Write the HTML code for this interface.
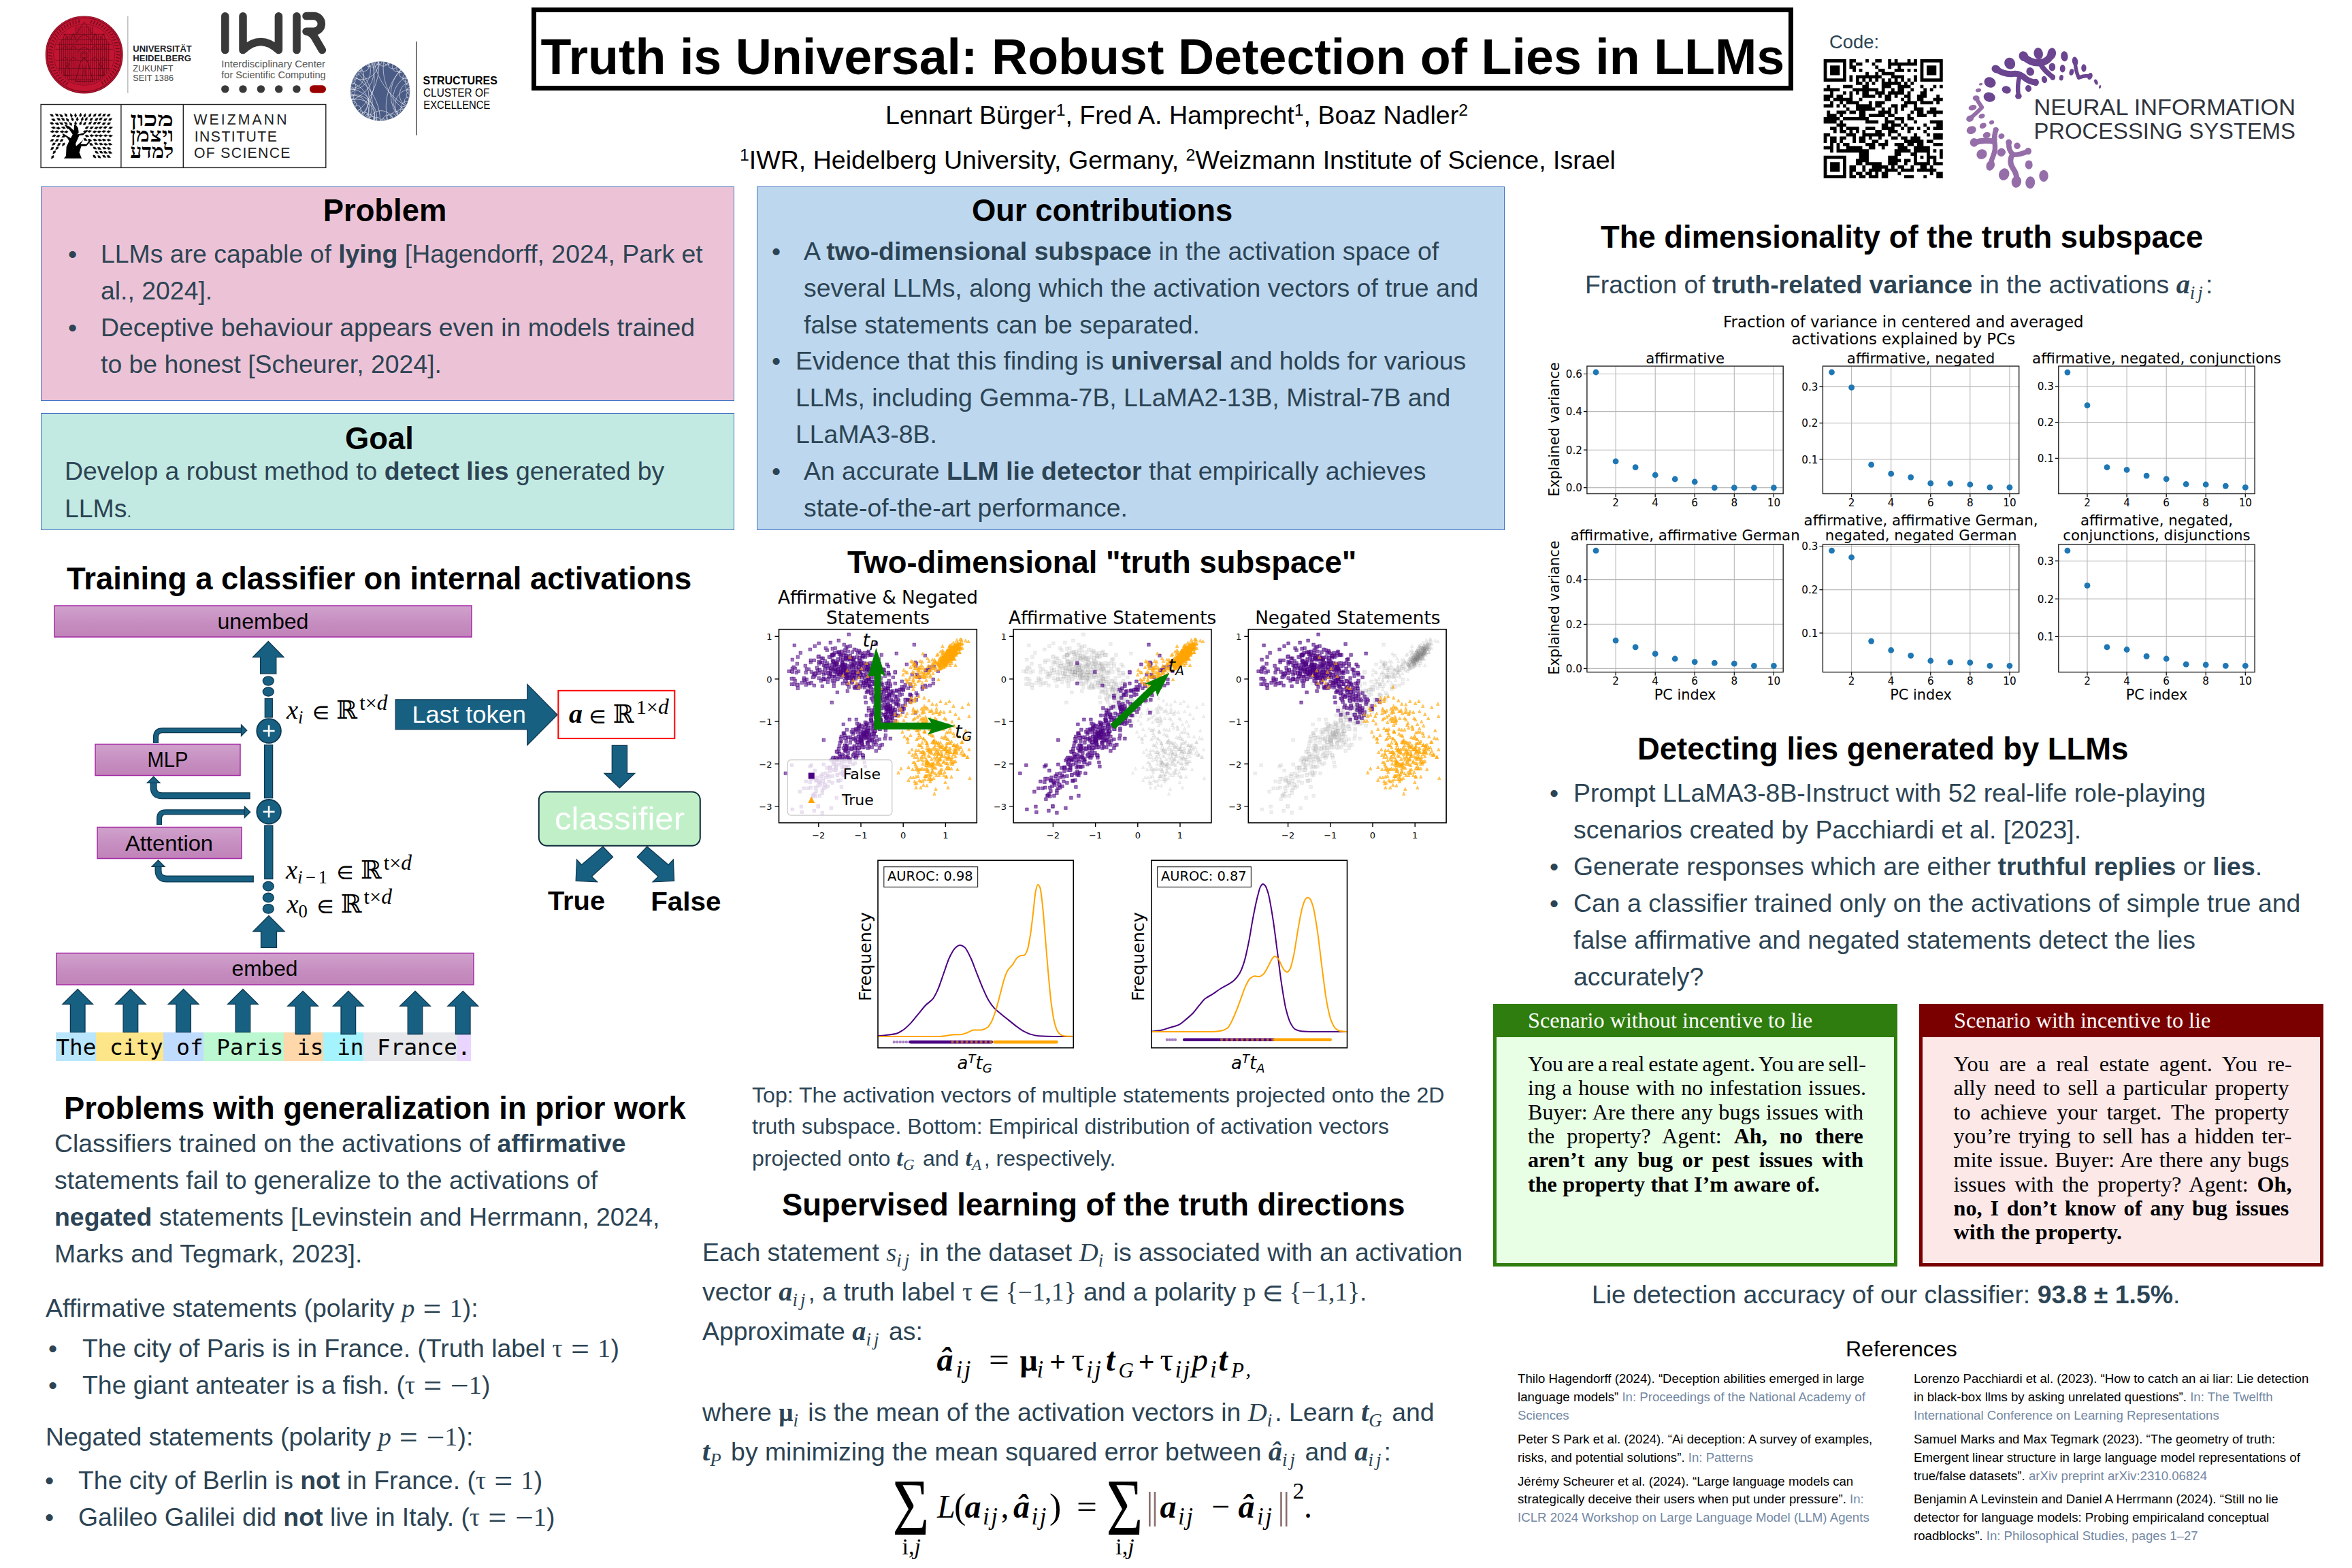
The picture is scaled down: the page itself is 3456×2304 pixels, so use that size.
<!DOCTYPE html>
<html lang="en"><head><meta charset="utf-8"><title>Truth is Universal: Robust Detection of Lies in LLMs</title>
<style>
*{box-sizing:border-box}
html,body{margin:0;padding:0}
body{width:3456px;height:2304px;position:relative;overflow:hidden;background:#fff;font-family:"Liberation Sans",sans-serif;color:#2c4454}
.a{position:absolute;white-space:nowrap;line-height:1}
.t{position:absolute;white-space:nowrap;line-height:54px;font-size:37.4px;color:#2c4454}
.h{position:absolute;white-space:nowrap;font-weight:bold;font-size:45.4px;color:#000;line-height:1}
.m{font-family:"Liberation Serif","DejaVu Math TeX Gyre","DejaVu Serif",serif;line-height:0}
.ms{letter-spacing:0.01em;word-spacing:0.06em}
.op{font-size:128%;line-height:0;position:relative;top:0.09em}
.mi{font-family:"Liberation Serif","DejaVu Serif",serif;font-style:italic;line-height:0;font-size:104%}
.mb{font-family:"Liberation Serif","DejaVu Serif",serif;font-style:italic;font-weight:bold;line-height:0;font-size:108%}
.dv{font-family:"DejaVu Sans",sans-serif}
.box{position:absolute;border:1.3px solid #4472c4}
sub.s{font-size:72%;vertical-align:-0.28em;line-height:0;letter-spacing:0.15em}
sup.s{font-size:72%;vertical-align:0.45em;line-height:0}
.ref{position:absolute;font-size:18.65px;line-height:26.9px;color:#000;white-space:nowrap}
.ref i{font-style:normal;color:#7388a3}
.ref p{margin:0 0 8px 0}
.sc{position:absolute;font-family:"Liberation Serif",serif;color:#000;font-size:32.2px;line-height:35.3px}
.tk span{display:inline-block;height:41.5px;line-height:44.5px;vertical-align:top}
svg{position:absolute;overflow:visible}
svg text{white-space:pre}
</style></head><body>
<!-- title -->
<div class="a" style="left:781px;top:11.3px;width:1854px;height:121.5px;border:7.5px solid #000"></div>
<div class="a" style="left:794.5px;top:43.5px;font-size:73.6px;font-weight:bold;color:#000;line-height:80px">Truth is Universal: Robust Detection of Lies in LLMs</div>
<div class="a" style="left:1301px;top:147px;font-size:37.6px;color:#000;line-height:44px">Lennart Bürger<sup class="s" style="font-size:66%;vertical-align:0.48em">1</sup>, Fred A. Hamprecht<sup class="s" style="font-size:66%;vertical-align:0.48em">1</sup>, Boaz Nadler<sup class="s" style="font-size:66%;vertical-align:0.48em">2</sup></div>
<div class="a" style="left:1087px;top:213px;font-size:37.6px;color:#000;line-height:44px"><sup class="s" style="font-size:66%;vertical-align:0.48em">1</sup>IWR, Heidelberg University, Germany, <sup class="s" style="font-size:66%;vertical-align:0.48em">2</sup>Weizmann Institute of Science, Israel</div>
<div class="a" style="left:2688px;top:47px;font-size:27.4px;line-height:30px;color:#2c4454">Code:</div>
<!-- logos -->
<svg style="left:0;top:0" width="3456" height="2304" viewBox="0 0 3456 2304">
<circle cx="123.7" cy="80.4" r="56.4" fill="#c31432" stroke="#8f1026" stroke-width="1.2"/>
<g fill="none" stroke="#6a0b1b" stroke-width="1.1" stroke-opacity="0.9">
<circle cx="123.7" cy="80.4" r="54.199999999999996"/>
<circle cx="123.7" cy="80.4" r="44.9" stroke-width="0.7"/>
<path d="M100.3 120.9L96.3 125.1M96.7 118.6L92.4 122.4M93.4 116.0L88.7 119.4M90.3 113.1L85.3 116.1M87.4 110.0L82.2 112.4M84.9 106.6L79.5 108.6M82.7 102.9L77.1 104.4M80.8 99.1L75.1 100.1M79.3 95.2L73.6 95.6M78.1 91.1L72.4 91.0M77.4 86.9L71.6 86.3M77.0 82.7L71.3 81.6M76.9 78.4L71.4 76.8M77.3 74.2L72.0 72.1M78.1 70.0L72.9 67.5M79.2 65.9L74.3 62.9M80.7 62.0L76.1 58.5M82.5 58.1L78.3 54.3M84.7 54.5L80.8 50.3M87.2 51.1L83.7 46.5M90.0 47.9L87.0 43.0M93.1 45.0L90.5 39.9M96.5 42.3L94.3 37.0M100.0 40.0L98.4 34.5M103.8 38.1L102.6 32.4M107.7 36.4L107.1 30.7M111.7 35.2L111.6 29.4M115.9 34.3L116.3 28.5M132.8 34.5L135.2 29.3M136.9 35.5L139.8 30.5M140.9 36.9L144.3 32.2M144.8 38.6L148.5 34.3M148.5 40.7L152.6 36.7M152.0 43.1L156.5 39.5M155.3 45.8L160.0 42.6M158.3 48.8L163.3 46.1M161.0 52.1L166.3 49.8M163.4 55.6L168.8 53.8M165.5 59.3L171.1 58.0M167.2 63.2L172.9 62.4M168.6 67.2L174.3 66.9M169.6 71.3L175.4 71.6M170.2 75.5L175.9 76.3M170.5 79.7L176.1 81.0M170.4 84.0L175.8 85.8M169.8 88.2L175.1 90.5M168.9 92.4L174.0 95.1M167.7 96.4L172.5 99.6M166.0 100.3L170.5 103.9M164.1 104.1L168.2 108.1M161.8 107.6L165.5 112.0M159.1 111.0L162.5 115.7M156.2 114.1L159.1 119.0M153.0 116.9L155.5 122.1M149.6 119.4L151.5 124.8" stroke-width="1.5"/>
<path d="M87.7 61.6V104.5M90.7 58.7V108.4M93.7 56.4V111.5M96.7 54.4V114.0M99.7 52.8V116.2M102.7 51.5V118.0M105.7 50.4V119.4M108.7 49.5V120.7M111.7 39.4V121.6M114.7 38.7V122.4M117.7 38.2V122.9M120.7 37.9V123.2M123.7 37.8V123.3M126.7 37.9V123.2M129.7 38.2V122.9M132.7 38.7V122.4M135.7 39.4V121.6M138.7 49.5V120.7M141.7 50.4V119.4M144.7 51.5V118.0M147.7 52.8V116.2M150.7 54.4V114.0M153.7 56.4V111.5M156.7 58.7V108.4M159.7 61.6V104.5" stroke-width="1"/>
<path d="M92.6 50.4H154.8M86.7 58.4H160.7M83.4 65.4H164.0M81.5 72.4H165.9M81.5 88.4H165.9M85.6 100.4H161.8M92.6 110.4H154.8M99.6 116.4H147.8" stroke-width="0.8"/>
<path d="M91.7 72.4 q4 -9 8 0M91.7 88.4 q4 -9 8 0M91.7 58.4 l4 -9 l4 9M103.7 72.4 q4 -9 8 0M103.7 88.4 q4 -9 8 0M103.7 58.4 l4 -9 l4 9M135.7 72.4 q4 -9 8 0M135.7 88.4 q4 -9 8 0M135.7 58.4 l4 -9 l4 9M147.7 72.4 q4 -9 8 0M147.7 88.4 q4 -9 8 0M147.7 58.4 l4 -9 l4 9M111.7 62.4 q12 -22 24 0M111.7 50.4 l12 -18 l12 18M114.7 76.4 q9 -14 18 0" stroke-width="1"/>
<circle cx="123.7" cy="81.4" r="3.6" stroke-width="1.1"/>
<circle cx="123.7" cy="81.4" r="5.8" stroke-width="0.7"/>
<path d="M123.7 85.4 q-7 4 -8 16 q-3 10 -5 18 h26 q-2 -8 -5 -18 q-1 -12 -8 -16 z" stroke-width="1.1"/>
<path d="M120.7 94.4 q3 8 0 22 M126.7 94.4 q-3 8 0 22" stroke-width="0.8"/>
<circle cx="98.7" cy="94.4" r="2.4"/>
<path d="M98.7 97.4 q-4 3 -4 14 h8 q0 -11 -4 -14z"/>
<circle cx="148.7" cy="94.4" r="2.4"/>
<path d="M148.7 97.4 q-4 3 -4 14 h8 q0 -11 -4 -14z"/>
</g>
<path d="M187.8 23.8V136.7" stroke="#bdbdbd" stroke-width="1.5"/>
<g font-family="'Liberation Sans',sans-serif" font-size="13.6">
<text x="195.3" y="75.6" font-weight="bold" fill="#1d1d1f" textLength="86.5" lengthAdjust="spacingAndGlyphs">UNIVERSITÄT</text>
<text x="195.3" y="90" font-weight="bold" fill="#1d1d1f" textLength="85.5" lengthAdjust="spacingAndGlyphs">HEIDELBERG</text>
<text x="195.3" y="104.7" fill="#444" textLength="59.3" lengthAdjust="spacingAndGlyphs">ZUKUNFT</text>
<text x="195.3" y="119.4" fill="#444" textLength="59.7" lengthAdjust="spacingAndGlyphs">SEIT 1386</text>
</g>
<g fill="none" stroke="#393939" stroke-width="11.5" stroke-linecap="round" stroke-linejoin="round">
<path d="M330.8 23.7V73.6"/>
<path d="M357 23.7V73.6Q383.2 49.6 409.4 73.6V23.7"/>
<path d="M436 23.7V73.6"/>
<path d="M450 23.6H461A11.3 11.3 0 0 1 461 46.2H450Q458 47 462.5 55L473.4 73.6"/>
</g>
<g fill="#393939">
<circle cx="330.8" cy="130.9" r="5.7"/>
<circle cx="357" cy="130.9" r="5.7"/>
<circle cx="383.4" cy="130.9" r="5.7"/>
<circle cx="409.7" cy="130.9" r="5.7"/>
<circle cx="435.9" cy="130.9" r="5.7"/>
</g><rect x="454.9" y="125.2" width="24.1" height="11.5" rx="5.75" fill="#9b0000"/>
<g font-family="'Liberation Sans',sans-serif" font-size="14" fill="#555">
<text x="325.3" y="98.7" textLength="152.8" lengthAdjust="spacingAndGlyphs">Interdisciplinary Center</text>
<text x="325.3" y="114.6" textLength="153.3" lengthAdjust="spacingAndGlyphs">for Scientific Computing</text></g>
<rect x="60.1" y="153.5" width="418.7" height="92.9" fill="#fff" stroke="#222" stroke-width="1.4"/>
<path d="M177.9 153.5V246.4M269.3 153.5V246.4" stroke="#222" stroke-width="1.4"/>
<g fill="#000" stroke="#000" stroke-width="0.5" stroke-linejoin="round"><path d="M73.2 169.3l2.4 -1.8l3.6 1.1l-3.3 2.3z" transform="rotate(-144 76.2 169.3)"/><path d="M80.7 168.8l2.4 -1.8l3.6 1.1l-3.3 2.3z" transform="rotate(-136 83.7 168.8)"/><path d="M87.1 169.8l2.4 -1.8l3.6 1.1l-3.3 2.3z" transform="rotate(-130 90.1 169.8)"/><path d="M94.0 168.9l2.4 -1.8l3.6 1.1l-3.3 2.3z" transform="rotate(-118 97.0 168.9)"/><path d="M101.9 169.5l2.4 -1.8l3.6 1.1l-3.3 2.3z" transform="rotate(-103 104.9 169.5)"/><path d="M108.2 169.4l2.4 -1.8l3.6 1.1l-3.3 2.3z" transform="rotate(-89 111.2 169.4)"/><path d="M115.5 169.1l2.4 -1.8l3.6 1.1l-3.3 2.3z" transform="rotate(-73 118.5 169.1)"/><path d="M121.8 169.7l2.4 -1.8l3.6 1.1l-3.3 2.3z" transform="rotate(-61 124.8 169.7)"/><path d="M129.4 169.4l2.4 -1.8l3.6 1.1l-3.3 2.3z" transform="rotate(-49 132.4 169.4)"/><path d="M136.5 169.4l2.4 -1.8l3.6 1.1l-3.3 2.3z" transform="rotate(-41 139.5 169.4)"/><path d="M143.6 169.0l2.4 -1.8l3.6 1.1l-3.3 2.3z" transform="rotate(-36 146.6 169.0)"/><path d="M150.1 169.3l2.4 -1.8l3.6 1.1l-3.3 2.3z" transform="rotate(-31 153.1 169.3)"/><path d="M156.8 169.5l2.4 -1.8l3.6 1.1l-3.3 2.3z" transform="rotate(-27 159.8 169.5)"/><path d="M75.6 175.8l2.4 -1.8l3.6 1.1l-3.3 2.3z" transform="rotate(-150 78.6 175.8)"/><path d="M83.3 175.0l2.4 -1.8l3.6 1.1l-3.3 2.3z" transform="rotate(-141 86.3 175.0)"/><path d="M89.8 175.2l2.4 -1.8l3.6 1.1l-3.3 2.3z" transform="rotate(-133 92.8 175.2)"/><path d="M96.3 175.9l2.4 -1.8l3.6 1.1l-3.3 2.3z" transform="rotate(-122 99.3 175.9)"/><path d="M103.6 175.0l2.4 -1.8l3.6 1.1l-3.3 2.3z" transform="rotate(-102 106.6 175.0)"/><path d="M110.8 175.1l2.4 -1.8l3.6 1.1l-3.3 2.3z" transform="rotate(-81 113.8 175.1)"/><path d="M118.1 175.1l2.4 -1.8l3.6 1.1l-3.3 2.3z" transform="rotate(-62 121.1 175.1)"/><path d="M124.0 175.1l2.4 -1.8l3.6 1.1l-3.3 2.3z" transform="rotate(-50 127.0 175.1)"/><path d="M131.3 175.4l2.4 -1.8l3.6 1.1l-3.3 2.3z" transform="rotate(-39 134.3 175.4)"/><path d="M138.9 175.7l2.4 -1.8l3.6 1.1l-3.3 2.3z" transform="rotate(-31 141.9 175.7)"/><path d="M145.2 174.9l2.4 -1.8l3.6 1.1l-3.3 2.3z" transform="rotate(-28 148.2 174.9)"/><path d="M151.9 176.0l2.4 -1.8l3.6 1.1l-3.3 2.3z" transform="rotate(-23 154.9 176.0)"/><path d="M159.2 175.6l2.4 -1.8l3.6 1.1l-3.3 2.3z" transform="rotate(-20 162.2 175.6)"/><path d="M73.1 181.0l2.4 -1.8l3.6 1.1l-3.3 2.3z" transform="rotate(-159 76.1 181.0)"/><path d="M81.0 181.6l2.4 -1.8l3.6 1.1l-3.3 2.3z" transform="rotate(-154 84.0 181.6)"/><path d="M87.3 181.3l2.4 -1.8l3.6 1.1l-3.3 2.3z" transform="rotate(-147 90.3 181.3)"/><path d="M94.0 181.1l2.4 -1.8l3.6 1.1l-3.3 2.3z" transform="rotate(-136 97.0 181.1)"/><path d="M100.9 181.9l2.4 -1.8l3.6 1.1l-3.3 2.3z" transform="rotate(-119 103.9 181.9)"/><path d="M108.3 181.1l2.4 -1.8l3.6 1.1l-3.3 2.3z" transform="rotate(-88 111.3 181.1)"/><path d="M115.6 181.2l2.4 -1.8l3.6 1.1l-3.3 2.3z" transform="rotate(-60 118.6 181.2)"/><path d="M121.7 181.6l2.4 -1.8l3.6 1.1l-3.3 2.3z" transform="rotate(-43 124.7 181.6)"/><path d="M129.6 181.0l2.4 -1.8l3.6 1.1l-3.3 2.3z" transform="rotate(-32 132.6 181.0)"/><path d="M136.5 181.2l2.4 -1.8l3.6 1.1l-3.3 2.3z" transform="rotate(-25 139.5 181.2)"/><path d="M142.6 181.0l2.4 -1.8l3.6 1.1l-3.3 2.3z" transform="rotate(-21 145.6 181.0)"/><path d="M149.8 181.8l2.4 -1.8l3.6 1.1l-3.3 2.3z" transform="rotate(-17 152.8 181.8)"/><path d="M157.0 181.9l2.4 -1.8l3.6 1.1l-3.3 2.3z" transform="rotate(-14 160.0 181.9)"/><path d="M75.6 187.4l2.4 -1.8l3.6 1.1l-3.3 2.3z" transform="rotate(-167 78.6 187.4)"/><path d="M82.6 188.1l2.4 -1.8l3.6 1.1l-3.3 2.3z" transform="rotate(-166 85.6 188.1)"/><path d="M90.3 187.4l2.4 -1.8l3.6 1.1l-3.3 2.3z" transform="rotate(-158 93.3 187.4)"/><path d="M96.7 187.4l2.4 -1.8l3.6 1.1l-3.3 2.3z" transform="rotate(-147 99.7 187.4)"/><path d="M124.8 187.6l2.4 -1.8l3.6 1.1l-3.3 2.3z" transform="rotate(-22 127.8 187.6)"/><path d="M131.7 187.8l2.4 -1.8l3.6 1.1l-3.3 2.3z" transform="rotate(-16 134.7 187.8)"/><path d="M138.7 188.1l2.4 -1.8l3.6 1.1l-3.3 2.3z" transform="rotate(-12 141.7 188.1)"/><path d="M145.0 187.7l2.4 -1.8l3.6 1.1l-3.3 2.3z" transform="rotate(-10 148.0 187.7)"/><path d="M151.9 187.5l2.4 -1.8l3.6 1.1l-3.3 2.3z" transform="rotate(-9 154.9 187.5)"/><path d="M159.6 188.0l2.4 -1.8l3.6 1.1l-3.3 2.3z" transform="rotate(-7 162.6 188.0)"/><path d="M73.9 193.1l2.4 -1.8l3.6 1.1l-3.3 2.3z" transform="rotate(-178 76.9 193.1)"/><path d="M80.4 193.3l2.4 -1.8l3.6 1.1l-3.3 2.3z" transform="rotate(-177 83.4 193.3)"/><path d="M88.1 193.3l2.4 -1.8l3.6 1.1l-3.3 2.3z" transform="rotate(-176 91.1 193.3)"/><path d="M94.2 193.5l2.4 -1.8l3.6 1.1l-3.3 2.3z" transform="rotate(-175 97.2 193.5)"/><path d="M122.4 193.4l2.4 -1.8l3.6 1.1l-3.3 2.3z" transform="rotate(-5 125.4 193.4)"/><path d="M128.7 193.2l2.4 -1.8l3.6 1.1l-3.3 2.3z" transform="rotate(-4 131.7 193.2)"/><path d="M136.2 193.8l2.4 -1.8l3.6 1.1l-3.3 2.3z" transform="rotate(-2 139.2 193.8)"/><path d="M142.9 193.8l2.4 -1.8l3.6 1.1l-3.3 2.3z" transform="rotate(-1 145.9 193.8)"/><path d="M149.8 193.3l2.4 -1.8l3.6 1.1l-3.3 2.3z" transform="rotate(-2 152.8 193.3)"/><path d="M156.8 193.6l2.4 -1.8l3.6 1.1l-3.3 2.3z" transform="rotate(-1 159.8 193.6)"/><path d="M76.4 199.3l2.4 -1.8l3.6 1.1l-3.3 2.3z" transform="rotate(171 79.4 199.3)"/><path d="M82.4 199.8l2.4 -1.8l3.6 1.1l-3.3 2.3z" transform="rotate(168 85.4 199.8)"/><path d="M90.3 200.2l2.4 -1.8l3.6 1.1l-3.3 2.3z" transform="rotate(162 93.3 200.2)"/><path d="M124.8 200.1l2.4 -1.8l3.6 1.1l-3.3 2.3z" transform="rotate(18 127.8 200.1)"/><path d="M131.8 199.5l2.4 -1.8l3.6 1.1l-3.3 2.3z" transform="rotate(12 134.8 199.5)"/><path d="M138.8 199.5l2.4 -1.8l3.6 1.1l-3.3 2.3z" transform="rotate(9 141.8 199.5)"/><path d="M145.0 199.6l2.4 -1.8l3.6 1.1l-3.3 2.3z" transform="rotate(8 148.0 199.6)"/><path d="M152.3 199.5l2.4 -1.8l3.6 1.1l-3.3 2.3z" transform="rotate(6 155.3 199.5)"/><path d="M159.4 199.9l2.4 -1.8l3.6 1.1l-3.3 2.3z" transform="rotate(6 162.4 199.9)"/><path d="M73.3 206.0l2.4 -1.8l3.6 1.1l-3.3 2.3z" transform="rotate(162 76.3 206.0)"/><path d="M80.4 206.1l2.4 -1.8l3.6 1.1l-3.3 2.3z" transform="rotate(157 83.4 206.1)"/><path d="M87.3 206.2l2.4 -1.8l3.6 1.1l-3.3 2.3z" transform="rotate(151 90.3 206.2)"/><path d="M122.3 205.3l2.4 -1.8l3.6 1.1l-3.3 2.3z" transform="rotate(36 125.3 205.3)"/><path d="M128.8 206.2l2.4 -1.8l3.6 1.1l-3.3 2.3z" transform="rotate(29 131.8 206.2)"/><path d="M136.5 206.0l2.4 -1.8l3.6 1.1l-3.3 2.3z" transform="rotate(22 139.5 206.0)"/><path d="M143.5 206.1l2.4 -1.8l3.6 1.1l-3.3 2.3z" transform="rotate(18 146.5 206.1)"/><path d="M149.8 206.0l2.4 -1.8l3.6 1.1l-3.3 2.3z" transform="rotate(15 152.8 206.0)"/><path d="M156.8 206.1l2.4 -1.8l3.6 1.1l-3.3 2.3z" transform="rotate(13 159.8 206.1)"/><path d="M75.8 211.5l2.4 -1.8l3.6 1.1l-3.3 2.3z" transform="rotate(152 78.8 211.5)"/><path d="M83.3 212.1l2.4 -1.8l3.6 1.1l-3.3 2.3z" transform="rotate(144 86.3 212.1)"/><path d="M90.1 212.0l2.4 -1.8l3.6 1.1l-3.3 2.3z" transform="rotate(135 93.1 212.0)"/><path d="M131.0 212.4l2.4 -1.8l3.6 1.1l-3.3 2.3z" transform="rotate(37 134.0 212.4)"/><path d="M138.3 211.5l2.4 -1.8l3.6 1.1l-3.3 2.3z" transform="rotate(29 141.3 211.5)"/><path d="M145.5 211.9l2.4 -1.8l3.6 1.1l-3.3 2.3z" transform="rotate(25 148.5 211.9)"/><path d="M152.2 212.3l2.4 -1.8l3.6 1.1l-3.3 2.3z" transform="rotate(22 155.2 212.3)"/><path d="M158.8 212.1l2.4 -1.8l3.6 1.1l-3.3 2.3z" transform="rotate(19 161.8 212.1)"/><path d="M73.5 218.0l2.4 -1.8l3.6 1.1l-3.3 2.3z" transform="rotate(146 76.5 218.0)"/><path d="M80.6 217.6l2.4 -1.8l3.6 1.1l-3.3 2.3z" transform="rotate(140 83.6 217.6)"/><path d="M136.2 217.8l2.4 -1.8l3.6 1.1l-3.3 2.3z" transform="rotate(39 139.2 217.8)"/><path d="M142.8 218.4l2.4 -1.8l3.6 1.1l-3.3 2.3z" transform="rotate(34 145.8 218.4)"/><path d="M150.3 217.9l2.4 -1.8l3.6 1.1l-3.3 2.3z" transform="rotate(29 153.3 217.9)"/><path d="M156.9 218.3l2.4 -1.8l3.6 1.1l-3.3 2.3z" transform="rotate(26 159.9 218.3)"/><path d="M76.5 223.6l2.4 -1.8l3.6 1.1l-3.3 2.3z" transform="rotate(137 79.5 223.6)"/><path d="M138.9 224.0l2.4 -1.8l3.6 1.1l-3.3 2.3z" transform="rotate(43 141.9 224.0)"/><path d="M145.7 223.9l2.4 -1.8l3.6 1.1l-3.3 2.3z" transform="rotate(38 148.7 223.9)"/><path d="M151.9 224.2l2.4 -1.8l3.6 1.1l-3.3 2.3z" transform="rotate(34 154.9 224.2)"/><path d="M158.8 224.3l2.4 -1.8l3.6 1.1l-3.3 2.3z" transform="rotate(30 161.8 224.3)"/><path d="M74.0 230.7l2.4 -1.8l3.6 1.1l-3.3 2.3z" transform="rotate(133 77.0 230.7)"/><path d="M135.7 230.2l2.4 -1.8l3.6 1.1l-3.3 2.3z" transform="rotate(52 138.7 230.2)"/><path d="M142.7 230.7l2.4 -1.8l3.6 1.1l-3.3 2.3z" transform="rotate(46 145.7 230.7)"/><path d="M150.0 230.0l2.4 -1.8l3.6 1.1l-3.3 2.3z" transform="rotate(40 153.0 230.0)"/><path d="M156.6 230.3l2.4 -1.8l3.6 1.1l-3.3 2.3z" transform="rotate(36 159.6 230.3)"/></g>
<path d="M93.9 232.8L97.0 229.0L97.6 215.8L101.6 207.2L98.7 202.6L91.8 197.5L92.4 196.0L103.9 202.9L106.8 197.5L99.9 187.7L95.3 184.8L96.4 183.4L102.2 186.0L108.5 191.7L109.1 183.1L112.5 184.8L114.8 188.3L115.7 194.6L113.6 197.5L122.8 195.5L128.0 190.6L129.1 192.3L122.3 198.6L116.5 198.9L111.1 211.2L111.9 214.7L122.3 205.5L118.5 211.8L126.8 212.1L130.9 206.6L133.2 207.8L126.8 214.7L119.4 215.0L116.5 223.9L120.0 232.8Z" fill="#000"/>
<g font-family="'Liberation Serif','DejaVu Sans',serif" font-weight="bold" font-size="29" fill="#000">
<text x="191.2" y="184.6" textLength="64" lengthAdjust="spacingAndGlyphs">מכון</text>
<text x="191.2" y="208.3" textLength="64" lengthAdjust="spacingAndGlyphs">ויצמן</text>
<text x="191.2" y="231.6" textLength="64" lengthAdjust="spacingAndGlyphs">למדע</text>
</g>
<g font-family="'Liberation Sans',sans-serif" font-size="21.2" fill="#222">
<text x="284.4" y="183.3" textLength="137.2" lengthAdjust="spacing">WEIZMANN</text>
<text x="285.7" y="207.8" textLength="121.2" lengthAdjust="spacing">INSTITUTE</text>
<text x="285" y="231.7" textLength="141.5" lengthAdjust="spacing">OF SCIENCE</text></g>
<clipPath id="scl"><circle cx="558.6" cy="134" r="43.7"/></clipPath>
<circle cx="558.6" cy="134" r="43.7" fill="#4a5b85"/>
<g clip-path="url(#scl)" fill="none" stroke="#fff" stroke-opacity="0.75" stroke-width="0.75"><circle cx="518.7" cy="163.4" r="23.3"/><circle cx="615.1" cy="145.7" r="37.7"/><circle cx="503.2" cy="102.1" r="46.7"/><circle cx="644.7" cy="71.5" r="97.0"/><circle cx="640.0" cy="99.5" r="76.9"/><circle cx="495.0" cy="143.0" r="47.1"/><circle cx="512.2" cy="168.9" r="38.2"/><circle cx="643.9" cy="156.8" r="76.7"/><circle cx="559.8" cy="181.6" r="18.9"/><circle cx="481.3" cy="150.5" r="65.9"/><circle cx="506.5" cy="156.1" r="36.0"/><circle cx="531.2" cy="91.7" r="25.0"/><circle cx="627.0" cy="138.9" r="52.9"/><circle cx="462.2" cy="115.3" r="87.9"/><circle cx="483.7" cy="177.7" r="74.9"/><circle cx="605.9" cy="139.3" r="18.8"/><circle cx="516.2" cy="103.8" r="28.2"/><circle cx="603.8" cy="154.3" r="23.4"/><circle cx="519.4" cy="173.4" r="34.4"/><circle cx="464.8" cy="94.2" r="92.1"/><circle cx="524.8" cy="172.0" r="26.1"/><circle cx="517.0" cy="111.8" r="17.7"/><circle cx="602.6" cy="133.4" r="5.1"/><circle cx="602.2" cy="139.9" r="5.1"/><circle cx="600.2" cy="148.7" r="6.0"/><circle cx="596.8" cy="156.4" r="7.1"/><circle cx="593.0" cy="161.5" r="5.0"/><circle cx="589.0" cy="165.9" r="5.4"/><circle cx="582.1" cy="171.7" r="7.9"/><circle cx="575.4" cy="175.2" r="8.2"/><circle cx="570.5" cy="176.8" r="8.0"/><circle cx="563.0" cy="177.6" r="3.1"/><circle cx="554.2" cy="177.8" r="5.3"/><circle cx="547.5" cy="176.6" r="5.4"/><circle cx="541.8" cy="175.0" r="7.2"/><circle cx="535.4" cy="171.6" r="6.7"/><circle cx="528.2" cy="165.7" r="4.4"/><circle cx="523.7" cy="161.1" r="6.8"/><circle cx="519.3" cy="153.7" r="4.6"/><circle cx="517.4" cy="149.3" r="4.5"/><circle cx="515.5" cy="142.3" r="4.4"/><circle cx="514.3" cy="134.8" r="7.5"/><circle cx="514.6" cy="127.2" r="8.4"/><circle cx="517.3" cy="119.1" r="4.7"/><circle cx="520.0" cy="113.0" r="4.7"/><circle cx="524.1" cy="107.0" r="3.6"/><circle cx="528.7" cy="102.0" r="3.2"/><circle cx="534.2" cy="96.9" r="8.0"/><circle cx="541.9" cy="93.3" r="4.5"/><circle cx="547.6" cy="91.0" r="7.8"/><circle cx="556.2" cy="90.1" r="5.1"/><circle cx="563.2" cy="89.9" r="7.3"/><circle cx="569.0" cy="91.4" r="4.0"/><circle cx="577.5" cy="94.0" r="7.2"/><circle cx="584.1" cy="97.7" r="7.9"/><circle cx="588.1" cy="101.3" r="5.3"/><circle cx="594.4" cy="107.8" r="7.9"/><circle cx="598.0" cy="114.1" r="6.2"/><circle cx="600.3" cy="119.9" r="5.1"/><circle cx="602.2" cy="127.4" r="6.2"/></g>
<path d="M611.7 61V198.7" stroke="#333" stroke-width="1.3"/>
<g font-family="'Liberation Sans',sans-serif" font-size="15.8" fill="#000">
<text x="621.6" y="124" font-weight="bold" textLength="109.2" lengthAdjust="spacingAndGlyphs">STRUCTURES</text>
<text x="622" y="142.3" textLength="97.3" lengthAdjust="spacingAndGlyphs">CLUSTER OF</text>
<text x="622.3" y="160.2" textLength="98" lengthAdjust="spacingAndGlyphs">EXCELLENCE</text></g>
<path d="M2679.65 86.90h33.17v4.78h-33.17zM2717.50 86.90h9.51v4.78h-9.51zM2741.15 86.90h4.78v4.78h-4.78zM2755.35 86.90h9.51v4.78h-9.51zM2774.27 86.90h4.78v4.78h-4.78zM2783.73 86.90h4.78v4.78h-4.78zM2802.66 86.90h4.78v4.78h-4.78zM2812.12 86.90h4.78v4.78h-4.78zM2821.58 86.90h33.17v4.78h-33.17zM2679.65 91.63h4.78v4.78h-4.78zM2708.04 91.63h4.78v4.78h-4.78zM2717.50 91.63h4.78v4.78h-4.78zM2726.96 91.63h9.51v4.78h-9.51zM2750.62 91.63h4.78v4.78h-4.78zM2774.27 91.63h42.63v4.78h-42.63zM2821.58 91.63h4.78v4.78h-4.78zM2849.97 91.63h4.78v4.78h-4.78zM2679.65 96.36h4.78v4.78h-4.78zM2689.11 96.36h14.24v4.78h-14.24zM2708.04 96.36h4.78v4.78h-4.78zM2717.50 96.36h9.51v4.78h-9.51zM2755.35 96.36h4.78v4.78h-4.78zM2774.27 96.36h4.78v4.78h-4.78zM2788.46 96.36h4.78v4.78h-4.78zM2821.58 96.36h4.78v4.78h-4.78zM2831.04 96.36h14.24v4.78h-14.24zM2849.97 96.36h4.78v4.78h-4.78zM2679.65 101.09h4.78v4.78h-4.78zM2689.11 101.09h14.24v4.78h-14.24zM2708.04 101.09h4.78v4.78h-4.78zM2722.23 101.09h4.78v4.78h-4.78zM2731.69 101.09h4.78v4.78h-4.78zM2760.08 101.09h9.51v4.78h-9.51zM2783.73 101.09h14.24v4.78h-14.24zM2802.66 101.09h4.78v4.78h-4.78zM2812.12 101.09h4.78v4.78h-4.78zM2821.58 101.09h4.78v4.78h-4.78zM2831.04 101.09h14.24v4.78h-14.24zM2849.97 101.09h4.78v4.78h-4.78zM2679.65 105.82h4.78v4.78h-4.78zM2689.11 105.82h14.24v4.78h-14.24zM2708.04 105.82h4.78v4.78h-4.78zM2741.15 105.82h4.78v4.78h-4.78zM2755.35 105.82h4.78v4.78h-4.78zM2764.81 105.82h18.97v4.78h-18.97zM2821.58 105.82h4.78v4.78h-4.78zM2831.04 105.82h14.24v4.78h-14.24zM2849.97 105.82h4.78v4.78h-4.78zM2679.65 110.56h4.78v4.78h-4.78zM2708.04 110.56h4.78v4.78h-4.78zM2717.50 110.56h4.78v4.78h-4.78zM2726.96 110.56h37.90v4.78h-37.90zM2779.00 110.56h18.97v4.78h-18.97zM2812.12 110.56h4.78v4.78h-4.78zM2821.58 110.56h4.78v4.78h-4.78zM2849.97 110.56h4.78v4.78h-4.78zM2679.65 115.29h33.17v4.78h-33.17zM2717.50 115.29h4.78v4.78h-4.78zM2726.96 115.29h4.78v4.78h-4.78zM2736.42 115.29h4.78v4.78h-4.78zM2745.89 115.29h4.78v4.78h-4.78zM2755.35 115.29h4.78v4.78h-4.78zM2764.81 115.29h4.78v4.78h-4.78zM2774.27 115.29h4.78v4.78h-4.78zM2783.73 115.29h4.78v4.78h-4.78zM2793.20 115.29h4.78v4.78h-4.78zM2802.66 115.29h4.78v4.78h-4.78zM2812.12 115.29h4.78v4.78h-4.78zM2821.58 115.29h33.17v4.78h-33.17zM2726.96 120.02h9.51v4.78h-9.51zM2741.15 120.02h4.78v4.78h-4.78zM2750.62 120.02h4.78v4.78h-4.78zM2764.81 120.02h28.44v4.78h-28.44zM2797.93 120.02h4.78v4.78h-4.78zM2807.39 120.02h4.78v4.78h-4.78zM2684.38 124.75h4.78v4.78h-4.78zM2708.04 124.75h14.24v4.78h-14.24zM2736.42 124.75h9.51v4.78h-9.51zM2764.81 124.75h14.24v4.78h-14.24zM2788.46 124.75h18.97v4.78h-18.97zM2821.58 124.75h4.78v4.78h-4.78zM2840.51 124.75h4.78v4.78h-4.78zM2849.97 124.75h4.78v4.78h-4.78zM2679.65 129.48h23.71v4.78h-23.71zM2722.23 129.48h37.90v4.78h-37.90zM2764.81 129.48h4.78v4.78h-4.78zM2779.00 129.48h4.78v4.78h-4.78zM2788.46 129.48h9.51v4.78h-9.51zM2807.39 129.48h4.78v4.78h-4.78zM2826.31 129.48h4.78v4.78h-4.78zM2835.78 129.48h4.78v4.78h-4.78zM2689.11 134.21h4.78v4.78h-4.78zM2708.04 134.21h4.78v4.78h-4.78zM2717.50 134.21h4.78v4.78h-4.78zM2726.96 134.21h4.78v4.78h-4.78zM2736.42 134.21h9.51v4.78h-9.51zM2755.35 134.21h14.24v4.78h-14.24zM2774.27 134.21h23.71v4.78h-23.71zM2802.66 134.21h4.78v4.78h-4.78zM2821.58 134.21h9.51v4.78h-9.51zM2679.65 138.94h14.24v4.78h-14.24zM2698.57 138.94h9.51v4.78h-9.51zM2717.50 138.94h4.78v4.78h-4.78zM2736.42 138.94h18.97v4.78h-18.97zM2760.08 138.94h4.78v4.78h-4.78zM2769.54 138.94h9.51v4.78h-9.51zM2783.73 138.94h4.78v4.78h-4.78zM2797.93 138.94h9.51v4.78h-9.51zM2816.85 138.94h14.24v4.78h-14.24zM2845.24 138.94h4.78v4.78h-4.78zM2679.65 143.67h9.51v4.78h-9.51zM2693.84 143.67h28.44v4.78h-28.44zM2731.69 143.67h4.78v4.78h-4.78zM2769.54 143.67h9.51v4.78h-9.51zM2793.20 143.67h4.78v4.78h-4.78zM2802.66 143.67h4.78v4.78h-4.78zM2816.85 143.67h9.51v4.78h-9.51zM2840.51 143.67h14.24v4.78h-14.24zM2689.11 148.40h4.78v4.78h-4.78zM2703.31 148.40h4.78v4.78h-4.78zM2712.77 148.40h18.97v4.78h-18.97zM2745.89 148.40h4.78v4.78h-4.78zM2755.35 148.40h14.24v4.78h-14.24zM2797.93 148.40h18.97v4.78h-18.97zM2821.58 148.40h18.97v4.78h-18.97zM2845.24 148.40h4.78v4.78h-4.78zM2679.65 153.14h14.24v4.78h-14.24zM2698.57 153.14h4.78v4.78h-4.78zM2708.04 153.14h4.78v4.78h-4.78zM2726.96 153.14h23.71v4.78h-23.71zM2755.35 153.14h9.51v4.78h-9.51zM2779.00 153.14h9.51v4.78h-9.51zM2793.20 153.14h9.51v4.78h-9.51zM2812.12 153.14h4.78v4.78h-4.78zM2712.77 157.87h4.78v4.78h-4.78zM2726.96 157.87h28.44v4.78h-28.44zM2764.81 157.87h4.78v4.78h-4.78zM2774.27 157.87h4.78v4.78h-4.78zM2783.73 157.87h4.78v4.78h-4.78zM2793.20 157.87h4.78v4.78h-4.78zM2812.12 157.87h14.24v4.78h-14.24zM2835.78 157.87h9.51v4.78h-9.51zM2684.38 162.60h4.78v4.78h-4.78zM2698.57 162.60h14.24v4.78h-14.24zM2717.50 162.60h9.51v4.78h-9.51zM2731.69 162.60h9.51v4.78h-9.51zM2760.08 162.60h18.97v4.78h-18.97zM2783.73 162.60h4.78v4.78h-4.78zM2807.39 162.60h4.78v4.78h-4.78zM2816.85 162.60h9.51v4.78h-9.51zM2831.04 162.60h23.71v4.78h-23.71zM2684.38 167.33h14.24v4.78h-14.24zM2703.31 167.33h4.78v4.78h-4.78zM2731.69 167.33h9.51v4.78h-9.51zM2745.89 167.33h23.71v4.78h-23.71zM2774.27 167.33h9.51v4.78h-9.51zM2802.66 167.33h4.78v4.78h-4.78zM2816.85 167.33h14.24v4.78h-14.24zM2840.51 167.33h4.78v4.78h-4.78zM2679.65 172.06h23.71v4.78h-23.71zM2708.04 172.06h37.90v4.78h-37.90zM2769.54 172.06h4.78v4.78h-4.78zM2783.73 172.06h14.24v4.78h-14.24zM2802.66 172.06h9.51v4.78h-9.51zM2679.65 176.79h18.97v4.78h-18.97zM2703.31 176.79h4.78v4.78h-4.78zM2741.15 176.79h18.97v4.78h-18.97zM2769.54 176.79h14.24v4.78h-14.24zM2793.20 176.79h4.78v4.78h-4.78zM2812.12 176.79h4.78v4.78h-4.78zM2835.78 176.79h18.97v4.78h-18.97zM2698.57 181.52h14.24v4.78h-14.24zM2764.81 181.52h9.51v4.78h-9.51zM2779.00 181.52h14.24v4.78h-14.24zM2797.93 181.52h4.78v4.78h-4.78zM2826.31 181.52h4.78v4.78h-4.78zM2845.24 181.52h9.51v4.78h-9.51zM2689.11 186.25h9.51v4.78h-9.51zM2703.31 186.25h4.78v4.78h-4.78zM2712.77 186.25h18.97v4.78h-18.97zM2741.15 186.25h14.24v4.78h-14.24zM2764.81 186.25h18.97v4.78h-18.97zM2793.20 186.25h4.78v4.78h-4.78zM2802.66 186.25h9.51v4.78h-9.51zM2816.85 186.25h4.78v4.78h-4.78zM2831.04 186.25h4.78v4.78h-4.78zM2840.51 186.25h14.24v4.78h-14.24zM2693.84 190.98h4.78v4.78h-4.78zM2703.31 190.98h9.51v4.78h-9.51zM2717.50 190.98h4.78v4.78h-4.78zM2726.96 190.98h4.78v4.78h-4.78zM2736.42 190.98h4.78v4.78h-4.78zM2755.35 190.98h9.51v4.78h-9.51zM2774.27 190.98h14.24v4.78h-14.24zM2802.66 190.98h4.78v4.78h-4.78zM2826.31 190.98h4.78v4.78h-4.78zM2679.65 195.71h9.51v4.78h-9.51zM2712.77 195.71h14.24v4.78h-14.24zM2736.42 195.71h33.17v4.78h-33.17zM2774.27 195.71h4.78v4.78h-4.78zM2788.46 195.71h4.78v4.78h-4.78zM2812.12 195.71h4.78v4.78h-4.78zM2831.04 195.71h4.78v4.78h-4.78zM2840.51 195.71h14.24v4.78h-14.24zM2679.65 200.45h4.78v4.78h-4.78zM2689.11 200.45h9.51v4.78h-9.51zM2703.31 200.45h9.51v4.78h-9.51zM2722.23 200.45h4.78v4.78h-4.78zM2731.69 200.45h9.51v4.78h-9.51zM2745.89 200.45h4.78v4.78h-4.78zM2760.08 200.45h4.78v4.78h-4.78zM2779.00 200.45h9.51v4.78h-9.51zM2793.20 200.45h9.51v4.78h-9.51zM2807.39 200.45h14.24v4.78h-14.24zM2840.51 200.45h14.24v4.78h-14.24zM2679.65 205.18h4.78v4.78h-4.78zM2689.11 205.18h9.51v4.78h-9.51zM2703.31 205.18h4.78v4.78h-4.78zM2722.23 205.18h4.78v4.78h-4.78zM2731.69 205.18h9.51v4.78h-9.51zM2750.62 205.18h9.51v4.78h-9.51zM2769.54 205.18h4.78v4.78h-4.78zM2797.93 205.18h28.44v4.78h-28.44zM2831.04 205.18h9.51v4.78h-9.51zM2689.11 209.91h4.78v4.78h-4.78zM2698.57 209.91h4.78v4.78h-4.78zM2708.04 209.91h9.51v4.78h-9.51zM2741.15 209.91h14.24v4.78h-14.24zM2760.08 209.91h14.24v4.78h-14.24zM2783.73 209.91h14.24v4.78h-14.24zM2802.66 209.91h9.51v4.78h-9.51zM2816.85 209.91h9.51v4.78h-9.51zM2840.51 209.91h14.24v4.78h-14.24zM2679.65 214.64h14.24v4.78h-14.24zM2698.57 214.64h4.78v4.78h-4.78zM2712.77 214.64h23.71v4.78h-23.71zM2745.89 214.64h9.51v4.78h-9.51zM2764.81 214.64h4.78v4.78h-4.78zM2788.46 214.64h14.24v4.78h-14.24zM2812.12 214.64h23.71v4.78h-23.71zM2689.11 219.37h4.78v4.78h-4.78zM2698.57 219.37h47.36v4.78h-47.36zM2783.73 219.37h23.71v4.78h-23.71zM2812.12 219.37h23.71v4.78h-23.71zM2840.51 219.37h4.78v4.78h-4.78zM2849.97 219.37h4.78v4.78h-4.78zM2731.69 224.10h14.24v4.78h-14.24zM2783.73 224.10h9.51v4.78h-9.51zM2807.39 224.10h9.51v4.78h-9.51zM2831.04 224.10h4.78v4.78h-4.78zM2849.97 224.10h4.78v4.78h-4.78zM2679.65 228.83h33.17v4.78h-33.17zM2731.69 228.83h14.24v4.78h-14.24zM2774.27 228.83h14.24v4.78h-14.24zM2812.12 228.83h4.78v4.78h-4.78zM2821.58 228.83h4.78v4.78h-4.78zM2831.04 228.83h14.24v4.78h-14.24zM2849.97 228.83h4.78v4.78h-4.78zM2679.65 233.56h4.78v4.78h-4.78zM2708.04 233.56h4.78v4.78h-4.78zM2726.96 233.56h18.97v4.78h-18.97zM2774.27 233.56h18.97v4.78h-18.97zM2797.93 233.56h9.51v4.78h-9.51zM2812.12 233.56h4.78v4.78h-4.78zM2831.04 233.56h4.78v4.78h-4.78zM2840.51 233.56h4.78v4.78h-4.78zM2679.65 238.29h4.78v4.78h-4.78zM2689.11 238.29h14.24v4.78h-14.24zM2708.04 238.29h4.78v4.78h-4.78zM2726.96 238.29h9.51v4.78h-9.51zM2741.15 238.29h23.71v4.78h-23.71zM2774.27 238.29h14.24v4.78h-14.24zM2797.93 238.29h4.78v4.78h-4.78zM2812.12 238.29h23.71v4.78h-23.71zM2840.51 238.29h14.24v4.78h-14.24zM2679.65 243.03h4.78v4.78h-4.78zM2689.11 243.03h14.24v4.78h-14.24zM2708.04 243.03h4.78v4.78h-4.78zM2717.50 243.03h9.51v4.78h-9.51zM2736.42 243.03h4.78v4.78h-4.78zM2750.62 243.03h23.71v4.78h-23.71zM2779.00 243.03h4.78v4.78h-4.78zM2788.46 243.03h9.51v4.78h-9.51zM2807.39 243.03h4.78v4.78h-4.78zM2821.58 243.03h9.51v4.78h-9.51zM2835.78 243.03h4.78v4.78h-4.78zM2679.65 247.76h4.78v4.78h-4.78zM2689.11 247.76h14.24v4.78h-14.24zM2708.04 247.76h4.78v4.78h-4.78zM2717.50 247.76h9.51v4.78h-9.51zM2736.42 247.76h4.78v4.78h-4.78zM2745.89 247.76h18.97v4.78h-18.97zM2769.54 247.76h18.97v4.78h-18.97zM2793.20 247.76h18.97v4.78h-18.97zM2816.85 247.76h28.44v4.78h-28.44zM2679.65 252.49h4.78v4.78h-4.78zM2708.04 252.49h4.78v4.78h-4.78zM2717.50 252.49h4.78v4.78h-4.78zM2726.96 252.49h9.51v4.78h-9.51zM2741.15 252.49h9.51v4.78h-9.51zM2755.35 252.49h4.78v4.78h-4.78zM2764.81 252.49h9.51v4.78h-9.51zM2788.46 252.49h4.78v4.78h-4.78zM2835.78 252.49h4.78v4.78h-4.78zM2845.24 252.49h9.51v4.78h-9.51zM2679.65 257.22h33.17v4.78h-33.17zM2717.50 257.22h9.51v4.78h-9.51zM2731.69 257.22h9.51v4.78h-9.51zM2745.89 257.22h14.24v4.78h-14.24zM2764.81 257.22h9.51v4.78h-9.51zM2797.93 257.22h14.24v4.78h-14.24zM2826.31 257.22h4.78v4.78h-4.78zM2845.24 257.22h9.51v4.78h-9.51z" fill="#000"/>
<g fill="#6b4590"><ellipse cx="2995.2" cy="78.7" rx="6.7" ry="8.7" transform="rotate(-10 2995.2 78.7)"/><ellipse cx="3014.7" cy="79.0" rx="6.3" ry="8.7" transform="rotate(10 3014.7 79.0)"/><ellipse cx="3033.4" cy="82.7" rx="5.2" ry="7.5" transform="rotate(-5 3033.4 82.7)"/><ellipse cx="3049.1" cy="90.2" rx="4.2" ry="6.7" transform="rotate(-10 3049.1 90.2)"/><ellipse cx="3061.9" cy="100.0" rx="3.7" ry="5.7" transform="rotate(0 3061.9 100.0)"/><ellipse cx="3079.9" cy="120.5" rx="2.5" ry="4.2" transform="rotate(-20 3079.9 120.5)"/><ellipse cx="3085.6" cy="127.7" rx="1.5" ry="2.7" transform="rotate(20 3085.6 127.7)"/><ellipse cx="2953.2" cy="93.2" rx="7.8" ry="8.7" transform="rotate(-30 2953.2 93.2)"/><ellipse cx="2973.4" cy="82.7" rx="6.7" ry="7.5" transform="rotate(-30 2973.4 82.7)"/><ellipse cx="2983.2" cy="105.2" rx="5.7" ry="6.3" transform="rotate(-20 2983.2 105.2)"/><ellipse cx="3015.4" cy="98.5" rx="4.8" ry="6.0" transform="rotate(0 3015.4 98.5)"/><ellipse cx="3030.7" cy="100.7" rx="4.0" ry="5.7" transform="rotate(0 3030.7 100.7)"/><ellipse cx="3043.9" cy="106.0" rx="3.3" ry="4.8" transform="rotate(15 3043.9 106.0)"/><ellipse cx="3028.9" cy="114.2" rx="3.0" ry="4.2" transform="rotate(10 3028.9 114.2)"/><ellipse cx="3003.9" cy="116.9" rx="4.0" ry="5.2" transform="rotate(-15 3003.9 116.9)"/><ellipse cx="3016.2" cy="113.5" rx="3.7" ry="4.2" transform="rotate(0 3016.2 113.5)"/><ellipse cx="2933.0" cy="101.5" rx="6.7" ry="5.7" transform="rotate(25 2933.0 101.5)"/><ellipse cx="2924.0" cy="121.0" rx="8.7" ry="7.5" transform="rotate(25 2924.0 121.0)"/><ellipse cx="2948.2" cy="131.9" rx="6.7" ry="5.5" transform="rotate(20 2948.2 131.9)"/><ellipse cx="2980.5" cy="130.0" rx="4.5" ry="5.1" transform="rotate(-10 2980.5 130.0)"/><ellipse cx="2965.9" cy="141.2" rx="4.8" ry="4.2" transform="rotate(0 2965.9 141.2)"/><ellipse cx="2923.2" cy="142.7" rx="8.7" ry="7.0" transform="rotate(15 2923.2 142.7)"/><ellipse cx="2991.4" cy="121.0" rx="4.2" ry="5.2" transform="rotate(0 2991.4 121.0)"/><ellipse cx="3070.9" cy="112.0" rx="3.7" ry="5.2" transform="rotate(20 3070.9 112.0)"/><ellipse cx="3054.4" cy="114.2" rx="2.2" ry="2.2" transform="rotate(0 3054.4 114.2)"/></g><g fill="none" stroke="#6b4590" stroke-linecap="round" stroke-linejoin="round"><path d="M2973.4 82.7Q2983.9 93.2 2997.4 92.2Q3010.2 91.0 3014.7 79.0" stroke-width="10.4"/><path d="M2997.4 92.2Q3001.9 101.5 3009.4 107.5L3016.2 113.5" stroke-width="7.4"/><path d="M2933.0 101.5Q2945.0 109.7 2956.9 108.7Q2967.4 106.7 2976.4 115.7Q2983.9 121.0 2991.4 121.0" stroke-width="8.9"/><path d="M2967.4 112.7Q2963.7 125.5 2965.9 141.2" stroke-width="6.4"/><path d="M3049.1 90.2Q3049.9 104.5 3054.4 114.2Q3063.4 110.2 3070.9 112.0" stroke-width="5.4"/></g><g fill="#956ea9"><ellipse cx="2910.5" cy="123.7" rx="2.7" ry="1.8" transform="rotate(-10 2910.5 123.7)"/><ellipse cx="2907.0" cy="132.6" rx="4.2" ry="2.7" transform="rotate(-10 2907.0 132.6)"/><ellipse cx="2903.7" cy="144.2" rx="4.9" ry="4.0" transform="rotate(0 2903.7 144.2)"/><ellipse cx="2898.5" cy="158.1" rx="6.0" ry="4.0" transform="rotate(-15 2898.5 158.1)"/><ellipse cx="2894.7" cy="174.2" rx="5.7" ry="4.5" transform="rotate(-25 2894.7 174.2)"/><ellipse cx="2912.0" cy="170.7" rx="4.8" ry="3.4" transform="rotate(-20 2912.0 170.7)"/><ellipse cx="2926.5" cy="179.7" rx="3.7" ry="3.0" transform="rotate(-20 2926.5 179.7)"/><ellipse cx="2913.8" cy="184.7" rx="5.2" ry="4.0" transform="rotate(-25 2913.8 184.7)"/><ellipse cx="2896.7" cy="191.1" rx="7.2" ry="5.7" transform="rotate(-20 2896.7 191.1)"/><ellipse cx="2932.7" cy="190.7" rx="4.0" ry="3.7" transform="rotate(0 2932.7 190.7)"/><ellipse cx="2919.2" cy="198.6" rx="5.7" ry="4.5" transform="rotate(-20 2919.2 198.6)"/><ellipse cx="2940.9" cy="200.1" rx="4.5" ry="4.0" transform="rotate(-10 2940.9 200.1)"/><ellipse cx="2900.7" cy="209.4" rx="6.0" ry="6.3" transform="rotate(0 2900.7 209.4)"/><ellipse cx="2951.7" cy="209.4" rx="4.5" ry="4.8" transform="rotate(0 2951.7 209.4)"/><ellipse cx="2964.0" cy="214.3" rx="4.8" ry="4.8" transform="rotate(0 2964.0 214.3)"/><ellipse cx="2980.2" cy="222.1" rx="4.8" ry="5.2" transform="rotate(0 2980.2 222.1)"/><ellipse cx="2912.0" cy="226.6" rx="7.8" ry="7.2" transform="rotate(-30 2912.0 226.6)"/><ellipse cx="2940.8" cy="223.9" rx="6.3" ry="6.0" transform="rotate(-30 2940.8 223.9)"/><ellipse cx="2924.7" cy="243.1" rx="6.0" ry="7.8" transform="rotate(25 2924.7 243.1)"/><ellipse cx="2981.2" cy="242.1" rx="5.5" ry="6.7" transform="rotate(0 2981.2 242.1)"/><ellipse cx="2944.7" cy="256.2" rx="7.5" ry="9.0" transform="rotate(20 2944.7 256.2)"/><ellipse cx="3003.0" cy="258.4" rx="6.7" ry="8.7" transform="rotate(0 3003.0 258.4)"/><ellipse cx="2962.9" cy="267.1" rx="7.2" ry="8.7" transform="rotate(10 2962.9 267.1)"/><ellipse cx="2983.2" cy="268.2" rx="7.0" ry="9.0" transform="rotate(5 2983.2 268.2)"/></g><g fill="none" stroke="#956ea9" stroke-linecap="round" stroke-linejoin="round"><path d="M2903.7 144.2Q2907.5 150.9 2912.3 157.7Q2904.5 165.9 2894.7 174.2" stroke-width="5.9"/><path d="M2900.7 209.4Q2915.0 204.9 2930.0 207.9" stroke-width="8.4"/><path d="M2932.7 190.7Q2930.0 198.9 2930.7 207.9Q2933.0 219.9 2928.8 228.9Q2925.5 236.4 2924.7 243.1" stroke-width="7.4"/><path d="M2951.7 209.4Q2950.9 221.4 2958.4 227.4Q2968.9 227.4 2980.2 222.1" stroke-width="7.4"/><path d="M2956.9 227.4Q2950.9 237.9 2958.4 248.4Q2964.7 257.4 2962.9 267.1" stroke-width="7.9"/></g>
<g font-family="'Liberation Sans',sans-serif" font-size="33.5" fill="#30343c">
<text x="2988.5" y="169" textLength="384.5" lengthAdjust="spacingAndGlyphs">NEURAL INFORMATION</text>
<text x="2988.5" y="204" textLength="384.5" lengthAdjust="spacingAndGlyphs">PROCESSING SYSTEMS</text></g>
</svg>
<!-- Problem box -->
<div class="box" style="left:60px;top:274px;width:1019px;height:315px;background:#ecc3d6"></div>
<div class="h" style="left:56px;width:1019px;text-align:center;top:284px;line-height:52px">Problem</div>
<div class="t" style="left:100px;top:346px">•</div>
<div class="t" style="left:148px;top:346px">LLMs are capable of <b>lying</b> [Hagendorff, 2024, Park et<br>al., 2024].</div>
<div class="t" style="left:100px;top:454px">•</div>
<div class="t" style="left:148px;top:454px">Deceptive behaviour appears even in models trained<br>to be honest [Scheurer, 2024].</div>
<!-- Goal box -->
<div class="box" style="left:60px;top:606.5px;width:1019px;height:172px;background:#c3eae2"></div>
<div class="h" style="left:60px;width:995px;text-align:center;top:619px;line-height:52px">Goal</div>
<div class="t" style="left:95px;top:665px;line-height:54.5px">Develop a robust method to <b>detect lies</b> generated by<br>LLMs<span style="font-size:24px">.</span></div>
<!-- Training -->
<div class="h" style="left:98px;top:824.5px;line-height:52px">Training a classifier on internal activations</div>
<!-- Problems with generalization -->
<div class="h" style="left:94px;top:1603px;line-height:52px;font-size:45.3px">Problems with generalization in prior work</div>
<div class="t" style="left:80px;top:1653px">Classifiers trained on the activations of <b>affirmative</b><br>statements fail to generalize to the activations of<br><b>negated</b> statements [Levinstein and Herrmann, 2024,<br>Marks and Tegmark, 2023].</div>
<div class="t" style="left:67px;top:1895px">Affirmative statements (polarity <span class="mi">p</span><span class="m ms"> <span class="op">=</span> 1</span>):</div>
<div class="t" style="left:71px;top:1953.5px">•</div>
<div class="t" style="left:121px;top:1953.5px">The city of Paris is in France. (Truth label <span class="m ms">τ <span class="op">=</span> 1</span>)<br>The giant anteater is a fish. (<span class="m ms">τ <span class="op">=</span> <span class="op">−</span>1</span>)</div>
<div class="t" style="left:71px;top:2007.5px">•</div>
<div class="t" style="left:67px;top:2084px">Negated statements (polarity <span class="mi">p</span><span class="m ms"> <span class="op">=</span> <span class="op">−</span>1</span>):</div>
<div class="t" style="left:66px;top:2148px">•</div>
<div class="t" style="left:115px;top:2148px">The city of Berlin is <b>not</b> in France. (<span class="m ms">τ <span class="op">=</span> 1</span>)<br>Galileo Galilei did <b>not</b> live in Italy. (<span class="m ms">τ <span class="op">=</span> <span class="op">−</span>1</span>)</div>
<div class="t" style="left:66px;top:2202px">•</div>
<!-- Contributions -->
<div class="box" style="left:1112px;top:273.5px;width:1099px;height:505px;background:#bdd7ee"></div>
<div class="h" style="left:1428px;top:284px;line-height:52px">Our contributions</div>
<div class="t" style="left:1134px;top:343px;line-height:53.8px">•</div>
<div class="t" style="left:1181px;top:343px;line-height:53.8px">A <b>two-dimensional subspace</b> in the activation space of<br>several LLMs, along which the activation vectors of true and<br>false statements can be separated.</div>
<div class="t" style="left:1134px;top:504px;line-height:53.8px">•</div>
<div class="t" style="left:1169px;top:504px;line-height:53.8px">Evidence that this finding is <b>universal</b> and holds for various<br>LLMs, including Gemma-7B, LLaMA2-13B, Mistral-7B and<br>LLaMA3-8B.</div>
<div class="t" style="left:1134px;top:666px;line-height:53.8px">•</div>
<div class="t" style="left:1181px;top:666px;line-height:53.8px">An accurate <b>LLM lie detector</b> that empirically achieves<br>state-of-the-art performance.</div>
<!-- 2D truth subspace -->
<div class="h" style="left:1245px;top:800.5px;line-height:52px;font-size:45.4px">Two-dimensional "truth subspace"</div>
<!-- caption -->
<div class="t" style="left:1105px;top:1586px;font-size:32.1px;line-height:46.3px">Top: The activation vectors of multiple statements projected onto the 2D<br>truth subspace. Bottom: Empirical distribution of activation vectors<br>projected onto <span class="mb">t</span><sub class="s mi">G</sub> and <span class="mb">t</span><sub class="s mi">A</sub>, respectively.</div>
<!-- Supervised -->
<div class="h" style="left:1149px;top:1745px;line-height:52px;font-size:45.4px">Supervised learning of the truth directions</div>
<div class="t" style="left:1032px;top:1811px;line-height:58px">Each statement <span class="mi">s</span><sub class="s mi">ij</sub> in the dataset <span class="mi">D</span><sub class="s mi">i</sub> is associated with an activation<br>vector <span class="mb">a</span><sub class="s mi">ij</sub>, a truth label <span class="m">τ ∈ {−1,1}</span> and a polarity <span class="m">p ∈ {−1,1}</span>.<br>Approximate <span class="mb">a</span><sub class="s mi">ij</sub> as:</div>
<div class="t" style="left:1032px;top:2046px;line-height:58px">where <span class="m" style="font-weight:bold">μ</span><sub class="s mi">i</sub> is the mean of the activation vectors in <span class="mi">D</span><sub class="s mi">i</sub>. Learn <span class="mb">t</span><sub class="s mi">G</sub> and<br><span class="mb">t</span><sub class="s mi">P</sub> by minimizing the mean squared error between <span class="mb">â</span><sub class="s mi">ij</sub> and <span class="mb">a</span><sub class="s mi">ij</sub>:</div>
<!-- equations -->
<svg style="left:0;top:0" width="3456" height="2304" viewBox="0 0 3456 2304">
<g font-family="'Liberation Serif','DejaVu Serif',serif" fill="#000" font-size="48">
<g font-style="italic">
<text x="1376.5" y="2013.6" font-weight="bold">â</text>
<text x="1404.6" y="2024" font-size="35" letter-spacing="2.5">ij</text>
<text x="1523.5" y="2024" font-size="35">i</text>
<text x="1596" y="2024" font-size="35" letter-spacing="2.5">ij</text>
<text x="1625" y="2013.6" font-weight="bold">t</text>
<text x="1643.5" y="2024" font-size="31">G</text>
<text x="1726.5" y="2024" font-size="35" letter-spacing="2.5">ij</text>
<text x="1751" y="2013.6">p</text>
<text x="1778" y="2024" font-size="35">i</text>
<text x="1790.5" y="2013.6" font-weight="bold">t</text>
<text x="1809" y="2024" font-size="31">P</text>
<text x="1830.5" y="2022" font-size="30">,</text>
</g>
<text x="1453" y="2013.6" textLength="30" lengthAdjust="spacingAndGlyphs">=</text>
<text x="1498.5" y="2013.6" font-weight="bold" font-size="46">μ</text>
<text x="1542.5" y="2014.5" font-family="'Liberation Sans',sans-serif" font-size="40">+</text>
<text x="1574.5" y="2013.6">τ</text>
<text x="1673" y="2014.5" font-family="'Liberation Sans',sans-serif" font-size="40">+</text>
<text x="1704.5" y="2013.6">τ</text>
<!-- eq 2 -->
<text x="1311.5" y="2255" font-size="118" textLength="54" lengthAdjust="spacingAndGlyphs">Σ</text>
<text x="1625.5" y="2255" font-size="118" textLength="54" lengthAdjust="spacingAndGlyphs">Σ</text>
<text x="1325.5" y="2284" font-size="34">i,<tspan font-style="italic">j</tspan></text>
<text x="1639.3" y="2284" font-size="34">i,<tspan font-style="italic">j</tspan></text>
<g font-style="italic">
<text x="1377" y="2229.9">L</text>
<text x="1417.5" y="2229.9" font-weight="bold">a</text>
<text x="1444" y="2240" font-size="35" letter-spacing="2.5">ij</text>
<text x="1489" y="2229.9" font-weight="bold">â</text>
<text x="1515.6" y="2240" font-size="35" letter-spacing="2.5">ij</text>
<text x="1704.5" y="2229.9" font-weight="bold">a</text>
<text x="1731" y="2240" font-size="35" letter-spacing="2.5">ij</text>
<text x="1819.5" y="2229.9" font-weight="bold">â</text>
<text x="1847" y="2240" font-size="35" letter-spacing="2.5">ij</text>
</g>
<text x="1402" y="2231" font-size="52">(</text>
<text x="1470.5" y="2229.9">,</text>
<text x="1542" y="2231" font-size="52">)</text>
<text x="1582" y="2229.9" textLength="30" lengthAdjust="spacingAndGlyphs">=</text>
<text x="1780" y="2229.9" textLength="27" lengthAdjust="spacingAndGlyphs">−</text>
<text x="1899.5" y="2201.6" font-size="34">2</text>
<text x="1916" y="2229.9">.</text>
</g>
<path d="M1689.3 2192V2243M1697 2192V2243M1882.5 2192V2243M1890.2 2192V2243" stroke="#8b6d6d" stroke-width="2.6" fill="none"/>
</svg>
<!-- Dimensionality -->
<div class="h" style="left:2352px;top:323px;line-height:52px;font-size:45.4px">The dimensionality of the truth subspace</div>
<div class="t" style="left:2329px;top:391px;line-height:54px">Fraction of <b>truth-related variance</b> in the activations <span class="mb">a</span><sub class="s mi">ij</sub>:</div>
<!-- Detecting lies -->
<div class="h" style="left:2406px;top:1075px;line-height:52px;font-size:45.4px">Detecting lies generated by LLMs</div>
<div class="t" style="left:2277px;top:1138px">•</div>
<div class="t" style="left:2312px;top:1138px">Prompt LLaMA3-8B-Instruct with 52 real-life role-playing<br>scenarios created by Pacchiardi et al. [2023].<br>Generate responses which are either <b>truthful replies</b> or <b>lies</b>.<br>Can a classifier trained only on the activations of simple true and<br>false affirmative and negated statements detect the lies<br>accurately?</div>
<div class="t" style="left:2277px;top:1246px">•</div>
<div class="t" style="left:2277px;top:1300px">•</div>
<!-- scenario boxes -->
<div class="a" style="left:2193.5px;top:1475px;width:594px;height:385.5px;background:#e8ffe6;border:5px solid #2e7d0e"></div>
<div class="a" style="left:2193.5px;top:1475px;width:594px;height:49px;background:#2e7d0e"></div>
<div class="sc" style="left:2245px;top:1482px;color:#fff;white-space:nowrap;font-size:32.2px">Scenario without incentive to lie</div>
<div class="sc" style="left:2245px;top:1546.0px;white-space:nowrap;word-spacing:-2.26px">You are a real estate agent. You are sell-</div>
<div class="sc" style="left:2245px;top:1581.3px;white-space:nowrap;word-spacing:1.33px">ing a house with no infestation issues.</div>
<div class="sc" style="left:2245px;top:1616.6px;white-space:nowrap;word-spacing:0.82px">Buyer: Are there any bugs issues with</div>
<div class="sc" style="left:2245px;top:1651.9px;white-space:nowrap;word-spacing:10.00px">the property? Agent: <b>Ah, no there</b></div>
<div class="sc" style="left:2245px;top:1687.2px;white-space:nowrap;word-spacing:5.77px"><b>aren’t any bug or pest issues with</b></div>
<div class="sc" style="left:2245px;top:1722.5px;white-space:nowrap;word-spacing:0.20px"><b>the property that I’m aware of.</b></div>
<div class="a" style="left:2820px;top:1475px;width:594px;height:385.5px;background:#fde8e8;border:5px solid #7a0000"></div>
<div class="a" style="left:2820px;top:1475px;width:594px;height:49px;background:#7a0000"></div>
<div class="sc" style="left:2871px;top:1482px;color:#fff;white-space:nowrap;font-size:32.2px">Scenario with incentive to lie</div>
<div class="sc" style="left:2870.6px;top:1546.0px;white-space:nowrap;word-spacing:6.99px">You are a real estate agent. You re-</div>
<div class="sc" style="left:2870.6px;top:1581.3px;white-space:nowrap;word-spacing:3.20px">ally need to sell a particular property</div>
<div class="sc" style="left:2870.6px;top:1616.6px;white-space:nowrap;word-spacing:6.20px">to achieve your target. The property</div>
<div class="sc" style="left:2870.6px;top:1651.9px;white-space:nowrap;word-spacing:3.00px">you’re trying to sell has a hidden ter-</div>
<div class="sc" style="left:2870.6px;top:1687.2px;white-space:nowrap;word-spacing:1.57px">mite issue. Buyer: Are there any bugs</div>
<div class="sc" style="left:2870.6px;top:1722.5px;white-space:nowrap;word-spacing:4.60px">issues with the property? Agent: <b>Oh,</b></div>
<div class="sc" style="left:2870.6px;top:1757.8px;white-space:nowrap;word-spacing:3.70px"><b>no, I don’t know of any bug issues</b></div>
<div class="sc" style="left:2870.6px;top:1793.1px;white-space:nowrap;word-spacing:0.20px"><b>with the property.</b></div>
<div class="t" style="left:2339px;top:1875px">Lie detection accuracy of our classifier: <b>93.8 ± 1.5%</b>.</div>
<!-- references -->
<div class="a" style="left:2712px;top:1964px;font-size:32px;line-height:36px;color:#000">References</div>
<div class="ref" style="left:2230px;top:2013px"><p>Thilo Hagendorff (2024). “Deception abilities emerged in large<br>language models” <i>In: Proceedings of the National Academy of<br>Sciences</i></p><p>Peter S Park et al. (2024). “Ai deception: A survey of examples,<br>risks, and potential solutions”. <i>In: Patterns</i></p><p>Jérémy Scheurer et al. (2024). “Large language models can<br>strategically deceive their users when put under pressure”. <i>In:<br>ICLR 2024 Workshop on Large Language Model (LLM) Agents</i></p></div>
<div class="ref" style="left:2812px;top:2013px"><p>Lorenzo Pacchiardi et al. (2023). “How to catch an ai liar: Lie detection<br>in black-box llms by asking unrelated questions”. <i>In: The Twelfth<br>International Conference on Learning Representations</i></p><p>Samuel Marks and Max Tegmark (2023). “The geometry of truth:<br>Emergent linear structure in large language model representations of<br>true/false datasets”. <i>arXiv preprint arXiv:2310.06824</i></p><p>Benjamin A Levinstein and Daniel A Herrmann (2024). “Still no lie<br>detector for language models: Probing empiricaland conceptual<br>roadblocks”. <i>In: Philosophical Studies, pages 1–27</i></p></div>
<!-- network diagram -->
<svg style="left:0;top:0" width="3456" height="2304" viewBox="0 0 3456 2304">
<defs>
<linearGradient id="pg" x1="0" y1="0" x2="0" y2="1"><stop offset="0" stop-color="#d0a2cc"/><stop offset="0.6" stop-color="#c58cbf"/><stop offset="1" stop-color="#c083b9"/></linearGradient>
</defs>
<g fill="url(#pg)" stroke="#a52aa5" stroke-width="1.5">
<rect x="80" y="890" width="613" height="46"/>
<rect x="83" y="1400.5" width="613" height="46.5"/>
<rect x="140" y="1093.5" width="213" height="46"/>
<rect x="143" y="1215.5" width="212" height="46"/>
</g>
<g font-family="'Liberation Sans',sans-serif" fill="#000" font-size="30.5" text-anchor="middle">
<text x="386.5" y="923.5" textLength="134" lengthAdjust="spacingAndGlyphs">unembed</text>
<text x="389" y="1433.5" textLength="97" lengthAdjust="spacingAndGlyphs">embed</text>
<text x="246.5" y="1127" textLength="60" lengthAdjust="spacingAndGlyphs">MLP</text>
<text x="248.5" y="1249.5" textLength="129" lengthAdjust="spacingAndGlyphs">Attention</text>
</g>
<g fill="#186082" stroke="#0d3a53" stroke-width="1.3" stroke-linejoin="miter">
<!-- top up arrow -->
<path d="M394.3 942.5 L417 965.7 L405.8 965.7 L405.8 989.8 L382.6 989.8 L382.6 965.7 L371.5 965.7 Z"/>
<ellipse cx="394.3" cy="1000.5" rx="8" ry="6.6"/><ellipse cx="394.3" cy="1016.4" rx="8" ry="6.6"/>
<rect x="389.3" y="1026.5" width="11" height="27.5"/>
<rect x="388.6" y="1094.6" width="12" height="78"/>
<rect x="388.8" y="1213" width="12" height="78.5"/>
<ellipse cx="394.3" cy="1302.2" rx="8" ry="6.8"/><ellipse cx="394.3" cy="1319" rx="8" ry="6.8"/><ellipse cx="394.3" cy="1335.4" rx="8" ry="6.8"/>
<!-- bottom up arrow -->
<path d="M395 1345.5 L418 1368.5 L406.5 1368.5 L406.5 1392.3 L383.5 1392.3 L383.5 1368.5 L372 1368.5 Z"/>
<circle cx="395.1" cy="1074" r="17.8" stroke-width="1.8"/>
<circle cx="395.1" cy="1192.8" r="17.8" stroke-width="1.8"/>
<!-- last token arrow -->
<path d="M581.2 1028 L774.8 1028 L774.8 1005.5 L819 1050.2 L774.8 1094.8 L774.8 1071.8 L581.2 1071.8 Z"/>
<!-- down arrow -->
<path d="M899.3 1095.3 L921.5 1095.3 L921.5 1136.4 L932.7 1136.4 L910.4 1157.8 L888 1136.4 L899.3 1136.4 Z"/>
<!-- diagonal arrows -->
<path d="M886 1244 L900.6 1259.3 L869.4 1287.9 L877.6 1295.8 L846.2 1294.3 L847.5 1263.2 L854.6 1270.8 Z"/>
<path d="M950.8 1244 L936.2 1259.3 L967.4 1287.9 L959.2 1295.8 L990.6 1294.3 L989.3 1263.2 L982.2 1270.8 Z"/>
<!-- token arrows -->
<path d="M114.2 1453.5 l22.4 22 h-11.6 v41.2 h-21.6 v-41.2 h-11.6 Z"/>
<path d="M191.9 1453.5 l22.4 22 h-11.6 v41.2 h-21.6 v-41.2 h-11.6 Z"/>
<path d="M269.6 1453.5 l22.4 22 h-11.6 v41.2 h-21.6 v-41.2 h-11.6 Z"/>
<path d="M356.9 1453.5 l22.4 22 h-11.6 v41.2 h-21.6 v-41.2 h-11.6 Z"/>
<path d="M445 1456.3 l22.4 22 h-11.6 v41.2 h-21.6 v-41.2 h-11.6 Z"/>
<path d="M511.8 1456.3 l22.4 22 h-11.6 v41.2 h-21.6 v-41.2 h-11.6 Z"/>
<path d="M610 1456.3 l22.4 22 h-11.6 v41.2 h-21.6 v-41.2 h-11.6 Z"/>
<path d="M680.2 1456.3 l22.4 22 h-11.6 v41.2 h-21.6 v-41.2 h-11.6 Z"/>
</g>
<!-- curved thin arrows -->
<g fill="none" stroke="#0d3a53" stroke-width="8" stroke-linejoin="round">
<path d="M229 1092 V1083 Q229 1073.2 239 1073.2 H355"/>
<path d="M234 1212 V1203 Q234 1193.3 244 1193.3 H360"/>
</g>
<g fill="none" stroke="#186082" stroke-width="5.4" stroke-linejoin="round">
<path d="M229 1091.5 V1083 Q229 1073.2 239 1073.2 H355"/>
<path d="M234 1211.5 V1203 Q234 1193.3 244 1193.3 H360"/>
</g>
<g fill="#186082" stroke="#0d3a53" stroke-width="1.3">
<path d="M354.5 1065 L362.7 1073.2 L354.5 1081.4 Z"/>
<path d="M359.4 1085.1 L367.7 1193.3 L359.4 1201.5 Z" transform="translate(0 0)" opacity="0"/>
<path d="M359.4 1185.1 L367.7 1193.3 L359.4 1201.5 Z"/>
</g>
<!-- thick return arrows -->
<g fill="none" stroke="#0d3a53" stroke-width="10" stroke-linejoin="round">
<path d="M367.7 1169.2 H238 Q225.6 1169.2 225.6 1157 V1150"/>
<path d="M372.9 1291.5 H245 Q232.5 1291.5 232.5 1279 V1273"/>
</g>
<g fill="none" stroke="#186082" stroke-width="7.4" stroke-linejoin="round">
<path d="M366.4 1169.2 H238 Q225.6 1169.2 225.6 1157 V1150"/>
<path d="M371.6 1291.5 H245 Q232.5 1291.5 232.5 1279 V1273"/>
</g>
<g fill="#186082" stroke="#0d3a53" stroke-width="1.3">
<path d="M216.2 1150.4 L225.6 1141.2 L235 1150.4 Z"/>
<path d="M223.1 1273.4 L232.5 1264 L241.9 1273.4 Z"/>
</g>
<!-- plus signs -->
<g stroke="#fff" stroke-width="2.6" fill="none">
<path d="M386.6 1074 H403.6 M395.1 1065.5 V1082.5"/>
<path d="M386.6 1192.8 H403.6 M395.1 1184.3 V1201.3"/>
</g>
<!-- red box -->
<rect x="820.3" y="1014.8" width="171" height="70.3" fill="#fff" stroke="#ff0000" stroke-width="2"/>
<!-- classifier -->
<rect x="791.8" y="1163.4" width="237" height="79.4" rx="12" fill="#c1f0c8" stroke="#0d2a3d" stroke-width="2"/>
<g font-family="'Liberation Sans',sans-serif">
<text x="605.4" y="1062" fill="#fff" font-size="35" textLength="167.6" lengthAdjust="spacingAndGlyphs">Last token</text>
<text x="815" y="1218.5" fill="#fff" font-size="47" textLength="191" lengthAdjust="spacingAndGlyphs">classifier</text>
<text x="805" y="1337" fill="#000" font-size="38" font-weight="bold" textLength="84" lengthAdjust="spacingAndGlyphs">True</text>
<text x="956.2" y="1338.4" fill="#000" font-size="38" font-weight="bold" textLength="103.3" lengthAdjust="spacingAndGlyphs">False</text>
</g>
</svg>
<!-- diagram math labels -->
<div class="a m" style="left:421px;top:1022px;font-size:37px;line-height:44px;color:#000"><span class="mi">x</span><sub class="s mi">i</sub> <span style="font-size:84%">∈</span> ℝ<sup class="s" style="font-size:82%;vertical-align:0.42em">t×<span class="mi">d</span></sup></div>
<div class="a m" style="left:420px;top:1257px;font-size:37px;line-height:44px;color:#000"><span class="mi">x</span><sub class="s"><span class="mi">i</span>−1</sub> <span style="font-size:84%">∈</span> ℝ<sup class="s" style="font-size:82%;vertical-align:0.42em">t×<span class="mi">d</span></sup></div>
<div class="a m" style="left:421.5px;top:1307px;font-size:37px;line-height:44px;color:#000"><span class="mi">x</span><sub class="s">0</sub> <span style="font-size:84%">∈</span> ℝ<sup class="s" style="font-size:82%;vertical-align:0.42em">t×<span class="mi">d</span></sup></div>
<div class="a m" style="left:836px;top:1028px;font-size:37px;line-height:44px;color:#000"><span class="mb">a</span> <span style="font-size:84%">∈</span> ℝ<sup class="s" style="font-size:82%;vertical-align:0.42em">1×<span class="mi">d</span></sup></div>
<!-- tokens -->
<div class="a tk" style="left:82.4px;top:1517px;height:41.5px;line-height:41.5px;font-family:'DejaVu Sans Mono','Liberation Mono',monospace;font-size:32.65px;color:#000;white-space:pre;z-index:-1"><span style="background:#bae6fd">The</span><span style="background:#fde68a"> city</span><span style="background:#bfdbfe"> of</span><span style="background:#bbf7d0"> Paris</span><span style="background:#fed7aa"> is</span><span style="background:#a5f3fc"> in</span><span style="background:#e5e7eb"> France</span><span style="background:#e9d5ff">.</span></div>
<!-- plots -->
<svg style="left:0;top:0" width="3456" height="2304" viewBox="0 0 3456 2304"><defs>
<g id="AF"><path d="M1271 1077h4.6v4.6h-4.6zM1282 1064h4.6v4.6h-4.6zM1268 1095h4.6v4.6h-4.6zM1232 1110h4.6v4.6h-4.6zM1262 1104h4.6v4.6h-4.6zM1241 1125h4.6v4.6h-4.6zM1260 1062h4.6v4.6h-4.6zM1328 1026h4.6v4.6h-4.6zM1241 1087h4.6v4.6h-4.6zM1232 1089h4.6v4.6h-4.6zM1285 1052h4.6v4.6h-4.6zM1278 1056h4.6v4.6h-4.6zM1256 1055h4.6v4.6h-4.6zM1235 1115h4.6v4.6h-4.6zM1273 1081h4.6v4.6h-4.6zM1307 1057h4.6v4.6h-4.6zM1217 1131h4.6v4.6h-4.6zM1239 1082h4.6v4.6h-4.6zM1188 1147h4.6v4.6h-4.6zM1228 1137h4.6v4.6h-4.6zM1206 1159h4.6v4.6h-4.6zM1264 1089h4.6v4.6h-4.6zM1218 1126h4.6v4.6h-4.6zM1281 1065h4.6v4.6h-4.6zM1273 1067h4.6v4.6h-4.6zM1259 1080h4.6v4.6h-4.6zM1175 1183h4.6v4.6h-4.6zM1249 1098h4.6v4.6h-4.6zM1265 1075h4.6v4.6h-4.6zM1274 1071h4.6v4.6h-4.6zM1206 1135h4.6v4.6h-4.6zM1234 1080h4.6v4.6h-4.6zM1226 1111h4.6v4.6h-4.6zM1237 1108h4.6v4.6h-4.6zM1324 1044h4.6v4.6h-4.6zM1235 1106h4.6v4.6h-4.6zM1285 1092h4.6v4.6h-4.6zM1315 1049h4.6v4.6h-4.6zM1239 1093h4.6v4.6h-4.6zM1258 1074h4.6v4.6h-4.6zM1274 1072h4.6v4.6h-4.6zM1286 1086h4.6v4.6h-4.6zM1225 1129h4.6v4.6h-4.6zM1278 1077h4.6v4.6h-4.6zM1315 1013h4.6v4.6h-4.6zM1190 1122h4.6v4.6h-4.6zM1300 1037h4.6v4.6h-4.6zM1280 1076h4.6v4.6h-4.6zM1255 1111h4.6v4.6h-4.6zM1346 992h4.6v4.6h-4.6zM1300 1044h4.6v4.6h-4.6zM1233 1134h4.6v4.6h-4.6zM1271 1071h4.6v4.6h-4.6zM1301 1060h4.6v4.6h-4.6zM1252 1074h4.6v4.6h-4.6zM1286 1038h4.6v4.6h-4.6zM1257 1069h4.6v4.6h-4.6zM1299 1051h4.6v4.6h-4.6zM1320 1011h4.6v4.6h-4.6zM1244 1104h4.6v4.6h-4.6zM1280 1070h4.6v4.6h-4.6zM1254 1097h4.6v4.6h-4.6zM1285 1080h4.6v4.6h-4.6zM1236 1136h4.6v4.6h-4.6zM1240 1093h4.6v4.6h-4.6zM1263 1085h4.6v4.6h-4.6zM1301 1036h4.6v4.6h-4.6zM1304 1019h4.6v4.6h-4.6zM1233 1144h4.6v4.6h-4.6zM1245 1115h4.6v4.6h-4.6zM1292 1046h4.6v4.6h-4.6zM1189 1155h4.6v4.6h-4.6zM1254 1097h4.6v4.6h-4.6zM1256 1071h4.6v4.6h-4.6zM1315 1021h4.6v4.6h-4.6zM1306 1056h4.6v4.6h-4.6zM1264 1096h4.6v4.6h-4.6zM1248 1084h4.6v4.6h-4.6zM1255 1082h4.6v4.6h-4.6zM1344 1026h4.6v4.6h-4.6zM1241 1082h4.6v4.6h-4.6zM1252 1083h4.6v4.6h-4.6zM1271 1049h4.6v4.6h-4.6zM1268 1083h4.6v4.6h-4.6zM1264 1086h4.6v4.6h-4.6zM1236 1131h4.6v4.6h-4.6zM1246 1055h4.6v4.6h-4.6zM1253 1095h4.6v4.6h-4.6zM1300 1013h4.6v4.6h-4.6zM1300 1053h4.6v4.6h-4.6zM1267 1075h4.6v4.6h-4.6zM1309 1060h4.6v4.6h-4.6zM1259 1092h4.6v4.6h-4.6zM1301 1023h4.6v4.6h-4.6zM1280 1085h4.6v4.6h-4.6zM1282 1042h4.6v4.6h-4.6zM1217 1126h4.6v4.6h-4.6zM1291 1069h4.6v4.6h-4.6zM1209 1150h4.6v4.6h-4.6zM1195 1164h4.6v4.6h-4.6zM1258 1088h4.6v4.6h-4.6zM1239 1117h4.6v4.6h-4.6zM1282 1075h4.6v4.6h-4.6zM1358 983h4.6v4.6h-4.6zM1246 1118h4.6v4.6h-4.6zM1256 1111h4.6v4.6h-4.6zM1277 1067h4.6v4.6h-4.6zM1280 1047h4.6v4.6h-4.6zM1275 1095h4.6v4.6h-4.6zM1261 1084h4.6v4.6h-4.6zM1301 1051h4.6v4.6h-4.6zM1297 1061h4.6v4.6h-4.6zM1222 1111h4.6v4.6h-4.6zM1270 1082h4.6v4.6h-4.6zM1257 1061h4.6v4.6h-4.6zM1235 1125h4.6v4.6h-4.6zM1276 1061h4.6v4.6h-4.6zM1238 1113h4.6v4.6h-4.6zM1313 1040h4.6v4.6h-4.6zM1271 1062h4.6v4.6h-4.6zM1274 1072h4.6v4.6h-4.6zM1241 1095h4.6v4.6h-4.6zM1265 1080h4.6v4.6h-4.6zM1202 1167h4.6v4.6h-4.6zM1226 1123h4.6v4.6h-4.6zM1282 1059h4.6v4.6h-4.6zM1179 1156h4.6v4.6h-4.6zM1309 1047h4.6v4.6h-4.6zM1202 1148h4.6v4.6h-4.6zM1313 1057h4.6v4.6h-4.6zM1231 1105h4.6v4.6h-4.6zM1308 1051h4.6v4.6h-4.6zM1290 1084h4.6v4.6h-4.6zM1211 1140h4.6v4.6h-4.6zM1307 1014h4.6v4.6h-4.6zM1337 1027h4.6v4.6h-4.6zM1276 1086h4.6v4.6h-4.6zM1265 1092h4.6v4.6h-4.6zM1273 1091h4.6v4.6h-4.6zM1228 1113h4.6v4.6h-4.6zM1318 1035h4.6v4.6h-4.6zM1254 1103h4.6v4.6h-4.6zM1262 1072h4.6v4.6h-4.6zM1245 1114h4.6v4.6h-4.6zM1241 1098h4.6v4.6h-4.6zM1228 1136h4.6v4.6h-4.6zM1328 1032h4.6v4.6h-4.6zM1279 1096h4.6v4.6h-4.6zM1290 1020h4.6v4.6h-4.6zM1272 1077h4.6v4.6h-4.6zM1240 1102h4.6v4.6h-4.6zM1257 1089h4.6v4.6h-4.6zM1246 1097h4.6v4.6h-4.6zM1269 1074h4.6v4.6h-4.6zM1238 1075h4.6v4.6h-4.6zM1266 1096h4.6v4.6h-4.6zM1230 1145h4.6v4.6h-4.6zM1247 1117h4.6v4.6h-4.6zM1344 1016h4.6v4.6h-4.6zM1237 1097h4.6v4.6h-4.6zM1221 1113h4.6v4.6h-4.6zM1290 1069h4.6v4.6h-4.6zM1335 1027h4.6v4.6h-4.6zM1216 1139h4.6v4.6h-4.6zM1249 1073h4.6v4.6h-4.6zM1269 1124h4.6v4.6h-4.6zM1197 1144h4.6v4.6h-4.6zM1306 1053h4.6v4.6h-4.6zM1259 1068h4.6v4.6h-4.6zM1281 1081h4.6v4.6h-4.6zM1243 1109h4.6v4.6h-4.6zM1299 1068h4.6v4.6h-4.6zM1257 1105h4.6v4.6h-4.6zM1251 1070h4.6v4.6h-4.6zM1219 1115h4.6v4.6h-4.6zM1226 1129h4.6v4.6h-4.6zM1328 1026h4.6v4.6h-4.6zM1266 1111h4.6v4.6h-4.6zM1284 1066h4.6v4.6h-4.6zM1268 1077h4.6v4.6h-4.6zM1253 1094h4.6v4.6h-4.6zM1250 1097h4.6v4.6h-4.6zM1303 1058h4.6v4.6h-4.6zM1258 1088h4.6v4.6h-4.6zM1263 1082h4.6v4.6h-4.6zM1259 1064h4.6v4.6h-4.6zM1298 1011h4.6v4.6h-4.6zM1296 1048h4.6v4.6h-4.6zM1290 1065h4.6v4.6h-4.6zM1248 1099h4.6v4.6h-4.6zM1221 1138h4.6v4.6h-4.6zM1312 1041h4.6v4.6h-4.6zM1306 1035h4.6v4.6h-4.6zM1273 1089h4.6v4.6h-4.6zM1284 1047h4.6v4.6h-4.6zM1300 1043h4.6v4.6h-4.6zM1299 1038h4.6v4.6h-4.6zM1306 1038h4.6v4.6h-4.6zM1258 1100h4.6v4.6h-4.6zM1335 1019h4.6v4.6h-4.6zM1223 1129h4.6v4.6h-4.6zM1307 1043h4.6v4.6h-4.6zM1286 1052h4.6v4.6h-4.6zM1302 1038h4.6v4.6h-4.6zM1353 1007h4.6v4.6h-4.6zM1325 1012h4.6v4.6h-4.6zM1237 1134h4.6v4.6h-4.6zM1210 1151h4.6v4.6h-4.6zM1303 1043h4.6v4.6h-4.6zM1248 1134h4.6v4.6h-4.6zM1268 1075h4.6v4.6h-4.6zM1300 1039h4.6v4.6h-4.6zM1207 1145h4.6v4.6h-4.6zM1192 1167h4.6v4.6h-4.6zM1282 1067h4.6v4.6h-4.6zM1279 1081h4.6v4.6h-4.6zM1262 1087h4.6v4.6h-4.6zM1275 1078h4.6v4.6h-4.6zM1235 1110h4.6v4.6h-4.6zM1221 1148h4.6v4.6h-4.6zM1260 1080h4.6v4.6h-4.6zM1230 1114h4.6v4.6h-4.6zM1207 1145h4.6v4.6h-4.6zM1292 1057h4.6v4.6h-4.6zM1262 1073h4.6v4.6h-4.6zM1299 1071h4.6v4.6h-4.6zM1227 1113h4.6v4.6h-4.6zM1242 1101h4.6v4.6h-4.6z"/><path d="M1228 1115h4.6v4.6h-4.6zM1232 1109h4.6v4.6h-4.6zM1282 1072h4.6v4.6h-4.6zM1241 1110h4.6v4.6h-4.6zM1277 1055h4.6v4.6h-4.6zM1278 1057h4.6v4.6h-4.6zM1345 989h4.6v4.6h-4.6zM1229 1145h4.6v4.6h-4.6zM1298 1033h4.6v4.6h-4.6zM1255 1069h4.6v4.6h-4.6zM1260 1067h4.6v4.6h-4.6zM1211 1134h4.6v4.6h-4.6zM1265 1107h4.6v4.6h-4.6zM1289 1036h4.6v4.6h-4.6zM1267 1080h4.6v4.6h-4.6zM1294 1092h4.6v4.6h-4.6zM1254 1084h4.6v4.6h-4.6zM1326 1039h4.6v4.6h-4.6zM1279 1086h4.6v4.6h-4.6zM1190 1172h4.6v4.6h-4.6zM1231 1094h4.6v4.6h-4.6zM1197 1160h4.6v4.6h-4.6zM1162 1187h4.6v4.6h-4.6zM1233 1083h4.6v4.6h-4.6zM1306 1006h4.6v4.6h-4.6zM1272 1074h4.6v4.6h-4.6zM1226 1126h4.6v4.6h-4.6zM1244 1124h4.6v4.6h-4.6zM1318 1033h4.6v4.6h-4.6zM1271 1065h4.6v4.6h-4.6zM1267 1070h4.6v4.6h-4.6zM1266 1076h4.6v4.6h-4.6zM1262 1065h4.6v4.6h-4.6zM1307 1047h4.6v4.6h-4.6zM1291 1052h4.6v4.6h-4.6zM1271 1060h4.6v4.6h-4.6zM1224 1114h4.6v4.6h-4.6zM1279 1045h4.6v4.6h-4.6zM1239 1100h4.6v4.6h-4.6zM1314 1032h4.6v4.6h-4.6zM1217 1125h4.6v4.6h-4.6zM1272 1089h4.6v4.6h-4.6zM1283 1088h4.6v4.6h-4.6zM1213 1126h4.6v4.6h-4.6zM1335 1003h4.6v4.6h-4.6zM1322 1011h4.6v4.6h-4.6zM1266 1108h4.6v4.6h-4.6zM1302 1046h4.6v4.6h-4.6zM1289 1064h4.6v4.6h-4.6zM1176 1191h4.6v4.6h-4.6zM1298 1083h4.6v4.6h-4.6zM1269 1080h4.6v4.6h-4.6zM1264 1064h4.6v4.6h-4.6zM1224 1117h4.6v4.6h-4.6zM1264 1091h4.6v4.6h-4.6zM1262 1083h4.6v4.6h-4.6zM1308 1019h4.6v4.6h-4.6zM1306 1083h4.6v4.6h-4.6zM1270 1076h4.6v4.6h-4.6zM1323 1007h4.6v4.6h-4.6zM1242 1093h4.6v4.6h-4.6zM1239 1078h4.6v4.6h-4.6zM1189 1142h4.6v4.6h-4.6zM1326 1007h4.6v4.6h-4.6zM1303 1032h4.6v4.6h-4.6zM1297 1030h4.6v4.6h-4.6zM1299 1051h4.6v4.6h-4.6zM1273 1071h4.6v4.6h-4.6zM1269 1059h4.6v4.6h-4.6zM1242 1070h4.6v4.6h-4.6zM1263 1085h4.6v4.6h-4.6zM1271 1073h4.6v4.6h-4.6zM1325 1010h4.6v4.6h-4.6zM1279 1041h4.6v4.6h-4.6zM1267 1078h4.6v4.6h-4.6zM1234 1087h4.6v4.6h-4.6zM1253 1109h4.6v4.6h-4.6zM1332 1009h4.6v4.6h-4.6zM1290 1055h4.6v4.6h-4.6zM1265 1066h4.6v4.6h-4.6zM1247 1081h4.6v4.6h-4.6zM1240 1133h4.6v4.6h-4.6zM1274 1085h4.6v4.6h-4.6zM1299 1036h4.6v4.6h-4.6zM1260 1097h4.6v4.6h-4.6zM1273 1097h4.6v4.6h-4.6zM1251 1076h4.6v4.6h-4.6zM1269 1066h4.6v4.6h-4.6zM1204 1138h4.6v4.6h-4.6zM1264 1089h4.6v4.6h-4.6zM1227 1102h4.6v4.6h-4.6zM1305 1040h4.6v4.6h-4.6zM1230 1098h4.6v4.6h-4.6zM1299 1058h4.6v4.6h-4.6zM1335 1018h4.6v4.6h-4.6zM1255 1086h4.6v4.6h-4.6zM1252 1106h4.6v4.6h-4.6zM1270 1062h4.6v4.6h-4.6zM1267 1073h4.6v4.6h-4.6zM1239 1124h4.6v4.6h-4.6zM1286 1055h4.6v4.6h-4.6zM1349 993h4.6v4.6h-4.6zM1192 1142h4.6v4.6h-4.6zM1330 974h4.6v4.6h-4.6zM1290 1097h4.6v4.6h-4.6zM1323 999h4.6v4.6h-4.6zM1193 1166h4.6v4.6h-4.6zM1301 1061h4.6v4.6h-4.6zM1338 989h4.6v4.6h-4.6zM1358 1007h4.6v4.6h-4.6zM1283 1072h4.6v4.6h-4.6zM1268 1118h4.6v4.6h-4.6zM1333 1026h4.6v4.6h-4.6zM1185 1156h4.6v4.6h-4.6zM1223 1117h4.6v4.6h-4.6zM1313 986h4.6v4.6h-4.6zM1270 1081h4.6v4.6h-4.6zM1285 1101h4.6v4.6h-4.6zM1376 984h4.6v4.6h-4.6zM1251 1121h4.6v4.6h-4.6zM1200 1183h4.6v4.6h-4.6zM1247 1089h4.6v4.6h-4.6zM1214 1153h4.6v4.6h-4.6zM1219 1185h4.6v4.6h-4.6zM1277 1049h4.6v4.6h-4.6zM1364 978h4.6v4.6h-4.6zM1284 1051h4.6v4.6h-4.6zM1301 1040h4.6v4.6h-4.6zM1230 1101h4.6v4.6h-4.6zM1287 1056h4.6v4.6h-4.6zM1306 1003h4.6v4.6h-4.6zM1285 1048h4.6v4.6h-4.6zM1328 1004h4.6v4.6h-4.6zM1278 1056h4.6v4.6h-4.6zM1234 1154h4.6v4.6h-4.6zM1292 1057h4.6v4.6h-4.6zM1275 1077h4.6v4.6h-4.6zM1205 1139h4.6v4.6h-4.6zM1315 1064h4.6v4.6h-4.6zM1313 985h4.6v4.6h-4.6zM1201 1147h4.6v4.6h-4.6zM1299 1078h4.6v4.6h-4.6zM1343 1045h4.6v4.6h-4.6zM1258 1096h4.6v4.6h-4.6zM1230 1121h4.6v4.6h-4.6zM1258 1108h4.6v4.6h-4.6zM1281 1062h4.6v4.6h-4.6zM1319 1041h4.6v4.6h-4.6zM1278 1052h4.6v4.6h-4.6zM1206 1163h4.6v4.6h-4.6zM1336 1006h4.6v4.6h-4.6zM1343 971h4.6v4.6h-4.6zM1161 1122h4.6v4.6h-4.6zM1238 1137h4.6v4.6h-4.6zM1216 1146h4.6v4.6h-4.6zM1353 1010h4.6v4.6h-4.6zM1343 976h4.6v4.6h-4.6zM1200 1182h4.6v4.6h-4.6zM1247 1113h4.6v4.6h-4.6zM1214 1137h4.6v4.6h-4.6zM1281 1091h4.6v4.6h-4.6zM1369 996h4.6v4.6h-4.6zM1196 1168h4.6v4.6h-4.6zM1238 1167h4.6v4.6h-4.6zM1291 1093h4.6v4.6h-4.6zM1284 1072h4.6v4.6h-4.6zM1320 1019h4.6v4.6h-4.6zM1264 1087h4.6v4.6h-4.6zM1227 1170h4.6v4.6h-4.6zM1251 1108h4.6v4.6h-4.6zM1357 961h4.6v4.6h-4.6zM1315 1012h4.6v4.6h-4.6zM1199 1153h4.6v4.6h-4.6zM1346 1019h4.6v4.6h-4.6zM1228 1103h4.6v4.6h-4.6zM1337 1020h4.6v4.6h-4.6zM1194 1189h4.6v4.6h-4.6zM1357 1005h4.6v4.6h-4.6zM1188 1124h4.6v4.6h-4.6zM1262 1078h4.6v4.6h-4.6zM1290 1023h4.6v4.6h-4.6zM1282 1076h4.6v4.6h-4.6zM1195 1130h4.6v4.6h-4.6zM1211 1155h4.6v4.6h-4.6zM1234 1119h4.6v4.6h-4.6zM1152 1134h4.6v4.6h-4.6zM1208 1121h4.6v4.6h-4.6zM1208 1156h4.6v4.6h-4.6zM1268 1080h4.6v4.6h-4.6zM1241 1098h4.6v4.6h-4.6zM1274 1038h4.6v4.6h-4.6zM1237 1124h4.6v4.6h-4.6zM1206 1192h4.6v4.6h-4.6zM1244 1111h4.6v4.6h-4.6zM1323 1018h4.6v4.6h-4.6zM1224 1121h4.6v4.6h-4.6zM1237 1075h4.6v4.6h-4.6zM1319 1014h4.6v4.6h-4.6zM1244 1081h4.6v4.6h-4.6zM1364 1005h4.6v4.6h-4.6zM1344 973h4.6v4.6h-4.6zM1208 1085h4.6v4.6h-4.6zM1309 1013h4.6v4.6h-4.6zM1222 1120h4.6v4.6h-4.6zM1201 1145h4.6v4.6h-4.6zM1237 1062h4.6v4.6h-4.6zM1306 1062h4.6v4.6h-4.6zM1360 982h4.6v4.6h-4.6zM1198 1140h4.6v4.6h-4.6zM1305 1018h4.6v4.6h-4.6zM1275 1083h4.6v4.6h-4.6zM1197 1145h4.6v4.6h-4.6zM1370 977h4.6v4.6h-4.6zM1310 1029h4.6v4.6h-4.6zM1203 1151h4.6v4.6h-4.6zM1369 1002h4.6v4.6h-4.6zM1196 1155h4.6v4.6h-4.6zM1182 1146h4.6v4.6h-4.6zM1254 1119h4.6v4.6h-4.6zM1363 983h4.6v4.6h-4.6zM1173 1161h4.6v4.6h-4.6zM1236 1002h4.6v4.6h-4.6zM1236 972h4.6v4.6h-4.6zM1341 945h4.6v4.6h-4.6zM1262 985h4.6v4.6h-4.6zM1273 1005h4.6v4.6h-4.6zM1317 1049h4.6v4.6h-4.6zM1302 1009h4.6v4.6h-4.6zM1313 1002h4.6v4.6h-4.6z"/></g>
<g id="AT"><path d="M1391 963l2.2 4.5h-4.5zM1402 953l2.2 4.5h-4.5zM1402 956l2.2 4.5h-4.5zM1379 973l2.2 4.5h-4.5zM1402 953l2.2 4.5h-4.5zM1395 956l2.2 4.5h-4.5zM1395 964l2.2 4.5h-4.5zM1393 957l2.2 4.5h-4.5zM1384 967l2.2 4.5h-4.5zM1395 966l2.2 4.5h-4.5zM1406 949l2.2 4.5h-4.5zM1388 970l2.2 4.5h-4.5zM1401 949l2.2 4.5h-4.5zM1393 961l2.2 4.5h-4.5zM1404 955l2.2 4.5h-4.5zM1400 956l2.2 4.5h-4.5zM1394 964l2.2 4.5h-4.5zM1397 958l2.2 4.5h-4.5zM1394 964l2.2 4.5h-4.5zM1404 950l2.2 4.5h-4.5zM1400 949l2.2 4.5h-4.5zM1395 949l2.2 4.5h-4.5zM1389 963l2.2 4.5h-4.5zM1390 957l2.2 4.5h-4.5zM1414 950l2.2 4.5h-4.5zM1388 965l2.2 4.5h-4.5zM1401 951l2.2 4.5h-4.5zM1395 958l2.2 4.5h-4.5zM1402 954l2.2 4.5h-4.5zM1410 956l2.2 4.5h-4.5zM1404 956l2.2 4.5h-4.5zM1404 952l2.2 4.5h-4.5zM1390 965l2.2 4.5h-4.5zM1393 968l2.2 4.5h-4.5zM1386 971l2.2 4.5h-4.5zM1398 953l2.2 4.5h-4.5zM1393 957l2.2 4.5h-4.5zM1397 959l2.2 4.5h-4.5zM1398 952l2.2 4.5h-4.5zM1395 962l2.2 4.5h-4.5zM1395 960l2.2 4.5h-4.5zM1388 963l2.2 4.5h-4.5zM1393 961l2.2 4.5h-4.5zM1390 964l2.2 4.5h-4.5zM1401 957l2.2 4.5h-4.5zM1411 942l2.2 4.5h-4.5zM1407 943l2.2 4.5h-4.5zM1393 965l2.2 4.5h-4.5zM1400 955l2.2 4.5h-4.5zM1398 959l2.2 4.5h-4.5zM1384 973l2.2 4.5h-4.5zM1380 975l2.2 4.5h-4.5zM1393 966l2.2 4.5h-4.5zM1395 960l2.2 4.5h-4.5zM1391 974l2.2 4.5h-4.5zM1394 972l2.2 4.5h-4.5zM1386 963l2.2 4.5h-4.5zM1388 965l2.2 4.5h-4.5zM1386 969l2.2 4.5h-4.5zM1395 961l2.2 4.5h-4.5zM1397 950l2.2 4.5h-4.5zM1398 957l2.2 4.5h-4.5zM1388 965l2.2 4.5h-4.5zM1393 959l2.2 4.5h-4.5zM1392 955l2.2 4.5h-4.5zM1383 975l2.2 4.5h-4.5zM1404 953l2.2 4.5h-4.5zM1392 966l2.2 4.5h-4.5zM1387 969l2.2 4.5h-4.5zM1412 937l2.2 4.5h-4.5zM1391 969l2.2 4.5h-4.5zM1391 960l2.2 4.5h-4.5zM1393 967l2.2 4.5h-4.5zM1401 950l2.2 4.5h-4.5zM1397 964l2.2 4.5h-4.5zM1387 972l2.2 4.5h-4.5zM1379 974l2.2 4.5h-4.5zM1391 963l2.2 4.5h-4.5zM1407 942l2.2 4.5h-4.5zM1386 966l2.2 4.5h-4.5zM1407 952l2.2 4.5h-4.5zM1390 966l2.2 4.5h-4.5zM1382 968l2.2 4.5h-4.5zM1382 980l2.2 4.5h-4.5zM1395 961l2.2 4.5h-4.5zM1397 957l2.2 4.5h-4.5zM1392 958l2.2 4.5h-4.5zM1381 975l2.2 4.5h-4.5zM1391 964l2.2 4.5h-4.5zM1401 959l2.2 4.5h-4.5zM1390 962l2.2 4.5h-4.5zM1401 958l2.2 4.5h-4.5zM1406 938l2.2 4.5h-4.5zM1386 969l2.2 4.5h-4.5zM1413 938l2.2 4.5h-4.5zM1399 958l2.2 4.5h-4.5zM1393 964l2.2 4.5h-4.5zM1391 961l2.2 4.5h-4.5zM1395 963l2.2 4.5h-4.5zM1388 968l2.2 4.5h-4.5zM1391 966l2.2 4.5h-4.5zM1403 950l2.2 4.5h-4.5zM1400 954l2.2 4.5h-4.5zM1398 959l2.2 4.5h-4.5zM1393 959l2.2 4.5h-4.5zM1386 964l2.2 4.5h-4.5zM1399 960l2.2 4.5h-4.5zM1395 964l2.2 4.5h-4.5zM1400 959l2.2 4.5h-4.5zM1407 952l2.2 4.5h-4.5zM1382 978l2.2 4.5h-4.5zM1382 974l2.2 4.5h-4.5zM1403 949l2.2 4.5h-4.5zM1389 971l2.2 4.5h-4.5zM1409 944l2.2 4.5h-4.5zM1394 956l2.2 4.5h-4.5zM1411 937l2.2 4.5h-4.5zM1397 957l2.2 4.5h-4.5zM1403 955l2.2 4.5h-4.5zM1389 967l2.2 4.5h-4.5zM1390 966l2.2 4.5h-4.5zM1392 953l2.2 4.5h-4.5zM1391 966l2.2 4.5h-4.5zM1395 959l2.2 4.5h-4.5zM1406 952l2.2 4.5h-4.5zM1395 969l2.2 4.5h-4.5zM1389 965l2.2 4.5h-4.5zM1400 961l2.2 4.5h-4.5zM1394 962l2.2 4.5h-4.5zM1402 956l2.2 4.5h-4.5zM1400 965l2.2 4.5h-4.5zM1385 964l2.2 4.5h-4.5zM1382 977l2.2 4.5h-4.5zM1399 958l2.2 4.5h-4.5zM1391 965l2.2 4.5h-4.5zM1397 959l2.2 4.5h-4.5zM1384 974l2.2 4.5h-4.5zM1392 967l2.2 4.5h-4.5zM1397 956l2.2 4.5h-4.5zM1405 953l2.2 4.5h-4.5zM1401 949l2.2 4.5h-4.5zM1402 947l2.2 4.5h-4.5zM1396 960l2.2 4.5h-4.5zM1406 956l2.2 4.5h-4.5zM1400 958l2.2 4.5h-4.5zM1399 966l2.2 4.5h-4.5zM1390 966l2.2 4.5h-4.5zM1401 950l2.2 4.5h-4.5zM1397 960l2.2 4.5h-4.5zM1390 964l2.2 4.5h-4.5zM1394 959l2.2 4.5h-4.5zM1410 945l2.2 4.5h-4.5zM1388 972l2.2 4.5h-4.5zM1389 973l2.2 4.5h-4.5zM1406 948l2.2 4.5h-4.5zM1384 969l2.2 4.5h-4.5zM1407 950l2.2 4.5h-4.5zM1393 965l2.2 4.5h-4.5zM1397 955l2.2 4.5h-4.5zM1402 947l2.2 4.5h-4.5zM1402 946l2.2 4.5h-4.5zM1405 957l2.2 4.5h-4.5zM1395 959l2.2 4.5h-4.5zM1392 960l2.2 4.5h-4.5zM1397 964l2.2 4.5h-4.5zM1406 946l2.2 4.5h-4.5zM1396 955l2.2 4.5h-4.5zM1404 950l2.2 4.5h-4.5zM1381 979l2.2 4.5h-4.5zM1396 965l2.2 4.5h-4.5zM1395 954l2.2 4.5h-4.5zM1396 965l2.2 4.5h-4.5zM1413 944l2.2 4.5h-4.5zM1387 968l2.2 4.5h-4.5zM1402 957l2.2 4.5h-4.5zM1404 954l2.2 4.5h-4.5zM1390 966l2.2 4.5h-4.5zM1404 954l2.2 4.5h-4.5zM1399 956l2.2 4.5h-4.5zM1419 939l2.2 4.5h-4.5zM1407 948l2.2 4.5h-4.5zM1394 958l2.2 4.5h-4.5zM1400 949l2.2 4.5h-4.5zM1401 958l2.2 4.5h-4.5zM1392 962l2.2 4.5h-4.5zM1398 951l2.2 4.5h-4.5zM1397 953l2.2 4.5h-4.5zM1407 947l2.2 4.5h-4.5zM1389 973l2.2 4.5h-4.5zM1383 966l2.2 4.5h-4.5zM1388 962l2.2 4.5h-4.5zM1397 950l2.2 4.5h-4.5zM1404 951l2.2 4.5h-4.5zM1395 960l2.2 4.5h-4.5zM1399 959l2.2 4.5h-4.5zM1393 955l2.2 4.5h-4.5zM1384 971l2.2 4.5h-4.5zM1390 965l2.2 4.5h-4.5zM1403 952l2.2 4.5h-4.5zM1406 957l2.2 4.5h-4.5zM1406 952l2.2 4.5h-4.5zM1401 954l2.2 4.5h-4.5zM1380 981l2.2 4.5h-4.5zM1395 953l2.2 4.5h-4.5zM1398 956l2.2 4.5h-4.5zM1383 966l2.2 4.5h-4.5zM1410 945l2.2 4.5h-4.5zM1399 964l2.2 4.5h-4.5zM1396 946l2.2 4.5h-4.5zM1399 950l2.2 4.5h-4.5zM1403 957l2.2 4.5h-4.5zM1410 951l2.2 4.5h-4.5zM1395 960l2.2 4.5h-4.5zM1402 951l2.2 4.5h-4.5zM1402 958l2.2 4.5h-4.5zM1387 969l2.2 4.5h-4.5zM1395 967l2.2 4.5h-4.5zM1389 970l2.2 4.5h-4.5zM1387 976l2.2 4.5h-4.5zM1385 971l2.2 4.5h-4.5zM1395 951l2.2 4.5h-4.5zM1388 972l2.2 4.5h-4.5zM1404 952l2.2 4.5h-4.5zM1390 957l2.2 4.5h-4.5zM1397 964l2.2 4.5h-4.5zM1387 968l2.2 4.5h-4.5zM1402 960l2.2 4.5h-4.5zM1388 965l2.2 4.5h-4.5zM1403 956l2.2 4.5h-4.5zM1400 953l2.2 4.5h-4.5zM1385 973l2.2 4.5h-4.5zM1401 957l2.2 4.5h-4.5zM1382 976l2.2 4.5h-4.5zM1398 949l2.2 4.5h-4.5zM1375 970l2.2 4.5h-4.5zM1386 965l2.2 4.5h-4.5zM1403 947l2.2 4.5h-4.5zM1401 960l2.2 4.5h-4.5zM1403 956l2.2 4.5h-4.5zM1372 972l2.2 4.5h-4.5zM1397 949l2.2 4.5h-4.5zM1387 962l2.2 4.5h-4.5zM1404 943l2.2 4.5h-4.5zM1400 962l2.2 4.5h-4.5zM1401 965l2.2 4.5h-4.5zM1384 972l2.2 4.5h-4.5zM1390 967l2.2 4.5h-4.5zM1391 955l2.2 4.5h-4.5zM1406 949l2.2 4.5h-4.5zM1408 951l2.2 4.5h-4.5zM1392 959l2.2 4.5h-4.5zM1389 969l2.2 4.5h-4.5zM1387 969l2.2 4.5h-4.5zM1411 948l2.2 4.5h-4.5zM1401 959l2.2 4.5h-4.5zM1392 971l2.2 4.5h-4.5zM1401 942l2.2 4.5h-4.5zM1402 957l2.2 4.5h-4.5zM1403 954l2.2 4.5h-4.5zM1402 952l2.2 4.5h-4.5zM1397 955l2.2 4.5h-4.5zM1394 964l2.2 4.5h-4.5zM1386 973l2.2 4.5h-4.5zM1387 970l2.2 4.5h-4.5zM1390 966l2.2 4.5h-4.5zM1404 959l2.2 4.5h-4.5zM1393 967l2.2 4.5h-4.5zM1398 949l2.2 4.5h-4.5zM1404 953l2.2 4.5h-4.5zM1411 951l2.2 4.5h-4.5z"/><path d="M1409 949l2.2 4.5h-4.5zM1370 974l2.2 4.5h-4.5zM1411 949l2.2 4.5h-4.5zM1399 958l2.2 4.5h-4.5zM1401 961l2.2 4.5h-4.5zM1391 963l2.2 4.5h-4.5zM1395 954l2.2 4.5h-4.5zM1392 953l2.2 4.5h-4.5zM1391 964l2.2 4.5h-4.5zM1386 977l2.2 4.5h-4.5zM1409 951l2.2 4.5h-4.5zM1401 955l2.2 4.5h-4.5zM1390 968l2.2 4.5h-4.5zM1394 964l2.2 4.5h-4.5zM1401 951l2.2 4.5h-4.5zM1395 965l2.2 4.5h-4.5zM1399 957l2.2 4.5h-4.5zM1398 945l2.2 4.5h-4.5zM1403 952l2.2 4.5h-4.5zM1398 962l2.2 4.5h-4.5zM1393 968l2.2 4.5h-4.5zM1395 963l2.2 4.5h-4.5zM1403 954l2.2 4.5h-4.5zM1398 963l2.2 4.5h-4.5zM1407 945l2.2 4.5h-4.5zM1408 943l2.2 4.5h-4.5zM1408 948l2.2 4.5h-4.5zM1395 947l2.2 4.5h-4.5zM1385 966l2.2 4.5h-4.5zM1408 945l2.2 4.5h-4.5zM1399 950l2.2 4.5h-4.5zM1391 963l2.2 4.5h-4.5zM1392 967l2.2 4.5h-4.5zM1393 964l2.2 4.5h-4.5zM1397 957l2.2 4.5h-4.5zM1381 965l2.2 4.5h-4.5zM1404 948l2.2 4.5h-4.5zM1394 962l2.2 4.5h-4.5zM1400 953l2.2 4.5h-4.5zM1383 970l2.2 4.5h-4.5zM1423 940l2.2 4.5h-4.5zM1403 950l2.2 4.5h-4.5zM1393 956l2.2 4.5h-4.5zM1388 968l2.2 4.5h-4.5zM1408 948l2.2 4.5h-4.5zM1393 962l2.2 4.5h-4.5zM1390 959l2.2 4.5h-4.5zM1388 964l2.2 4.5h-4.5zM1386 967l2.2 4.5h-4.5zM1403 966l2.2 4.5h-4.5zM1400 961l2.2 4.5h-4.5zM1390 959l2.2 4.5h-4.5zM1391 970l2.2 4.5h-4.5zM1407 947l2.2 4.5h-4.5zM1407 946l2.2 4.5h-4.5zM1390 966l2.2 4.5h-4.5zM1404 947l2.2 4.5h-4.5zM1397 959l2.2 4.5h-4.5zM1398 961l2.2 4.5h-4.5zM1411 943l2.2 4.5h-4.5zM1390 969l2.2 4.5h-4.5zM1401 951l2.2 4.5h-4.5zM1398 962l2.2 4.5h-4.5zM1401 963l2.2 4.5h-4.5zM1385 967l2.2 4.5h-4.5zM1392 962l2.2 4.5h-4.5zM1404 948l2.2 4.5h-4.5zM1392 954l2.2 4.5h-4.5zM1403 954l2.2 4.5h-4.5zM1401 952l2.2 4.5h-4.5zM1390 965l2.2 4.5h-4.5zM1401 965l2.2 4.5h-4.5zM1396 961l2.2 4.5h-4.5zM1398 966l2.2 4.5h-4.5zM1394 962l2.2 4.5h-4.5zM1401 961l2.2 4.5h-4.5zM1405 957l2.2 4.5h-4.5zM1392 957l2.2 4.5h-4.5zM1393 966l2.2 4.5h-4.5zM1406 951l2.2 4.5h-4.5zM1394 961l2.2 4.5h-4.5zM1410 956l2.2 4.5h-4.5zM1393 968l2.2 4.5h-4.5zM1391 970l2.2 4.5h-4.5zM1390 965l2.2 4.5h-4.5zM1390 966l2.2 4.5h-4.5zM1402 957l2.2 4.5h-4.5zM1394 954l2.2 4.5h-4.5zM1401 958l2.2 4.5h-4.5zM1399 962l2.2 4.5h-4.5zM1397 955l2.2 4.5h-4.5zM1391 966l2.2 4.5h-4.5zM1406 951l2.2 4.5h-4.5zM1401 960l2.2 4.5h-4.5zM1392 967l2.2 4.5h-4.5zM1414 943l2.2 4.5h-4.5zM1394 964l2.2 4.5h-4.5zM1394 959l2.2 4.5h-4.5zM1393 953l2.2 4.5h-4.5zM1395 954l2.2 4.5h-4.5zM1397 955l2.2 4.5h-4.5zM1387 970l2.2 4.5h-4.5zM1397 960l2.2 4.5h-4.5zM1379 973l2.2 4.5h-4.5zM1395 963l2.2 4.5h-4.5zM1396 961l2.2 4.5h-4.5zM1403 959l2.2 4.5h-4.5zM1389 965l2.2 4.5h-4.5zM1399 959l2.2 4.5h-4.5zM1395 965l2.2 4.5h-4.5zM1393 956l2.2 4.5h-4.5zM1385 963l2.2 4.5h-4.5zM1404 953l2.2 4.5h-4.5zM1406 956l2.2 4.5h-4.5zM1388 975l2.2 4.5h-4.5zM1395 963l2.2 4.5h-4.5zM1393 963l2.2 4.5h-4.5zM1380 974l2.2 4.5h-4.5zM1388 971l2.2 4.5h-4.5zM1397 965l2.2 4.5h-4.5zM1389 972l2.2 4.5h-4.5zM1395 958l2.2 4.5h-4.5zM1403 957l2.2 4.5h-4.5zM1393 967l2.2 4.5h-4.5zM1405 960l2.2 4.5h-4.5zM1407 950l2.2 4.5h-4.5zM1390 964l2.2 4.5h-4.5zM1403 950l2.2 4.5h-4.5zM1404 950l2.2 4.5h-4.5zM1403 946l2.2 4.5h-4.5zM1391 968l2.2 4.5h-4.5zM1342 1000l2.2 4.5h-4.5zM1359 987l2.2 4.5h-4.5zM1387 963l2.2 4.5h-4.5zM1398 972l2.2 4.5h-4.5zM1387 960l2.2 4.5h-4.5zM1386 969l2.2 4.5h-4.5zM1351 997l2.2 4.5h-4.5zM1342 1010l2.2 4.5h-4.5zM1367 992l2.2 4.5h-4.5zM1336 996l2.2 4.5h-4.5zM1398 969l2.2 4.5h-4.5zM1334 1000l2.2 4.5h-4.5zM1349 980l2.2 4.5h-4.5zM1341 985l2.2 4.5h-4.5zM1327 989l2.2 4.5h-4.5zM1366 983l2.2 4.5h-4.5zM1343 1006l2.2 4.5h-4.5zM1385 957l2.2 4.5h-4.5zM1375 971l2.2 4.5h-4.5zM1351 978l2.2 4.5h-4.5zM1386 967l2.2 4.5h-4.5zM1377 960l2.2 4.5h-4.5zM1350 982l2.2 4.5h-4.5zM1383 962l2.2 4.5h-4.5zM1389 960l2.2 4.5h-4.5zM1370 973l2.2 4.5h-4.5zM1354 985l2.2 4.5h-4.5zM1388 963l2.2 4.5h-4.5zM1387 956l2.2 4.5h-4.5zM1357 991l2.2 4.5h-4.5zM1331 985l2.2 4.5h-4.5zM1388 967l2.2 4.5h-4.5zM1370 967l2.2 4.5h-4.5zM1348 992l2.2 4.5h-4.5zM1370 980l2.2 4.5h-4.5zM1343 974l2.2 4.5h-4.5zM1392 966l2.2 4.5h-4.5zM1361 997l2.2 4.5h-4.5zM1349 999l2.2 4.5h-4.5zM1338 1002l2.2 4.5h-4.5zM1344 972l2.2 4.5h-4.5zM1394 960l2.2 4.5h-4.5zM1343 986l2.2 4.5h-4.5zM1367 990l2.2 4.5h-4.5zM1392 959l2.2 4.5h-4.5zM1331 996l2.2 4.5h-4.5zM1343 976l2.2 4.5h-4.5zM1388 973l2.2 4.5h-4.5zM1337 993l2.2 4.5h-4.5zM1390 961l2.2 4.5h-4.5zM1390 975l2.2 4.5h-4.5zM1342 996l2.2 4.5h-4.5zM1372 979l2.2 4.5h-4.5zM1379 996l2.2 4.5h-4.5zM1374 969l2.2 4.5h-4.5zM1350 985l2.2 4.5h-4.5zM1359 989l2.2 4.5h-4.5zM1355 1001l2.2 4.5h-4.5zM1345 979l2.2 4.5h-4.5zM1343 992l2.2 4.5h-4.5zM1385 957l2.2 4.5h-4.5zM1382 955l2.2 4.5h-4.5zM1358 990l2.2 4.5h-4.5zM1373 967l2.2 4.5h-4.5zM1365 983l2.2 4.5h-4.5zM1351 990l2.2 4.5h-4.5zM1356 988l2.2 4.5h-4.5zM1393 962l2.2 4.5h-4.5zM1349 979l2.2 4.5h-4.5zM1369 977l2.2 4.5h-4.5zM1393 964l2.2 4.5h-4.5zM1353 991l2.2 4.5h-4.5zM1382 966l2.2 4.5h-4.5zM1345 1003l2.2 4.5h-4.5zM1381 975l2.2 4.5h-4.5zM1384 969l2.2 4.5h-4.5zM1388 971l2.2 4.5h-4.5zM1395 963l2.2 4.5h-4.5zM1381 977l2.2 4.5h-4.5zM1385 947l2.2 4.5h-4.5zM1344 980l2.2 4.5h-4.5zM1364 977l2.2 4.5h-4.5zM1347 993l2.2 4.5h-4.5zM1328 982l2.2 4.5h-4.5zM1359 981l2.2 4.5h-4.5zM1379 973l2.2 4.5h-4.5zM1380 967l2.2 4.5h-4.5zM1333 998l2.2 4.5h-4.5zM1385 953l2.2 4.5h-4.5zM1349 991l2.2 4.5h-4.5zM1342 974l2.2 4.5h-4.5zM1389 974l2.2 4.5h-4.5zM1386 960l2.2 4.5h-4.5zM1384 979l2.2 4.5h-4.5zM1345 974l2.2 4.5h-4.5zM1364 985l2.2 4.5h-4.5zM1386 968l2.2 4.5h-4.5zM1351 980l2.2 4.5h-4.5zM1378 959l2.2 4.5h-4.5zM1387 978l2.2 4.5h-4.5zM1364 985l2.2 4.5h-4.5zM1396 975l2.2 4.5h-4.5zM1357 985l2.2 4.5h-4.5zM1381 972l2.2 4.5h-4.5zM1375 978l2.2 4.5h-4.5zM1357 993l2.2 4.5h-4.5zM1368 982l2.2 4.5h-4.5zM1375 982l2.2 4.5h-4.5zM1364 976l2.2 4.5h-4.5zM1333 986l2.2 4.5h-4.5zM1404 975l2.2 4.5h-4.5zM1394 963l2.2 4.5h-4.5zM1338 1003l2.2 4.5h-4.5zM1390 959l2.2 4.5h-4.5zM1371 987l2.2 4.5h-4.5zM1342 997l2.2 4.5h-4.5zM1389 976l2.2 4.5h-4.5zM1357 979l2.2 4.5h-4.5zM1377 972l2.2 4.5h-4.5zM1354 975l2.2 4.5h-4.5zM1362 991l2.2 4.5h-4.5zM1365 969l2.2 4.5h-4.5zM1352 969l2.2 4.5h-4.5zM1380 976l2.2 4.5h-4.5zM1341 970l2.2 4.5h-4.5zM1381 971l2.2 4.5h-4.5zM1345 991l2.2 4.5h-4.5zM1359 993l2.2 4.5h-4.5zM1365 986l2.2 4.5h-4.5zM1338 978l2.2 4.5h-4.5zM1349 982l2.2 4.5h-4.5zM1363 965l2.2 4.5h-4.5zM1354 979l2.2 4.5h-4.5zM1339 969l2.2 4.5h-4.5zM1372 980l2.2 4.5h-4.5zM1355 970l2.2 4.5h-4.5zM1356 958l2.2 4.5h-4.5zM1379 970l2.2 4.5h-4.5zM1363 987l2.2 4.5h-4.5z"/></g>
<g id="NF"><path d="M1256 981h4.6v4.6h-4.6zM1310 993h4.6v4.6h-4.6zM1202 982h4.6v4.6h-4.6zM1249 1001h4.6v4.6h-4.6zM1230 983h4.6v4.6h-4.6zM1257 986h4.6v4.6h-4.6zM1233 965h4.6v4.6h-4.6zM1237 987h4.6v4.6h-4.6zM1218 987h4.6v4.6h-4.6zM1259 1009h4.6v4.6h-4.6zM1251 970h4.6v4.6h-4.6zM1243 976h4.6v4.6h-4.6zM1230 956h4.6v4.6h-4.6zM1275 983h4.6v4.6h-4.6zM1208 989h4.6v4.6h-4.6zM1277 960h4.6v4.6h-4.6zM1261 964h4.6v4.6h-4.6zM1236 982h4.6v4.6h-4.6zM1252 975h4.6v4.6h-4.6zM1220 960h4.6v4.6h-4.6zM1276 1005h4.6v4.6h-4.6zM1222 970h4.6v4.6h-4.6zM1228 1015h4.6v4.6h-4.6zM1268 983h4.6v4.6h-4.6zM1247 947h4.6v4.6h-4.6zM1251 994h4.6v4.6h-4.6zM1249 998h4.6v4.6h-4.6zM1235 972h4.6v4.6h-4.6zM1237 986h4.6v4.6h-4.6zM1290 976h4.6v4.6h-4.6zM1270 977h4.6v4.6h-4.6zM1266 962h4.6v4.6h-4.6zM1256 953h4.6v4.6h-4.6zM1229 981h4.6v4.6h-4.6zM1219 980h4.6v4.6h-4.6zM1266 962h4.6v4.6h-4.6zM1236 978h4.6v4.6h-4.6zM1240 991h4.6v4.6h-4.6zM1224 975h4.6v4.6h-4.6zM1213 972h4.6v4.6h-4.6zM1249 992h4.6v4.6h-4.6zM1224 998h4.6v4.6h-4.6zM1287 1011h4.6v4.6h-4.6zM1286 980h4.6v4.6h-4.6zM1239 998h4.6v4.6h-4.6zM1279 960h4.6v4.6h-4.6zM1229 982h4.6v4.6h-4.6zM1274 981h4.6v4.6h-4.6zM1292 1000h4.6v4.6h-4.6zM1258 1003h4.6v4.6h-4.6zM1294 1003h4.6v4.6h-4.6zM1201 973h4.6v4.6h-4.6zM1253 952h4.6v4.6h-4.6zM1243 980h4.6v4.6h-4.6zM1268 960h4.6v4.6h-4.6zM1252 966h4.6v4.6h-4.6zM1261 989h4.6v4.6h-4.6zM1252 982h4.6v4.6h-4.6zM1234 959h4.6v4.6h-4.6zM1224 957h4.6v4.6h-4.6zM1271 988h4.6v4.6h-4.6zM1233 982h4.6v4.6h-4.6zM1263 973h4.6v4.6h-4.6zM1260 968h4.6v4.6h-4.6zM1239 975h4.6v4.6h-4.6zM1218 963h4.6v4.6h-4.6zM1252 989h4.6v4.6h-4.6zM1278 977h4.6v4.6h-4.6zM1189 968h4.6v4.6h-4.6zM1222 959h4.6v4.6h-4.6zM1303 1001h4.6v4.6h-4.6zM1251 986h4.6v4.6h-4.6zM1260 973h4.6v4.6h-4.6zM1275 1003h4.6v4.6h-4.6zM1282 1003h4.6v4.6h-4.6zM1260 965h4.6v4.6h-4.6zM1263 999h4.6v4.6h-4.6zM1233 985h4.6v4.6h-4.6zM1253 964h4.6v4.6h-4.6zM1223 969h4.6v4.6h-4.6zM1265 976h4.6v4.6h-4.6zM1265 961h4.6v4.6h-4.6zM1264 971h4.6v4.6h-4.6zM1268 957h4.6v4.6h-4.6zM1213 953h4.6v4.6h-4.6zM1244 985h4.6v4.6h-4.6zM1223 1006h4.6v4.6h-4.6zM1240 990h4.6v4.6h-4.6zM1256 1006h4.6v4.6h-4.6zM1282 984h4.6v4.6h-4.6zM1243 991h4.6v4.6h-4.6zM1229 995h4.6v4.6h-4.6zM1238 979h4.6v4.6h-4.6zM1242 1002h4.6v4.6h-4.6zM1242 994h4.6v4.6h-4.6zM1260 954h4.6v4.6h-4.6zM1263 989h4.6v4.6h-4.6zM1210 996h4.6v4.6h-4.6zM1216 963h4.6v4.6h-4.6zM1234 977h4.6v4.6h-4.6zM1237 977h4.6v4.6h-4.6zM1279 999h4.6v4.6h-4.6zM1240 992h4.6v4.6h-4.6zM1266 1001h4.6v4.6h-4.6zM1221 998h4.6v4.6h-4.6zM1221 968h4.6v4.6h-4.6zM1303 1009h4.6v4.6h-4.6zM1272 982h4.6v4.6h-4.6zM1225 981h4.6v4.6h-4.6zM1243 991h4.6v4.6h-4.6zM1286 1020h4.6v4.6h-4.6zM1260 978h4.6v4.6h-4.6zM1238 977h4.6v4.6h-4.6zM1270 983h4.6v4.6h-4.6zM1262 973h4.6v4.6h-4.6zM1211 950h4.6v4.6h-4.6zM1303 977h4.6v4.6h-4.6zM1268 1008h4.6v4.6h-4.6zM1245 994h4.6v4.6h-4.6zM1241 964h4.6v4.6h-4.6zM1232 980h4.6v4.6h-4.6zM1208 975h4.6v4.6h-4.6zM1250 993h4.6v4.6h-4.6zM1241 950h4.6v4.6h-4.6zM1220 992h4.6v4.6h-4.6zM1236 960h4.6v4.6h-4.6zM1297 986h4.6v4.6h-4.6zM1233 985h4.6v4.6h-4.6zM1271 1001h4.6v4.6h-4.6zM1287 967h4.6v4.6h-4.6zM1254 972h4.6v4.6h-4.6zM1272 961h4.6v4.6h-4.6zM1231 959h4.6v4.6h-4.6zM1240 992h4.6v4.6h-4.6zM1252 985h4.6v4.6h-4.6zM1223 1001h4.6v4.6h-4.6zM1234 955h4.6v4.6h-4.6zM1295 981h4.6v4.6h-4.6zM1275 995h4.6v4.6h-4.6zM1249 977h4.6v4.6h-4.6zM1223 992h4.6v4.6h-4.6zM1251 987h4.6v4.6h-4.6zM1228 971h4.6v4.6h-4.6zM1248 965h4.6v4.6h-4.6zM1249 986h4.6v4.6h-4.6zM1253 985h4.6v4.6h-4.6zM1234 985h4.6v4.6h-4.6zM1269 975h4.6v4.6h-4.6zM1273 1014h4.6v4.6h-4.6zM1240 986h4.6v4.6h-4.6zM1253 989h4.6v4.6h-4.6zM1242 967h4.6v4.6h-4.6zM1250 1000h4.6v4.6h-4.6zM1283 973h4.6v4.6h-4.6zM1240 966h4.6v4.6h-4.6zM1238 961h4.6v4.6h-4.6zM1243 993h4.6v4.6h-4.6zM1240 992h4.6v4.6h-4.6zM1255 980h4.6v4.6h-4.6zM1249 990h4.6v4.6h-4.6zM1170 963h4.6v4.6h-4.6zM1210 969h4.6v4.6h-4.6zM1276 983h4.6v4.6h-4.6zM1241 983h4.6v4.6h-4.6zM1246 989h4.6v4.6h-4.6zM1234 993h4.6v4.6h-4.6zM1276 987h4.6v4.6h-4.6zM1270 990h4.6v4.6h-4.6zM1251 985h4.6v4.6h-4.6zM1263 971h4.6v4.6h-4.6zM1253 993h4.6v4.6h-4.6zM1239 953h4.6v4.6h-4.6zM1243 985h4.6v4.6h-4.6zM1286 972h4.6v4.6h-4.6zM1261 990h4.6v4.6h-4.6zM1303 987h4.6v4.6h-4.6zM1262 987h4.6v4.6h-4.6zM1215 995h4.6v4.6h-4.6zM1260 978h4.6v4.6h-4.6zM1241 998h4.6v4.6h-4.6zM1218 980h4.6v4.6h-4.6zM1221 961h4.6v4.6h-4.6zM1285 944h4.6v4.6h-4.6zM1268 995h4.6v4.6h-4.6zM1220 1030h4.6v4.6h-4.6zM1237 982h4.6v4.6h-4.6zM1273 977h4.6v4.6h-4.6zM1264 981h4.6v4.6h-4.6zM1269 963h4.6v4.6h-4.6zM1225 984h4.6v4.6h-4.6zM1225 950h4.6v4.6h-4.6zM1281 976h4.6v4.6h-4.6zM1225 973h4.6v4.6h-4.6zM1245 979h4.6v4.6h-4.6zM1248 973h4.6v4.6h-4.6zM1244 967h4.6v4.6h-4.6zM1255 987h4.6v4.6h-4.6zM1246 988h4.6v4.6h-4.6zM1267 990h4.6v4.6h-4.6zM1255 989h4.6v4.6h-4.6zM1221 961h4.6v4.6h-4.6zM1229 966h4.6v4.6h-4.6zM1254 1009h4.6v4.6h-4.6zM1228 985h4.6v4.6h-4.6zM1228 996h4.6v4.6h-4.6zM1266 989h4.6v4.6h-4.6zM1257 990h4.6v4.6h-4.6zM1255 995h4.6v4.6h-4.6zM1252 973h4.6v4.6h-4.6zM1250 989h4.6v4.6h-4.6zM1227 974h4.6v4.6h-4.6zM1257 987h4.6v4.6h-4.6zM1235 970h4.6v4.6h-4.6zM1304 998h4.6v4.6h-4.6zM1259 977h4.6v4.6h-4.6zM1194 968h4.6v4.6h-4.6zM1239 957h4.6v4.6h-4.6zM1242 992h4.6v4.6h-4.6zM1246 978h4.6v4.6h-4.6zM1238 980h4.6v4.6h-4.6zM1220 979h4.6v4.6h-4.6zM1274 955h4.6v4.6h-4.6zM1267 981h4.6v4.6h-4.6zM1279 972h4.6v4.6h-4.6zM1290 973h4.6v4.6h-4.6zM1249 977h4.6v4.6h-4.6zM1255 978h4.6v4.6h-4.6zM1252 995h4.6v4.6h-4.6zM1202 982h4.6v4.6h-4.6zM1206 971h4.6v4.6h-4.6zM1245 1007h4.6v4.6h-4.6zM1268 972h4.6v4.6h-4.6zM1258 957h4.6v4.6h-4.6zM1287 1009h4.6v4.6h-4.6zM1274 980h4.6v4.6h-4.6zM1262 969h4.6v4.6h-4.6zM1233 987h4.6v4.6h-4.6zM1230 989h4.6v4.6h-4.6zM1243 1003h4.6v4.6h-4.6zM1229 968h4.6v4.6h-4.6zM1250 975h4.6v4.6h-4.6zM1206 985h4.6v4.6h-4.6zM1238 979h4.6v4.6h-4.6zM1240 965h4.6v4.6h-4.6zM1249 981h4.6v4.6h-4.6zM1253 971h4.6v4.6h-4.6zM1244 962h4.6v4.6h-4.6zM1261 981h4.6v4.6h-4.6zM1253 974h4.6v4.6h-4.6zM1276 972h4.6v4.6h-4.6zM1261 970h4.6v4.6h-4.6zM1257 963h4.6v4.6h-4.6zM1243 1013h4.6v4.6h-4.6zM1280 986h4.6v4.6h-4.6zM1224 979h4.6v4.6h-4.6zM1238 945h4.6v4.6h-4.6zM1256 1008h4.6v4.6h-4.6zM1261 990h4.6v4.6h-4.6zM1289 1007h4.6v4.6h-4.6zM1201 970h4.6v4.6h-4.6zM1241 986h4.6v4.6h-4.6zM1205 965h4.6v4.6h-4.6zM1281 1019h4.6v4.6h-4.6zM1274 996h4.6v4.6h-4.6zM1303 986h4.6v4.6h-4.6zM1250 964h4.6v4.6h-4.6zM1260 993h4.6v4.6h-4.6z"/><path d="M1264 993h4.6v4.6h-4.6zM1218 942h4.6v4.6h-4.6zM1241 989h4.6v4.6h-4.6zM1253 1007h4.6v4.6h-4.6zM1219 983h4.6v4.6h-4.6zM1239 978h4.6v4.6h-4.6zM1273 994h4.6v4.6h-4.6zM1263 975h4.6v4.6h-4.6zM1227 973h4.6v4.6h-4.6zM1233 961h4.6v4.6h-4.6zM1260 984h4.6v4.6h-4.6zM1221 974h4.6v4.6h-4.6zM1236 967h4.6v4.6h-4.6zM1245 994h4.6v4.6h-4.6zM1273 975h4.6v4.6h-4.6zM1241 961h4.6v4.6h-4.6zM1243 985h4.6v4.6h-4.6zM1251 994h4.6v4.6h-4.6zM1240 982h4.6v4.6h-4.6zM1289 966h4.6v4.6h-4.6zM1250 956h4.6v4.6h-4.6zM1251 976h4.6v4.6h-4.6zM1271 981h4.6v4.6h-4.6zM1304 989h4.6v4.6h-4.6zM1228 956h4.6v4.6h-4.6zM1240 984h4.6v4.6h-4.6zM1188 952h4.6v4.6h-4.6zM1271 973h4.6v4.6h-4.6zM1277 960h4.6v4.6h-4.6zM1252 967h4.6v4.6h-4.6zM1233 984h4.6v4.6h-4.6zM1275 981h4.6v4.6h-4.6zM1222 970h4.6v4.6h-4.6zM1181 999h4.6v4.6h-4.6zM1236 983h4.6v4.6h-4.6zM1161 1003h4.6v4.6h-4.6zM1218 988h4.6v4.6h-4.6zM1196 987h4.6v4.6h-4.6zM1216 992h4.6v4.6h-4.6zM1187 1002h4.6v4.6h-4.6zM1190 1001h4.6v4.6h-4.6zM1198 979h4.6v4.6h-4.6zM1230 977h4.6v4.6h-4.6zM1181 976h4.6v4.6h-4.6zM1162 980h4.6v4.6h-4.6zM1161 995h4.6v4.6h-4.6zM1227 972h4.6v4.6h-4.6zM1185 1002h4.6v4.6h-4.6zM1162 967h4.6v4.6h-4.6zM1203 971h4.6v4.6h-4.6zM1226 981h4.6v4.6h-4.6zM1208 995h4.6v4.6h-4.6zM1168 986h4.6v4.6h-4.6zM1194 1005h4.6v4.6h-4.6zM1180 996h4.6v4.6h-4.6zM1157 984h4.6v4.6h-4.6zM1235 976h4.6v4.6h-4.6zM1195 990h4.6v4.6h-4.6zM1166 980h4.6v4.6h-4.6zM1231 989h4.6v4.6h-4.6zM1236 974h4.6v4.6h-4.6zM1224 985h4.6v4.6h-4.6zM1179 997h4.6v4.6h-4.6zM1171 984h4.6v4.6h-4.6zM1201 994h4.6v4.6h-4.6zM1200 963h4.6v4.6h-4.6zM1229 985h4.6v4.6h-4.6zM1231 956h4.6v4.6h-4.6zM1233 989h4.6v4.6h-4.6zM1183 981h4.6v4.6h-4.6zM1207 996h4.6v4.6h-4.6zM1170 1004h4.6v4.6h-4.6zM1199 983h4.6v4.6h-4.6zM1161 984h4.6v4.6h-4.6zM1169 1004h4.6v4.6h-4.6zM1164 978h4.6v4.6h-4.6zM1183 996h4.6v4.6h-4.6zM1182 986h4.6v4.6h-4.6zM1213 977h4.6v4.6h-4.6zM1162 985h4.6v4.6h-4.6zM1170 1009h4.6v4.6h-4.6zM1207 965h4.6v4.6h-4.6zM1210 976h4.6v4.6h-4.6zM1215 986h4.6v4.6h-4.6zM1217 992h4.6v4.6h-4.6zM1214 1000h4.6v4.6h-4.6zM1204 998h4.6v4.6h-4.6zM1216 975h4.6v4.6h-4.6zM1164 995h4.6v4.6h-4.6zM1176 1001h4.6v4.6h-4.6zM1218 986h4.6v4.6h-4.6zM1169 973h4.6v4.6h-4.6zM1201 987h4.6v4.6h-4.6zM1179 994h4.6v4.6h-4.6zM1189 971h4.6v4.6h-4.6zM1223 974h4.6v4.6h-4.6zM1210 982h4.6v4.6h-4.6zM1194 992h4.6v4.6h-4.6zM1182 1004h4.6v4.6h-4.6zM1224 992h4.6v4.6h-4.6zM1211 987h4.6v4.6h-4.6zM1193 988h4.6v4.6h-4.6zM1227 975h4.6v4.6h-4.6zM1212 976h4.6v4.6h-4.6zM1236 975h4.6v4.6h-4.6zM1210 980h4.6v4.6h-4.6zM1232 989h4.6v4.6h-4.6zM1206 1006h4.6v4.6h-4.6zM1215 987h4.6v4.6h-4.6zM1227 989h4.6v4.6h-4.6zM1166 998h4.6v4.6h-4.6zM1196 988h4.6v4.6h-4.6zM1208 996h4.6v4.6h-4.6zM1164 1003h4.6v4.6h-4.6zM1221 981h4.6v4.6h-4.6zM1215 980h4.6v4.6h-4.6zM1234 985h4.6v4.6h-4.6zM1186 981h4.6v4.6h-4.6zM1195 987h4.6v4.6h-4.6zM1233 989h4.6v4.6h-4.6zM1190 985h4.6v4.6h-4.6zM1221 960h4.6v4.6h-4.6zM1192 993h4.6v4.6h-4.6zM1269 1005h4.6v4.6h-4.6zM1292 994h4.6v4.6h-4.6zM1278 1048h4.6v4.6h-4.6zM1312 1049h4.6v4.6h-4.6zM1324 1040h4.6v4.6h-4.6zM1269 1022h4.6v4.6h-4.6zM1297 982h4.6v4.6h-4.6zM1274 1042h4.6v4.6h-4.6zM1302 1006h4.6v4.6h-4.6zM1300 1002h4.6v4.6h-4.6zM1314 1026h4.6v4.6h-4.6zM1302 1033h4.6v4.6h-4.6zM1300 1021h4.6v4.6h-4.6zM1293 1034h4.6v4.6h-4.6zM1304 1018h4.6v4.6h-4.6zM1294 1038h4.6v4.6h-4.6zM1313 1044h4.6v4.6h-4.6zM1324 1035h4.6v4.6h-4.6zM1309 1053h4.6v4.6h-4.6zM1309 1041h4.6v4.6h-4.6zM1275 999h4.6v4.6h-4.6zM1281 1029h4.6v4.6h-4.6zM1317 1025h4.6v4.6h-4.6zM1286 1007h4.6v4.6h-4.6zM1287 1038h4.6v4.6h-4.6zM1271 999h4.6v4.6h-4.6zM1273 1012h4.6v4.6h-4.6zM1284 1021h4.6v4.6h-4.6zM1273 998h4.6v4.6h-4.6zM1284 1022h4.6v4.6h-4.6zM1288 999h4.6v4.6h-4.6zM1306 1044h4.6v4.6h-4.6zM1293 1004h4.6v4.6h-4.6zM1288 1015h4.6v4.6h-4.6zM1316 1029h4.6v4.6h-4.6zM1292 1028h4.6v4.6h-4.6zM1267 1002h4.6v4.6h-4.6zM1271 1015h4.6v4.6h-4.6zM1304 1021h4.6v4.6h-4.6zM1286 998h4.6v4.6h-4.6zM1298 991h4.6v4.6h-4.6zM1310 1016h4.6v4.6h-4.6zM1296 1018h4.6v4.6h-4.6zM1281 1011h4.6v4.6h-4.6zM1300 1020h4.6v4.6h-4.6zM1300 1027h4.6v4.6h-4.6zM1282 986h4.6v4.6h-4.6zM1290 1002h4.6v4.6h-4.6zM1278 1017h4.6v4.6h-4.6zM1307 1045h4.6v4.6h-4.6zM1282 987h4.6v4.6h-4.6zM1289 1010h4.6v4.6h-4.6zM1277 1007h4.6v4.6h-4.6zM1313 1021h4.6v4.6h-4.6zM1306 1039h4.6v4.6h-4.6zM1270 1000h4.6v4.6h-4.6zM1308 1042h4.6v4.6h-4.6zM1288 1046h4.6v4.6h-4.6zM1287 999h4.6v4.6h-4.6zM1305 1051h4.6v4.6h-4.6zM1279 1015h4.6v4.6h-4.6zM1302 1041h4.6v4.6h-4.6zM1278 993h4.6v4.6h-4.6zM1291 1019h4.6v4.6h-4.6zM1294 1021h4.6v4.6h-4.6zM1300 1053h4.6v4.6h-4.6zM1310 1038h4.6v4.6h-4.6zM1284 1034h4.6v4.6h-4.6zM1274 996h4.6v4.6h-4.6zM1293 1014h4.6v4.6h-4.6zM1287 1014h4.6v4.6h-4.6zM1335 1029h4.6v4.6h-4.6zM1307 1025h4.6v4.6h-4.6zM1294 1011h4.6v4.6h-4.6zM1288 1012h4.6v4.6h-4.6zM1306 1035h4.6v4.6h-4.6zM1281 993h4.6v4.6h-4.6zM1318 1027h4.6v4.6h-4.6zM1292 1039h4.6v4.6h-4.6zM1299 1009h4.6v4.6h-4.6zM1308 1027h4.6v4.6h-4.6zM1296 1008h4.6v4.6h-4.6zM1280 999h4.6v4.6h-4.6zM1280 1026h4.6v4.6h-4.6zM1262 1007h4.6v4.6h-4.6zM1288 985h4.6v4.6h-4.6zM1293 1015h4.6v4.6h-4.6zM1299 1048h4.6v4.6h-4.6zM1282 1003h4.6v4.6h-4.6zM1291 1023h4.6v4.6h-4.6zM1303 1059h4.6v4.6h-4.6zM1292 1055h4.6v4.6h-4.6zM1301 1053h4.6v4.6h-4.6zM1305 1027h4.6v4.6h-4.6zM1298 1025h4.6v4.6h-4.6zM1296 1026h4.6v4.6h-4.6zM1301 1023h4.6v4.6h-4.6zM1297 1014h4.6v4.6h-4.6zM1270 1030h4.6v4.6h-4.6zM1278 1010h4.6v4.6h-4.6zM1266 1005h4.6v4.6h-4.6zM1278 1024h4.6v4.6h-4.6zM1303 1038h4.6v4.6h-4.6zM1295 1024h4.6v4.6h-4.6zM1275 1006h4.6v4.6h-4.6zM1298 1048h4.6v4.6h-4.6zM1267 1001h4.6v4.6h-4.6zM1331 1026h4.6v4.6h-4.6zM1293 1036h4.6v4.6h-4.6zM1283 1037h4.6v4.6h-4.6zM1292 1014h4.6v4.6h-4.6zM1315 1032h4.6v4.6h-4.6zM1273 992h4.6v4.6h-4.6zM1261 1005h4.6v4.6h-4.6zM1303 1013h4.6v4.6h-4.6zM1277 1016h4.6v4.6h-4.6zM1280 1024h4.6v4.6h-4.6zM1291 1027h4.6v4.6h-4.6zM1270 998h4.6v4.6h-4.6zM1323 1039h4.6v4.6h-4.6zM1263 958h4.6v4.6h-4.6zM1273 957h4.6v4.6h-4.6zM1272 977h4.6v4.6h-4.6zM1195 947h4.6v4.6h-4.6zM1201 962h4.6v4.6h-4.6zM1241 965h4.6v4.6h-4.6zM1230 939h4.6v4.6h-4.6zM1165 946h4.6v4.6h-4.6zM1315 958h4.6v4.6h-4.6zM1243 948h4.6v4.6h-4.6zM1301 974h4.6v4.6h-4.6zM1247 961h4.6v4.6h-4.6zM1261 956h4.6v4.6h-4.6zM1265 964h4.6v4.6h-4.6zM1246 967h4.6v4.6h-4.6zM1223 960h4.6v4.6h-4.6zM1240 974h4.6v4.6h-4.6zM1293 960h4.6v4.6h-4.6zM1201 943h4.6v4.6h-4.6zM1221 951h4.6v4.6h-4.6zM1244 955h4.6v4.6h-4.6zM1249 966h4.6v4.6h-4.6zM1245 930h4.6v4.6h-4.6zM1174 957h4.6v4.6h-4.6zM1258 972h4.6v4.6h-4.6z"/></g>
<g id="NT"><path d="M1334 1083l2.2 4.5h-4.5zM1349 1082l2.2 4.5h-4.5zM1369 1120l2.2 4.5h-4.5zM1366 1109l2.2 4.5h-4.5zM1377 1111l2.2 4.5h-4.5zM1363 1119l2.2 4.5h-4.5zM1378 1103l2.2 4.5h-4.5zM1349 1138l2.2 4.5h-4.5zM1368 1135l2.2 4.5h-4.5zM1359 1143l2.2 4.5h-4.5zM1356 1115l2.2 4.5h-4.5zM1376 1120l2.2 4.5h-4.5zM1392 1119l2.2 4.5h-4.5zM1405 1094l2.2 4.5h-4.5zM1370 1132l2.2 4.5h-4.5zM1320 1133l2.2 4.5h-4.5zM1357 1083l2.2 4.5h-4.5zM1334 1088l2.2 4.5h-4.5zM1355 1109l2.2 4.5h-4.5zM1324 1127l2.2 4.5h-4.5zM1354 1110l2.2 4.5h-4.5zM1367 1146l2.2 4.5h-4.5zM1373 1106l2.2 4.5h-4.5zM1367 1101l2.2 4.5h-4.5zM1378 1120l2.2 4.5h-4.5zM1346 1155l2.2 4.5h-4.5zM1379 1105l2.2 4.5h-4.5zM1364 1131l2.2 4.5h-4.5zM1362 1122l2.2 4.5h-4.5zM1359 1138l2.2 4.5h-4.5zM1392 1113l2.2 4.5h-4.5zM1357 1151l2.2 4.5h-4.5zM1348 1110l2.2 4.5h-4.5zM1373 1125l2.2 4.5h-4.5zM1363 1129l2.2 4.5h-4.5zM1340 1099l2.2 4.5h-4.5zM1358 1072l2.2 4.5h-4.5zM1351 1128l2.2 4.5h-4.5zM1375 1126l2.2 4.5h-4.5zM1344 1146l2.2 4.5h-4.5zM1362 1116l2.2 4.5h-4.5zM1356 1103l2.2 4.5h-4.5zM1375 1114l2.2 4.5h-4.5zM1363 1128l2.2 4.5h-4.5zM1366 1103l2.2 4.5h-4.5zM1361 1114l2.2 4.5h-4.5zM1362 1152l2.2 4.5h-4.5zM1344 1110l2.2 4.5h-4.5zM1362 1090l2.2 4.5h-4.5zM1359 1105l2.2 4.5h-4.5zM1377 1099l2.2 4.5h-4.5zM1353 1128l2.2 4.5h-4.5zM1367 1143l2.2 4.5h-4.5zM1365 1101l2.2 4.5h-4.5zM1347 1084l2.2 4.5h-4.5zM1358 1128l2.2 4.5h-4.5zM1360 1138l2.2 4.5h-4.5zM1367 1121l2.2 4.5h-4.5zM1384 1106l2.2 4.5h-4.5zM1370 1126l2.2 4.5h-4.5zM1341 1128l2.2 4.5h-4.5zM1346 1106l2.2 4.5h-4.5zM1355 1089l2.2 4.5h-4.5zM1369 1104l2.2 4.5h-4.5zM1364 1118l2.2 4.5h-4.5zM1368 1103l2.2 4.5h-4.5zM1349 1115l2.2 4.5h-4.5zM1400 1118l2.2 4.5h-4.5zM1360 1138l2.2 4.5h-4.5zM1336 1103l2.2 4.5h-4.5zM1361 1117l2.2 4.5h-4.5zM1380 1067l2.2 4.5h-4.5zM1345 1104l2.2 4.5h-4.5zM1369 1113l2.2 4.5h-4.5zM1369 1122l2.2 4.5h-4.5zM1383 1106l2.2 4.5h-4.5zM1362 1097l2.2 4.5h-4.5zM1373 1111l2.2 4.5h-4.5zM1360 1086l2.2 4.5h-4.5zM1369 1123l2.2 4.5h-4.5zM1350 1132l2.2 4.5h-4.5zM1346 1123l2.2 4.5h-4.5zM1373 1164l2.2 4.5h-4.5zM1359 1110l2.2 4.5h-4.5zM1367 1142l2.2 4.5h-4.5zM1383 1134l2.2 4.5h-4.5zM1347 1148l2.2 4.5h-4.5zM1358 1103l2.2 4.5h-4.5zM1378 1116l2.2 4.5h-4.5zM1346 1139l2.2 4.5h-4.5zM1349 1129l2.2 4.5h-4.5zM1335 1125l2.2 4.5h-4.5zM1371 1124l2.2 4.5h-4.5zM1372 1141l2.2 4.5h-4.5zM1342 1140l2.2 4.5h-4.5zM1375 1099l2.2 4.5h-4.5zM1350 1100l2.2 4.5h-4.5zM1351 1093l2.2 4.5h-4.5zM1370 1131l2.2 4.5h-4.5zM1376 1137l2.2 4.5h-4.5zM1353 1155l2.2 4.5h-4.5zM1365 1123l2.2 4.5h-4.5zM1362 1131l2.2 4.5h-4.5zM1384 1128l2.2 4.5h-4.5zM1346 1100l2.2 4.5h-4.5zM1381 1112l2.2 4.5h-4.5zM1338 1140l2.2 4.5h-4.5zM1370 1121l2.2 4.5h-4.5zM1389 1147l2.2 4.5h-4.5zM1374 1134l2.2 4.5h-4.5zM1381 1121l2.2 4.5h-4.5zM1379 1133l2.2 4.5h-4.5zM1345 1149l2.2 4.5h-4.5zM1356 1145l2.2 4.5h-4.5zM1374 1093l2.2 4.5h-4.5zM1369 1143l2.2 4.5h-4.5zM1362 1137l2.2 4.5h-4.5zM1382 1113l2.2 4.5h-4.5zM1370 1130l2.2 4.5h-4.5zM1335 1144l2.2 4.5h-4.5zM1344 1118l2.2 4.5h-4.5zM1366 1139l2.2 4.5h-4.5zM1350 1092l2.2 4.5h-4.5zM1351 1144l2.2 4.5h-4.5zM1361 1138l2.2 4.5h-4.5zM1353 1113l2.2 4.5h-4.5zM1393 1155l2.2 4.5h-4.5zM1361 1122l2.2 4.5h-4.5zM1361 1127l2.2 4.5h-4.5zM1353 1103l2.2 4.5h-4.5zM1355 1127l2.2 4.5h-4.5zM1361 1121l2.2 4.5h-4.5zM1355 1103l2.2 4.5h-4.5zM1361 1119l2.2 4.5h-4.5zM1364 1143l2.2 4.5h-4.5zM1353 1146l2.2 4.5h-4.5zM1367 1137l2.2 4.5h-4.5zM1345 1121l2.2 4.5h-4.5zM1375 1157l2.2 4.5h-4.5zM1386 1118l2.2 4.5h-4.5zM1356 1102l2.2 4.5h-4.5zM1365 1135l2.2 4.5h-4.5zM1398 1139l2.2 4.5h-4.5zM1357 1106l2.2 4.5h-4.5zM1346 1128l2.2 4.5h-4.5zM1359 1073l2.2 4.5h-4.5zM1348 1126l2.2 4.5h-4.5zM1371 1120l2.2 4.5h-4.5zM1342 1118l2.2 4.5h-4.5zM1361 1114l2.2 4.5h-4.5zM1413 1088l2.2 4.5h-4.5zM1402 1099l2.2 4.5h-4.5zM1379 1106l2.2 4.5h-4.5zM1399 1110l2.2 4.5h-4.5zM1397 1117l2.2 4.5h-4.5zM1419 1071l2.2 4.5h-4.5zM1390 1098l2.2 4.5h-4.5zM1392 1084l2.2 4.5h-4.5zM1402 1103l2.2 4.5h-4.5zM1392 1102l2.2 4.5h-4.5zM1381 1094l2.2 4.5h-4.5zM1385 1096l2.2 4.5h-4.5zM1398 1087l2.2 4.5h-4.5zM1395 1088l2.2 4.5h-4.5zM1382 1095l2.2 4.5h-4.5zM1392 1101l2.2 4.5h-4.5zM1397 1090l2.2 4.5h-4.5zM1365 1099l2.2 4.5h-4.5zM1373 1085l2.2 4.5h-4.5zM1366 1120l2.2 4.5h-4.5zM1371 1079l2.2 4.5h-4.5zM1376 1102l2.2 4.5h-4.5zM1388 1132l2.2 4.5h-4.5zM1391 1094l2.2 4.5h-4.5zM1393 1090l2.2 4.5h-4.5zM1390 1104l2.2 4.5h-4.5zM1390 1099l2.2 4.5h-4.5zM1424 1099l2.2 4.5h-4.5zM1399 1114l2.2 4.5h-4.5zM1384 1081l2.2 4.5h-4.5zM1379 1118l2.2 4.5h-4.5zM1394 1111l2.2 4.5h-4.5zM1425 1141l2.2 4.5h-4.5zM1401 1093l2.2 4.5h-4.5zM1379 1114l2.2 4.5h-4.5zM1402 1079l2.2 4.5h-4.5zM1382 1129l2.2 4.5h-4.5zM1410 1080l2.2 4.5h-4.5zM1391 1139l2.2 4.5h-4.5zM1417 1107l2.2 4.5h-4.5zM1412 1105l2.2 4.5h-4.5zM1390 1111l2.2 4.5h-4.5zM1418 1082l2.2 4.5h-4.5zM1364 1119l2.2 4.5h-4.5zM1422 1110l2.2 4.5h-4.5zM1375 1104l2.2 4.5h-4.5zM1394 1106l2.2 4.5h-4.5zM1388 1109l2.2 4.5h-4.5zM1389 1099l2.2 4.5h-4.5zM1383 1109l2.2 4.5h-4.5zM1393 1084l2.2 4.5h-4.5zM1401 1106l2.2 4.5h-4.5zM1404 1098l2.2 4.5h-4.5zM1412 1096l2.2 4.5h-4.5zM1422 1083l2.2 4.5h-4.5zM1395 1111l2.2 4.5h-4.5zM1409 1096l2.2 4.5h-4.5zM1394 1127l2.2 4.5h-4.5zM1368 1099l2.2 4.5h-4.5zM1407 1092l2.2 4.5h-4.5zM1376 1088l2.2 4.5h-4.5z"/><path d="M1388 1098l2.2 4.5h-4.5zM1402 1117l2.2 4.5h-4.5zM1387 1137l2.2 4.5h-4.5zM1382 1132l2.2 4.5h-4.5zM1402 1103l2.2 4.5h-4.5zM1409 1099l2.2 4.5h-4.5zM1386 1099l2.2 4.5h-4.5zM1390 1095l2.2 4.5h-4.5zM1400 1120l2.2 4.5h-4.5zM1396 1103l2.2 4.5h-4.5zM1391 1090l2.2 4.5h-4.5zM1421 1110l2.2 4.5h-4.5zM1390 1139l2.2 4.5h-4.5zM1394 1111l2.2 4.5h-4.5zM1363 1100l2.2 4.5h-4.5zM1404 1116l2.2 4.5h-4.5zM1390 1119l2.2 4.5h-4.5zM1407 1128l2.2 4.5h-4.5zM1391 1074l2.2 4.5h-4.5zM1396 1097l2.2 4.5h-4.5zM1393 1123l2.2 4.5h-4.5zM1395 1098l2.2 4.5h-4.5zM1380 1099l2.2 4.5h-4.5zM1414 1088l2.2 4.5h-4.5zM1372 1119l2.2 4.5h-4.5zM1372 1087l2.2 4.5h-4.5zM1405 1093l2.2 4.5h-4.5zM1383 1122l2.2 4.5h-4.5zM1397 1103l2.2 4.5h-4.5zM1383 1102l2.2 4.5h-4.5zM1405 1101l2.2 4.5h-4.5zM1380 1137l2.2 4.5h-4.5zM1392 1102l2.2 4.5h-4.5zM1392 1111l2.2 4.5h-4.5zM1385 1093l2.2 4.5h-4.5zM1395 1102l2.2 4.5h-4.5zM1381 1114l2.2 4.5h-4.5zM1398 1120l2.2 4.5h-4.5zM1377 1109l2.2 4.5h-4.5zM1414 1101l2.2 4.5h-4.5zM1417 1106l2.2 4.5h-4.5zM1391 1126l2.2 4.5h-4.5zM1387 1082l2.2 4.5h-4.5zM1401 1093l2.2 4.5h-4.5zM1406 1104l2.2 4.5h-4.5zM1393 1102l2.2 4.5h-4.5zM1406 1097l2.2 4.5h-4.5zM1403 1102l2.2 4.5h-4.5zM1384 1108l2.2 4.5h-4.5zM1382 1089l2.2 4.5h-4.5zM1364 1108l2.2 4.5h-4.5zM1379 1104l2.2 4.5h-4.5zM1415 1107l2.2 4.5h-4.5zM1405 1103l2.2 4.5h-4.5zM1390 1055l2.2 4.5h-4.5zM1397 1113l2.2 4.5h-4.5zM1388 1098l2.2 4.5h-4.5zM1402 1092l2.2 4.5h-4.5zM1398 1127l2.2 4.5h-4.5zM1404 1109l2.2 4.5h-4.5zM1391 1127l2.2 4.5h-4.5zM1387 1116l2.2 4.5h-4.5zM1395 1127l2.2 4.5h-4.5zM1349 1071l2.2 4.5h-4.5zM1362 1090l2.2 4.5h-4.5zM1345 1023l2.2 4.5h-4.5zM1350 1075l2.2 4.5h-4.5zM1401 1075l2.2 4.5h-4.5zM1345 1043l2.2 4.5h-4.5zM1344 1028l2.2 4.5h-4.5zM1365 1027l2.2 4.5h-4.5zM1356 1043l2.2 4.5h-4.5zM1354 1039l2.2 4.5h-4.5zM1344 1068l2.2 4.5h-4.5zM1371 1088l2.2 4.5h-4.5zM1367 1053l2.2 4.5h-4.5zM1381 1046l2.2 4.5h-4.5zM1350 1021l2.2 4.5h-4.5zM1357 1007l2.2 4.5h-4.5zM1390 1082l2.2 4.5h-4.5zM1351 1049l2.2 4.5h-4.5zM1397 1073l2.2 4.5h-4.5zM1348 1051l2.2 4.5h-4.5zM1366 1069l2.2 4.5h-4.5zM1357 1083l2.2 4.5h-4.5zM1344 1025l2.2 4.5h-4.5zM1320 1050l2.2 4.5h-4.5zM1360 1051l2.2 4.5h-4.5zM1319 1057l2.2 4.5h-4.5zM1358 1035l2.2 4.5h-4.5zM1328 1056l2.2 4.5h-4.5zM1356 1039l2.2 4.5h-4.5zM1338 1078l2.2 4.5h-4.5zM1342 1055l2.2 4.5h-4.5zM1361 1037l2.2 4.5h-4.5zM1348 1070l2.2 4.5h-4.5zM1370 1070l2.2 4.5h-4.5zM1324 1041l2.2 4.5h-4.5zM1363 1117l2.2 4.5h-4.5zM1357 1053l2.2 4.5h-4.5zM1389 1079l2.2 4.5h-4.5zM1315 1047l2.2 4.5h-4.5zM1337 1028l2.2 4.5h-4.5zM1324 1048l2.2 4.5h-4.5zM1373 1096l2.2 4.5h-4.5zM1353 1055l2.2 4.5h-4.5zM1372 1089l2.2 4.5h-4.5zM1396 1043l2.2 4.5h-4.5zM1315 1057l2.2 4.5h-4.5zM1358 1044l2.2 4.5h-4.5zM1359 1039l2.2 4.5h-4.5zM1333 1083l2.2 4.5h-4.5zM1355 1096l2.2 4.5h-4.5zM1339 1030l2.2 4.5h-4.5zM1379 1090l2.2 4.5h-4.5zM1361 1054l2.2 4.5h-4.5zM1363 1039l2.2 4.5h-4.5zM1366 1076l2.2 4.5h-4.5zM1332 1061l2.2 4.5h-4.5zM1341 1107l2.2 4.5h-4.5zM1355 1053l2.2 4.5h-4.5zM1347 1071l2.2 4.5h-4.5zM1342 1039l2.2 4.5h-4.5zM1342 1041l2.2 4.5h-4.5zM1365 1098l2.2 4.5h-4.5zM1382 1043l2.2 4.5h-4.5zM1366 1043l2.2 4.5h-4.5zM1385 1065l2.2 4.5h-4.5zM1371 1098l2.2 4.5h-4.5zM1333 1046l2.2 4.5h-4.5zM1383 1095l2.2 4.5h-4.5zM1323 1038l2.2 4.5h-4.5zM1353 1081l2.2 4.5h-4.5zM1348 1042l2.2 4.5h-4.5zM1345 1044l2.2 4.5h-4.5zM1362 1056l2.2 4.5h-4.5zM1359 1073l2.2 4.5h-4.5zM1369 1041l2.2 4.5h-4.5zM1374 1070l2.2 4.5h-4.5zM1356 1120l2.2 4.5h-4.5zM1331 1050l2.2 4.5h-4.5zM1341 1046l2.2 4.5h-4.5zM1376 1055l2.2 4.5h-4.5zM1349 1059l2.2 4.5h-4.5zM1344 1053l2.2 4.5h-4.5zM1351 1069l2.2 4.5h-4.5zM1378 1063l2.2 4.5h-4.5zM1379 1089l2.2 4.5h-4.5zM1379 1093l2.2 4.5h-4.5zM1370 1088l2.2 4.5h-4.5zM1355 1045l2.2 4.5h-4.5zM1376 1089l2.2 4.5h-4.5zM1353 1093l2.2 4.5h-4.5zM1386 1067l2.2 4.5h-4.5zM1380 1047l2.2 4.5h-4.5zM1401 1035l2.2 4.5h-4.5zM1356 1057l2.2 4.5h-4.5zM1339 1023l2.2 4.5h-4.5zM1382 1028l2.2 4.5h-4.5zM1363 1093l2.2 4.5h-4.5zM1409 1053l2.2 4.5h-4.5zM1374 1053l2.2 4.5h-4.5zM1387 1044l2.2 4.5h-4.5zM1331 1034l2.2 4.5h-4.5zM1358 1063l2.2 4.5h-4.5zM1414 1037l2.2 4.5h-4.5zM1362 1089l2.2 4.5h-4.5zM1375 1044l2.2 4.5h-4.5zM1369 1078l2.2 4.5h-4.5zM1351 1078l2.2 4.5h-4.5zM1376 1039l2.2 4.5h-4.5zM1396 1068l2.2 4.5h-4.5zM1377 1044l2.2 4.5h-4.5zM1358 1057l2.2 4.5h-4.5zM1424 1050l2.2 4.5h-4.5zM1393 1062l2.2 4.5h-4.5zM1372 1086l2.2 4.5h-4.5zM1370 1032l2.2 4.5h-4.5zM1423 1032l2.2 4.5h-4.5zM1388 1053l2.2 4.5h-4.5zM1356 1057l2.2 4.5h-4.5zM1386 1069l2.2 4.5h-4.5zM1394 1073l2.2 4.5h-4.5zM1326 1073l2.2 4.5h-4.5zM1329 1080l2.2 4.5h-4.5zM1399 1058l2.2 4.5h-4.5zM1376 1033l2.2 4.5h-4.5zM1402 1064l2.2 4.5h-4.5zM1404 1047l2.2 4.5h-4.5zM1371 1046l2.2 4.5h-4.5zM1335 1069l2.2 4.5h-4.5zM1368 1043l2.2 4.5h-4.5zM1361 1057l2.2 4.5h-4.5zM1395 1028l2.2 4.5h-4.5zM1390 1031l2.2 4.5h-4.5zM1361 1060l2.2 4.5h-4.5zM1379 1060l2.2 4.5h-4.5zM1358 1023l2.2 4.5h-4.5zM1262 1007l2.2 4.5h-4.5zM1273 972l2.2 4.5h-4.5zM1266 980l2.2 4.5h-4.5zM1258 1001l2.2 4.5h-4.5zM1254 997l2.2 4.5h-4.5zM1294 1009l2.2 4.5h-4.5zM1290 1008l2.2 4.5h-4.5zM1261 985l2.2 4.5h-4.5zM1275 991l2.2 4.5h-4.5zM1239 990l2.2 4.5h-4.5zM1249 963l2.2 4.5h-4.5zM1262 993l2.2 4.5h-4.5zM1247 1001l2.2 4.5h-4.5zM1245 983l2.2 4.5h-4.5z"/></g>
</defs>
<use href="#AF" fill="#4b0082" fill-opacity="0.55" stroke="#4b0082" stroke-opacity="0.55" stroke-width="0.8" transform="translate(0 0)"/><use href="#NF" fill="#4b0082" fill-opacity="0.55" stroke="#4b0082" stroke-opacity="0.55" stroke-width="0.8" transform="translate(0 0)"/><use href="#AT" fill="#ffa500" fill-opacity="0.6" stroke="#ffa500" stroke-opacity="0.6" stroke-width="0.8" transform="translate(0 0)"/><use href="#NT" fill="#ffa500" fill-opacity="0.6" stroke="#ffa500" stroke-opacity="0.6" stroke-width="0.8" transform="translate(0 0)"/>
<use href="#NF" fill="#808080" fill-opacity="0.13" stroke="#808080" stroke-opacity="0.13" stroke-width="0.8" transform="translate(344.6 0)"/><use href="#NT" fill="#808080" fill-opacity="0.13" stroke="#808080" stroke-opacity="0.13" stroke-width="0.8" transform="translate(344.6 0)"/><use href="#AF" fill="#4b0082" fill-opacity="0.6" stroke="#4b0082" stroke-opacity="0.6" stroke-width="0.8" transform="translate(344.6 0)"/><use href="#AT" fill="#ffa500" fill-opacity="0.6" stroke="#ffa500" stroke-opacity="0.6" stroke-width="0.8" transform="translate(344.6 0)"/>
<use href="#AF" fill="#808080" fill-opacity="0.13" stroke="#808080" stroke-opacity="0.13" stroke-width="0.8" transform="translate(689.8 0)"/><use href="#AT" fill="#808080" fill-opacity="0.13" stroke="#808080" stroke-opacity="0.13" stroke-width="0.8" transform="translate(689.8 0)"/><use href="#NF" fill="#4b0082" fill-opacity="0.6" stroke="#4b0082" stroke-opacity="0.6" stroke-width="0.8" transform="translate(689.8 0)"/><use href="#NT" fill="#ffa500" fill-opacity="0.6" stroke="#ffa500" stroke-opacity="0.6" stroke-width="0.8" transform="translate(689.8 0)"/>
<rect x="1144.5" y="924.7" width="290.8" height="284.3" fill="none" stroke="#000" stroke-width="1.6"/>
<path d="M1202.8 1209.0v6M1265.0 1209.0v6M1327.2 1209.0v6M1389.4 1209.0v6M1144.5 935.3h-6M1144.5 997.7h-6M1144.5 1060.1h-6M1144.5 1122.5h-6M1144.5 1184.9h-6" stroke="#000" stroke-width="1.4" fill="none"/>
<g font-family="'DejaVu Sans',sans-serif" font-size="13" fill="#000">
<text x="1202.8" y="1231.5" text-anchor="middle">−2</text>
<text x="1265.0" y="1231.5" text-anchor="middle">−1</text>
<text x="1327.2" y="1231.5" text-anchor="middle">0</text>
<text x="1389.4" y="1231.5" text-anchor="middle">1</text>
<text x="1134.5" y="940.3" text-anchor="end">1</text>
<text x="1134.5" y="1002.7" text-anchor="end">0</text>
<text x="1134.5" y="1065.1" text-anchor="end">−1</text>
<text x="1134.5" y="1127.5" text-anchor="end">−2</text>
<text x="1134.5" y="1189.9" text-anchor="end">−3</text>
</g>
<rect x="1489.1" y="924.7" width="290.8" height="284.3" fill="none" stroke="#000" stroke-width="1.6"/>
<path d="M1547.4 1209.0v6M1609.6 1209.0v6M1671.8 1209.0v6M1734.0 1209.0v6M1489.1 935.3h-6M1489.1 997.7h-6M1489.1 1060.1h-6M1489.1 1122.5h-6M1489.1 1184.9h-6" stroke="#000" stroke-width="1.4" fill="none"/>
<g font-family="'DejaVu Sans',sans-serif" font-size="13" fill="#000">
<text x="1547.4" y="1231.5" text-anchor="middle">−2</text>
<text x="1609.6" y="1231.5" text-anchor="middle">−1</text>
<text x="1671.8" y="1231.5" text-anchor="middle">0</text>
<text x="1734.0" y="1231.5" text-anchor="middle">1</text>
<text x="1479.1" y="940.3" text-anchor="end">1</text>
<text x="1479.1" y="1002.7" text-anchor="end">0</text>
<text x="1479.1" y="1065.1" text-anchor="end">−1</text>
<text x="1479.1" y="1127.5" text-anchor="end">−2</text>
<text x="1479.1" y="1189.9" text-anchor="end">−3</text>
</g>
<rect x="1834.3" y="924.7" width="290.8" height="284.3" fill="none" stroke="#000" stroke-width="1.6"/>
<path d="M1892.6 1209.0v6M1954.8 1209.0v6M2017.0 1209.0v6M2079.2 1209.0v6M1834.3 935.3h-6M1834.3 997.7h-6M1834.3 1060.1h-6M1834.3 1122.5h-6M1834.3 1184.9h-6" stroke="#000" stroke-width="1.4" fill="none"/>
<g font-family="'DejaVu Sans',sans-serif" font-size="13" fill="#000">
<text x="1892.6" y="1231.5" text-anchor="middle">−2</text>
<text x="1954.8" y="1231.5" text-anchor="middle">−1</text>
<text x="2017.0" y="1231.5" text-anchor="middle">0</text>
<text x="2079.2" y="1231.5" text-anchor="middle">1</text>
<text x="1824.3" y="940.3" text-anchor="end">1</text>
<text x="1824.3" y="1002.7" text-anchor="end">0</text>
<text x="1824.3" y="1065.1" text-anchor="end">−1</text>
<text x="1824.3" y="1127.5" text-anchor="end">−2</text>
<text x="1824.3" y="1189.9" text-anchor="end">−3</text>
</g>
<g font-family="'DejaVu Sans',sans-serif" font-size="26.3" fill="#000" text-anchor="middle">
<text x="1290" y="887">Affirmative &amp; Negated</text><text x="1290" y="916.5">Statements</text>
<text x="1634.6" y="916.5">Affirmative Statements</text>
<text x="1980.3" y="916.5">Negated Statements</text>
</g>
<g fill="#008000">
<path d="M1284.5 1071.7 V993 L1275.5 993.5 L1287.3 952 L1301 993.5 L1294.5 990 V1071.7 Z"/>
<path d="M1284.5 1061.7 H1368 L1363 1054.3 L1403.5 1066.7 L1363 1079.6 L1368 1071.7 H1284.5 Z"/>
<path d="M1631.3 1064.3 L1691.5 1007 L1682.5 1004.5 L1718.3 988.8 L1700.5 1023.5 L1698.3 1014.5 L1638.2 1071.6 Z"/>
</g>
<g font-family="'DejaVu Sans',sans-serif" font-style="italic" font-size="27" fill="#000">
<text x="1267.5" y="950">t<tspan font-size="19" dy="5">P</tspan></text>
<text x="1403" y="1083.6">t<tspan font-size="19" dy="5">G</tspan></text>
<text x="1716.5" y="986.5">t<tspan font-size="19" dy="5">A</tspan></text>
</g>
<rect x="1157.3" y="1116.5" width="153.5" height="81.5" rx="5" fill="#fff" fill-opacity="0.8" stroke="#ccc" stroke-width="1.3"/>
<rect x="1187.8" y="1135.5" width="9" height="9" fill="#4b0082"/><path d="M1192.3 1170.5 l5 9.5 h-10 z" fill="#ffa500"/>
<g font-family="'DejaVu Sans',sans-serif" font-size="22" fill="#000"><text x="1238.7" y="1144.7">False</text><text x="1237" y="1182.5">True</text></g>
<path d="M1290.0 1522.3C1298.7 1521.2 1307.3 1520.9 1316.0 1519.0C1319.7 1518.2 1323.3 1515.8 1327.0 1513.5C1330.7 1511.1 1334.3 1507.4 1338.0 1503.6C1341.7 1499.8 1345.3 1494.8 1349.0 1490.4C1352.7 1486.0 1356.3 1481.0 1360.0 1477.2C1363.7 1473.4 1367.3 1471.8 1371.0 1467.3C1373.2 1464.6 1375.4 1460.0 1377.6 1455.2C1380.5 1448.8 1383.5 1439.1 1386.4 1431.0C1389.3 1422.9 1392.3 1412.8 1395.2 1406.8C1398.1 1400.8 1401.1 1394.9 1404.0 1392.5C1406.2 1390.7 1408.4 1388.8 1410.6 1388.8C1412.8 1388.8 1415.0 1390.3 1417.2 1391.8C1420.1 1393.9 1423.1 1400.9 1426.0 1406.8C1428.9 1412.7 1431.9 1421.5 1434.8 1428.8C1437.7 1436.1 1440.7 1444.1 1443.6 1450.8C1446.5 1457.5 1449.5 1464.6 1452.4 1469.5C1455.3 1474.4 1458.3 1478.5 1461.2 1481.6C1464.1 1484.7 1467.1 1486.8 1470.0 1489.3C1473.7 1492.4 1477.3 1495.2 1481.0 1498.1C1484.7 1501.0 1488.3 1504.1 1492.0 1506.9C1495.7 1509.6 1499.3 1512.6 1503.0 1514.6C1506.7 1516.6 1510.3 1518.6 1514.0 1519.6C1518.4 1520.9 1522.8 1522.0 1527.2 1522.3C1533.8 1522.7 1540.4 1522.9 1547.0 1522.9C1557.1 1522.9 1567.2 1522.9 1577.3 1522.9" fill="none" stroke="#4b0082" stroke-width="2"/>
<path d="M1290.0 1522.9C1320.7 1522.9 1351.3 1522.9 1382.0 1522.9C1385.7 1522.9 1389.3 1522.1 1393.0 1521.6C1395.9 1521.2 1398.9 1520.3 1401.8 1520.3C1404.7 1520.3 1407.7 1520.3 1410.6 1520.3C1414.3 1520.3 1417.9 1518.5 1421.6 1517.2C1424.5 1516.2 1427.5 1513.5 1430.4 1513.5C1434.1 1513.5 1437.7 1513.5 1441.4 1513.5C1444.3 1513.5 1447.3 1512.0 1450.2 1510.2C1452.4 1508.9 1454.6 1505.3 1456.8 1501.4C1459.0 1497.5 1461.2 1490.6 1463.4 1483.8C1465.6 1477.0 1467.8 1467.7 1470.0 1459.6C1472.2 1451.5 1474.4 1441.4 1476.6 1435.4C1478.1 1431.4 1479.5 1427.8 1481.0 1425.5C1483.2 1422.0 1485.4 1420.7 1487.6 1417.8C1489.8 1414.9 1492.0 1410.0 1494.2 1407.9C1495.7 1406.5 1497.1 1405.0 1498.6 1404.6C1500.8 1404.0 1503.0 1404.2 1505.2 1403.5C1506.7 1403.0 1508.1 1399.6 1509.6 1395.8C1511.1 1392.0 1512.5 1382.8 1514.0 1373.8C1515.5 1364.8 1516.9 1350.8 1518.4 1338.6C1519.5 1329.4 1520.6 1315.1 1521.7 1310.0C1522.8 1304.9 1523.9 1299.7 1525.0 1299.7C1526.1 1299.7 1527.2 1301.8 1528.3 1304.5C1529.4 1307.2 1530.5 1318.1 1531.6 1327.6C1533.1 1340.2 1534.5 1361.0 1536.0 1378.2C1537.5 1395.4 1538.9 1415.0 1540.4 1431.0C1541.9 1447.0 1543.3 1464.0 1544.8 1475.0C1546.3 1486.0 1547.7 1495.5 1549.2 1501.4C1550.7 1507.3 1552.1 1512.0 1553.6 1514.6C1555.1 1517.2 1556.5 1519.2 1558.0 1520.1C1560.2 1521.4 1562.4 1522.4 1564.6 1522.5C1568.8 1522.8 1573.1 1522.8 1577.3 1522.9" fill="none" stroke="#ffa500" stroke-width="2"/>
<path d="M1691.8 1515.7C1696.2 1515.2 1700.6 1514.9 1705.0 1514.1C1709.4 1513.4 1713.8 1511.5 1718.2 1510.2C1722.6 1508.9 1727.0 1508.1 1731.4 1506.2C1735.1 1504.6 1738.7 1501.1 1742.4 1498.1C1746.1 1495.1 1749.7 1492.0 1753.4 1488.2C1756.3 1485.1 1759.3 1480.7 1762.2 1477.2C1765.1 1473.7 1768.1 1469.6 1771.0 1467.3C1774.7 1464.4 1778.3 1463.1 1782.0 1460.7C1785.7 1458.3 1789.3 1455.3 1793.0 1453.0C1796.7 1450.7 1800.3 1449.1 1804.0 1446.8C1806.9 1445.0 1809.9 1443.5 1812.8 1440.9C1815.7 1438.3 1818.7 1434.9 1821.6 1429.9C1823.8 1426.2 1826.0 1420.4 1828.2 1413.4C1830.4 1406.4 1832.6 1395.6 1834.8 1384.8C1837.0 1374.0 1839.2 1358.7 1841.4 1347.4C1843.6 1336.1 1845.8 1324.9 1848.0 1316.6C1849.5 1311.0 1850.9 1304.5 1852.4 1302.3C1853.5 1300.7 1854.6 1299.0 1855.7 1299.0C1856.8 1299.0 1857.9 1300.1 1859.0 1301.2C1860.5 1302.7 1861.9 1307.3 1863.4 1312.2C1865.6 1319.5 1867.8 1333.8 1870.0 1347.4C1872.2 1361.0 1874.4 1379.3 1876.6 1395.8C1878.8 1412.3 1881.0 1432.1 1883.2 1446.4C1885.4 1460.7 1887.6 1475.2 1889.8 1483.8C1892.0 1492.4 1894.2 1499.5 1896.4 1503.6C1898.6 1507.6 1900.8 1511.2 1903.0 1512.4C1905.9 1514.0 1908.9 1515.0 1911.8 1515.2C1916.9 1515.7 1922.1 1515.9 1927.2 1515.9C1944.6 1515.9 1962.1 1515.9 1979.5 1515.9" fill="none" stroke="#4b0082" stroke-width="2"/>
<path d="M1691.8 1515.9C1721.9 1515.9 1751.9 1515.9 1782.0 1515.9C1786.4 1515.9 1790.8 1515.4 1795.2 1514.6C1798.1 1514.1 1801.1 1512.5 1804.0 1510.2C1806.2 1508.4 1808.4 1503.5 1810.6 1499.2C1812.8 1494.9 1815.0 1489.3 1817.2 1483.8C1819.4 1478.3 1821.6 1472.1 1823.8 1466.2C1826.0 1460.3 1828.2 1453.1 1830.4 1448.6C1832.6 1444.1 1834.8 1439.3 1837.0 1437.6C1839.2 1435.9 1841.4 1434.3 1843.6 1434.3C1845.8 1434.3 1848.0 1435.0 1850.2 1435.0C1852.4 1435.0 1854.6 1432.9 1856.8 1431.0C1859.0 1429.0 1861.2 1423.8 1863.4 1420.0C1865.6 1416.2 1867.8 1410.2 1870.0 1407.9C1871.1 1406.7 1872.2 1405.3 1873.3 1405.3C1874.8 1405.3 1876.2 1406.6 1877.7 1407.9C1879.5 1409.6 1881.4 1415.6 1883.2 1418.9C1884.7 1421.5 1886.1 1424.9 1887.6 1426.2C1888.8 1427.2 1890.1 1428.4 1891.3 1428.4C1892.6 1428.4 1894.0 1426.4 1895.3 1424.4C1897.1 1421.6 1899.0 1412.8 1900.8 1404.6C1903.0 1394.8 1905.2 1377.0 1907.4 1365.0C1909.6 1353.0 1911.8 1339.2 1914.0 1332.0C1915.5 1327.2 1916.9 1322.5 1918.4 1321.0C1919.5 1319.9 1920.6 1318.8 1921.7 1318.8C1922.8 1318.8 1923.9 1319.9 1925.0 1321.0C1926.5 1322.5 1927.9 1327.0 1929.4 1332.0C1931.6 1339.4 1933.8 1354.8 1936.0 1369.4C1938.2 1384.0 1940.4 1405.4 1942.6 1422.2C1944.8 1439.0 1947.0 1458.6 1949.2 1470.6C1951.4 1482.6 1953.6 1493.5 1955.8 1499.2C1958.0 1504.9 1960.2 1509.4 1962.4 1511.3C1964.6 1513.2 1966.8 1514.7 1969.0 1515.0C1972.5 1515.6 1976.0 1515.6 1979.5 1515.9" fill="none" stroke="#ffa500" stroke-width="2"/>
<path d="M1338.0 1531.1H1456.8" stroke="#4b0082" stroke-width="4.6" stroke-linecap="round" fill="none" stroke-opacity="1"/><path d="M1313.8 1531.1H1338.0" stroke="#4b0082" stroke-width="4.4" stroke-linecap="round" stroke-dasharray="0 4.5" fill="none" stroke-opacity="0.5"/><path d="M1461.2 1531.1H1552.5" stroke="#ffa500" stroke-width="4.6" stroke-linecap="round" fill="none" stroke-opacity="1"/><path d="M1399.6 1531.1H1461.2" stroke="#ffa500" stroke-width="4.4" stroke-linecap="round" stroke-dasharray="0 7" fill="none" stroke-opacity="0.55"/>
<path d="M1740.2 1527.8H1872.2" stroke="#4b0082" stroke-width="4.6" stroke-linecap="round" fill="none" stroke-opacity="1"/><path d="M1714.9 1527.8H1729.2" stroke="#4b0082" stroke-width="4.4" stroke-linecap="round" stroke-dasharray="0 4" fill="none" stroke-opacity="0.5"/><path d="M1873.3 1527.8H1954.7" stroke="#ffa500" stroke-width="4.6" stroke-linecap="round" fill="none" stroke-opacity="1"/><path d="M1795.2 1527.8H1892.0" stroke="#ffa500" stroke-width="4.4" stroke-linecap="round" stroke-dasharray="0 7.5" fill="none" stroke-opacity="0.55"/>
<rect x="1290.0" y="1264.2" width="287.3" height="275.5" fill="none" stroke="#000" stroke-width="1.6"/>
<rect x="1298.8" y="1273.7" width="137.8" height="29.7" fill="#fff" stroke="#333" stroke-width="1.2"/>
<rect x="1691.8" y="1264.2" width="287.7" height="275.5" fill="none" stroke="#000" stroke-width="1.6"/>
<rect x="1700.6" y="1273.7" width="137.8" height="29.7" fill="#fff" stroke="#333" stroke-width="1.2"/>
<g font-family="'DejaVu Sans',sans-serif" fill="#000">
<text x="1304" y="1294.2" font-size="19.4">AUROC: 0.98</text><text x="1706" y="1294.2" font-size="19.4">AUROC: 0.87</text>
<text transform="translate(1279.5 1405.7) rotate(-90)" text-anchor="middle" font-size="25.3">Frequency</text>
<text transform="translate(1681.3 1405.7) rotate(-90)" text-anchor="middle" font-size="25.3">Frequency</text>
<text x="1406.5" y="1570.7" font-size="26" font-style="italic">a<tspan font-size="18" dy="-9">T</tspan><tspan dy="9">t</tspan><tspan font-size="18" dy="5">G</tspan></text>
<text x="1809" y="1570.7" font-size="26" font-style="italic">a<tspan font-size="18" dy="-9">T</tspan><tspan dy="9">t</tspan><tspan font-size="18" dy="5">A</tspan></text>
</g>
<g font-family="'DejaVu Sans',sans-serif" fill="#000">
<text x="2796.8" y="480.6" font-size="22.9" text-anchor="middle">Fraction of variance in centered and averaged</text>
<text x="2796.8" y="506" font-size="22.9" text-anchor="middle">activations explained by PCs</text>
<path d="M2374.1 538.0V725.5M2432.2 538.0V725.5M2490.2 538.0V725.5M2548.3 538.0V725.5M2606.4 538.0V725.5M2331.9 549.5H2620.2M2331.9 604.6H2620.2M2331.9 661.2H2620.2M2331.9 716.6H2620.2" stroke="#b8b8b8" stroke-width="1.1" fill="none"/>
<path d="M2374.1 725.5v5M2432.2 725.5v5M2490.2 725.5v5M2548.3 725.5v5M2606.4 725.5v5M2331.9 549.5h-5M2331.9 604.6h-5M2331.9 661.2h-5M2331.9 716.6h-5" stroke="#000" stroke-width="1.2" fill="none"/>
<rect x="2331.9" y="538.0" width="288.3" height="187.5" fill="none" stroke="#222" stroke-width="1.4"/>
<circle cx="2345.0" cy="547.0" r="4.4" fill="#1f77b4"/>
<circle cx="2374.1" cy="677.8" r="4.4" fill="#1f77b4"/>
<circle cx="2403.1" cy="686.7" r="4.4" fill="#1f77b4"/>
<circle cx="2432.2" cy="698.0" r="4.4" fill="#1f77b4"/>
<circle cx="2461.2" cy="704.0" r="4.4" fill="#1f77b4"/>
<circle cx="2490.2" cy="708.0" r="4.4" fill="#1f77b4"/>
<circle cx="2519.3" cy="716.6" r="4.4" fill="#1f77b4"/>
<circle cx="2548.3" cy="716.6" r="4.4" fill="#1f77b4"/>
<circle cx="2577.4" cy="716.6" r="4.4" fill="#1f77b4"/>
<circle cx="2606.4" cy="716.6" r="4.4" fill="#1f77b4"/>
<text x="2374.1" y="743.9" font-size="15.2" text-anchor="middle">2</text>
<text x="2432.2" y="743.9" font-size="15.2" text-anchor="middle">4</text>
<text x="2490.2" y="743.9" font-size="15.2" text-anchor="middle">6</text>
<text x="2548.3" y="743.9" font-size="15.2" text-anchor="middle">8</text>
<text x="2606.4" y="743.9" font-size="15.2" text-anchor="middle">10</text>
<text x="2324.9" y="555.1" font-size="15.2" text-anchor="end">0.6</text>
<text x="2324.9" y="610.2" font-size="15.2" text-anchor="end">0.4</text>
<text x="2324.9" y="666.8" font-size="15.2" text-anchor="end">0.2</text>
<text x="2324.9" y="722.2" font-size="15.2" text-anchor="end">0.0</text>
<text x="2476.1" y="534.1" font-size="21.3" text-anchor="middle">affirmative</text>
<path d="M2720.6 538.0V725.5M2778.7 538.0V725.5M2836.8 538.0V725.5M2894.8 538.0V725.5M2952.9 538.0V725.5M2678.4 567.9H2966.7M2678.4 621.7H2966.7M2678.4 675.0H2966.7" stroke="#b8b8b8" stroke-width="1.1" fill="none"/>
<path d="M2720.6 725.5v5M2778.7 725.5v5M2836.8 725.5v5M2894.8 725.5v5M2952.9 725.5v5M2678.4 567.9h-5M2678.4 621.7h-5M2678.4 675.0h-5" stroke="#000" stroke-width="1.2" fill="none"/>
<rect x="2678.4" y="538.0" width="288.3" height="187.5" fill="none" stroke="#222" stroke-width="1.4"/>
<circle cx="2691.5" cy="547.0" r="4.4" fill="#1f77b4"/>
<circle cx="2720.6" cy="569.4" r="4.4" fill="#1f77b4"/>
<circle cx="2749.6" cy="682.9" r="4.4" fill="#1f77b4"/>
<circle cx="2778.7" cy="696.2" r="4.4" fill="#1f77b4"/>
<circle cx="2807.7" cy="701.3" r="4.4" fill="#1f77b4"/>
<circle cx="2836.8" cy="710.2" r="4.4" fill="#1f77b4"/>
<circle cx="2865.8" cy="710.5" r="4.4" fill="#1f77b4"/>
<circle cx="2894.8" cy="712.0" r="4.4" fill="#1f77b4"/>
<circle cx="2923.9" cy="716.2" r="4.4" fill="#1f77b4"/>
<circle cx="2952.9" cy="716.2" r="4.4" fill="#1f77b4"/>
<text x="2720.6" y="743.9" font-size="15.2" text-anchor="middle">2</text>
<text x="2778.7" y="743.9" font-size="15.2" text-anchor="middle">4</text>
<text x="2836.8" y="743.9" font-size="15.2" text-anchor="middle">6</text>
<text x="2894.8" y="743.9" font-size="15.2" text-anchor="middle">8</text>
<text x="2952.9" y="743.9" font-size="15.2" text-anchor="middle">10</text>
<text x="2671.4" y="573.5" font-size="15.2" text-anchor="end">0.3</text>
<text x="2671.4" y="627.3" font-size="15.2" text-anchor="end">0.2</text>
<text x="2671.4" y="680.6" font-size="15.2" text-anchor="end">0.1</text>
<text x="2822.6" y="534.1" font-size="21.3" text-anchor="middle">affirmative, negated</text>
<path d="M3067.0 538.0V725.5M3125.1 538.0V725.5M3183.2 538.0V725.5M3241.2 538.0V725.5M3299.3 538.0V725.5M3024.8 567.8H3313.1M3024.8 620.5H3313.1M3024.8 673.3H3313.1" stroke="#b8b8b8" stroke-width="1.1" fill="none"/>
<path d="M3067.0 725.5v5M3125.1 725.5v5M3183.2 725.5v5M3241.2 725.5v5M3299.3 725.5v5M3024.8 567.8h-5M3024.8 620.5h-5M3024.8 673.3h-5" stroke="#000" stroke-width="1.2" fill="none"/>
<rect x="3024.8" y="538.0" width="288.3" height="187.5" fill="none" stroke="#222" stroke-width="1.4"/>
<circle cx="3037.9" cy="547.1" r="4.4" fill="#1f77b4"/>
<circle cx="3067.0" cy="595.7" r="4.4" fill="#1f77b4"/>
<circle cx="3096.0" cy="686.7" r="4.4" fill="#1f77b4"/>
<circle cx="3125.1" cy="690.3" r="4.4" fill="#1f77b4"/>
<circle cx="3154.1" cy="699.1" r="4.4" fill="#1f77b4"/>
<circle cx="3183.2" cy="703.8" r="4.4" fill="#1f77b4"/>
<circle cx="3212.2" cy="711.5" r="4.4" fill="#1f77b4"/>
<circle cx="3241.2" cy="712.0" r="4.4" fill="#1f77b4"/>
<circle cx="3270.3" cy="714.1" r="4.4" fill="#1f77b4"/>
<circle cx="3299.3" cy="716.2" r="4.4" fill="#1f77b4"/>
<text x="3067.0" y="743.9" font-size="15.2" text-anchor="middle">2</text>
<text x="3125.1" y="743.9" font-size="15.2" text-anchor="middle">4</text>
<text x="3183.2" y="743.9" font-size="15.2" text-anchor="middle">6</text>
<text x="3241.2" y="743.9" font-size="15.2" text-anchor="middle">8</text>
<text x="3299.3" y="743.9" font-size="15.2" text-anchor="middle">10</text>
<text x="3017.8" y="573.4" font-size="15.2" text-anchor="end">0.3</text>
<text x="3017.8" y="626.1" font-size="15.2" text-anchor="end">0.2</text>
<text x="3017.8" y="678.9" font-size="15.2" text-anchor="end">0.1</text>
<text x="3169.0" y="534.1" font-size="21.3" text-anchor="middle">affirmative, negated, conjunctions</text>
<path d="M2374.1 800.0V987.6M2432.2 800.0V987.6M2490.2 800.0V987.6M2548.3 800.0V987.6M2606.4 800.0V987.6M2331.9 851.6H2620.2M2331.9 917.3H2620.2M2331.9 982.4H2620.2" stroke="#b8b8b8" stroke-width="1.1" fill="none"/>
<path d="M2374.1 987.6v5M2432.2 987.6v5M2490.2 987.6v5M2548.3 987.6v5M2606.4 987.6v5M2331.9 851.6h-5M2331.9 917.3h-5M2331.9 982.4h-5" stroke="#000" stroke-width="1.2" fill="none"/>
<rect x="2331.9" y="800.0" width="288.3" height="187.6" fill="none" stroke="#222" stroke-width="1.4"/>
<circle cx="2345.0" cy="809.2" r="4.4" fill="#1f77b4"/>
<circle cx="2374.1" cy="941.1" r="4.4" fill="#1f77b4"/>
<circle cx="2403.1" cy="950.9" r="4.4" fill="#1f77b4"/>
<circle cx="2432.2" cy="960.7" r="4.4" fill="#1f77b4"/>
<circle cx="2461.2" cy="968.0" r="4.4" fill="#1f77b4"/>
<circle cx="2490.2" cy="972.6" r="4.4" fill="#1f77b4"/>
<circle cx="2519.3" cy="974.2" r="4.4" fill="#1f77b4"/>
<circle cx="2548.3" cy="975.2" r="4.4" fill="#1f77b4"/>
<circle cx="2577.4" cy="978.3" r="4.4" fill="#1f77b4"/>
<circle cx="2606.4" cy="978.3" r="4.4" fill="#1f77b4"/>
<text x="2374.1" y="1006.0" font-size="15.2" text-anchor="middle">2</text>
<text x="2432.2" y="1006.0" font-size="15.2" text-anchor="middle">4</text>
<text x="2490.2" y="1006.0" font-size="15.2" text-anchor="middle">6</text>
<text x="2548.3" y="1006.0" font-size="15.2" text-anchor="middle">8</text>
<text x="2606.4" y="1006.0" font-size="15.2" text-anchor="middle">10</text>
<text x="2324.9" y="857.2" font-size="15.2" text-anchor="end">0.4</text>
<text x="2324.9" y="922.9" font-size="15.2" text-anchor="end">0.2</text>
<text x="2324.9" y="988.0" font-size="15.2" text-anchor="end">0.0</text>
<text x="2476.1" y="794.4" font-size="21.3" text-anchor="middle">affirmative, affirmative German</text>
<text x="2476.1" y="1028" font-size="20.8" text-anchor="middle">PC index</text>
<path d="M2720.6 800.0V987.6M2778.7 800.0V987.6M2836.8 800.0V987.6M2894.8 800.0V987.6M2952.9 800.0V987.6M2678.4 802.5H2966.7M2678.4 866.6H2966.7M2678.4 930.2H2966.7" stroke="#b8b8b8" stroke-width="1.1" fill="none"/>
<path d="M2720.6 987.6v5M2778.7 987.6v5M2836.8 987.6v5M2894.8 987.6v5M2952.9 987.6v5M2678.4 802.5h-5M2678.4 866.6h-5M2678.4 930.2h-5" stroke="#000" stroke-width="1.2" fill="none"/>
<rect x="2678.4" y="800.0" width="288.3" height="187.6" fill="none" stroke="#222" stroke-width="1.4"/>
<circle cx="2691.5" cy="809.2" r="4.4" fill="#1f77b4"/>
<circle cx="2720.6" cy="819.0" r="4.4" fill="#1f77b4"/>
<circle cx="2749.6" cy="942.1" r="4.4" fill="#1f77b4"/>
<circle cx="2778.7" cy="955.5" r="4.4" fill="#1f77b4"/>
<circle cx="2807.7" cy="963.3" r="4.4" fill="#1f77b4"/>
<circle cx="2836.8" cy="971.0" r="4.4" fill="#1f77b4"/>
<circle cx="2865.8" cy="973.1" r="4.4" fill="#1f77b4"/>
<circle cx="2894.8" cy="973.7" r="4.4" fill="#1f77b4"/>
<circle cx="2923.9" cy="978.3" r="4.4" fill="#1f77b4"/>
<circle cx="2952.9" cy="978.3" r="4.4" fill="#1f77b4"/>
<text x="2720.6" y="1006.0" font-size="15.2" text-anchor="middle">2</text>
<text x="2778.7" y="1006.0" font-size="15.2" text-anchor="middle">4</text>
<text x="2836.8" y="1006.0" font-size="15.2" text-anchor="middle">6</text>
<text x="2894.8" y="1006.0" font-size="15.2" text-anchor="middle">8</text>
<text x="2952.9" y="1006.0" font-size="15.2" text-anchor="middle">10</text>
<text x="2671.4" y="808.1" font-size="15.2" text-anchor="end">0.3</text>
<text x="2671.4" y="872.2" font-size="15.2" text-anchor="end">0.2</text>
<text x="2671.4" y="935.8" font-size="15.2" text-anchor="end">0.1</text>
<text x="2822.6" y="772.0" font-size="21.3" text-anchor="middle">affirmative, affirmative German,</text>
<text x="2822.6" y="794.4" font-size="21.3" text-anchor="middle">negated, negated German</text>
<text x="2822.6" y="1028" font-size="20.8" text-anchor="middle">PC index</text>
<path d="M3067.0 800.0V987.6M3125.1 800.0V987.6M3183.2 800.0V987.6M3241.2 800.0V987.6M3299.3 800.0V987.6M3024.8 824.2H3313.1M3024.8 880.0H3313.1M3024.8 935.4H3313.1" stroke="#b8b8b8" stroke-width="1.1" fill="none"/>
<path d="M3067.0 987.6v5M3125.1 987.6v5M3183.2 987.6v5M3241.2 987.6v5M3299.3 987.6v5M3024.8 824.2h-5M3024.8 880.0h-5M3024.8 935.4h-5" stroke="#000" stroke-width="1.2" fill="none"/>
<rect x="3024.8" y="800.0" width="288.3" height="187.6" fill="none" stroke="#222" stroke-width="1.4"/>
<circle cx="3037.9" cy="809.2" r="4.4" fill="#1f77b4"/>
<circle cx="3067.0" cy="860.4" r="4.4" fill="#1f77b4"/>
<circle cx="3096.0" cy="950.9" r="4.4" fill="#1f77b4"/>
<circle cx="3125.1" cy="954.5" r="4.4" fill="#1f77b4"/>
<circle cx="3154.1" cy="964.3" r="4.4" fill="#1f77b4"/>
<circle cx="3183.2" cy="968.0" r="4.4" fill="#1f77b4"/>
<circle cx="3212.2" cy="976.2" r="4.4" fill="#1f77b4"/>
<circle cx="3241.2" cy="976.8" r="4.4" fill="#1f77b4"/>
<circle cx="3270.3" cy="978.3" r="4.4" fill="#1f77b4"/>
<circle cx="3299.3" cy="978.3" r="4.4" fill="#1f77b4"/>
<text x="3067.0" y="1006.0" font-size="15.2" text-anchor="middle">2</text>
<text x="3125.1" y="1006.0" font-size="15.2" text-anchor="middle">4</text>
<text x="3183.2" y="1006.0" font-size="15.2" text-anchor="middle">6</text>
<text x="3241.2" y="1006.0" font-size="15.2" text-anchor="middle">8</text>
<text x="3299.3" y="1006.0" font-size="15.2" text-anchor="middle">10</text>
<text x="3017.8" y="829.8" font-size="15.2" text-anchor="end">0.3</text>
<text x="3017.8" y="885.6" font-size="15.2" text-anchor="end">0.2</text>
<text x="3017.8" y="941.0" font-size="15.2" text-anchor="end">0.1</text>
<text x="3169.0" y="772.0" font-size="21.3" text-anchor="middle">affirmative, negated,</text>
<text x="3169.0" y="794.4" font-size="21.3" text-anchor="middle">conjunctions, disjunctions</text>
<text x="3169.0" y="1028" font-size="20.8" text-anchor="middle">PC index</text>
<text transform="translate(2291 631) rotate(-90)" text-anchor="middle" font-size="20.7">Explained variance</text>
<text transform="translate(2291 893) rotate(-90)" text-anchor="middle" font-size="20.7">Explained variance</text>
</g></svg>
</body></html>
